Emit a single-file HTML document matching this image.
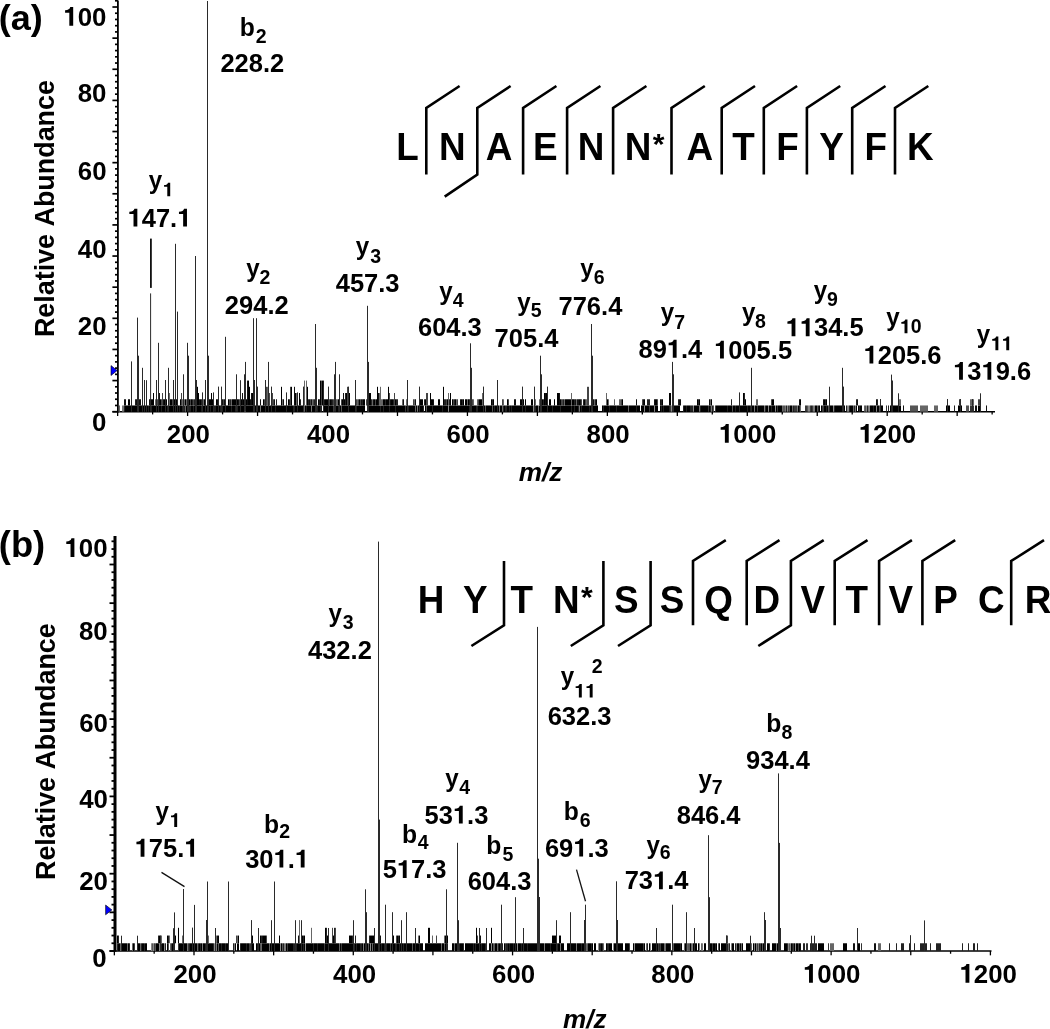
<!DOCTYPE html>
<html><head><meta charset="utf-8"><style>
html,body{margin:0;padding:0;background:#fff;}
body{width:1050px;height:1029px;overflow:hidden;}
svg{display:block;will-change:transform;}
text{font-family:"Liberation Sans",sans-serif;font-weight:bold;fill:#000;font-kerning:none;}
.h{fill:transparent;}
</style></head><body>
<svg width="1050" height="1029" viewBox="0 0 1050 1029">
<defs><path id="one" d="M0.384,0 L0.384,-0.70 L0.27,-0.70 C0.25,-0.62 0.19,-0.585 0.07,-0.58 L0.07,-0.49 L0.234,-0.49 L0.234,0 Z"/></defs>
<rect width="1050" height="1029" fill="#fff"/>
<line x1="117.90" y1="0.50" x2="117.90" y2="412.40" stroke="#000" stroke-width="1.8" stroke-linecap="butt"/>
<line x1="112.40" y1="411.70" x2="117.90" y2="411.70" stroke="#000" stroke-width="1.7" stroke-linecap="butt"/>
<line x1="115.00" y1="405.47" x2="117.90" y2="405.47" stroke="#000" stroke-width="1.7" stroke-linecap="butt"/>
<line x1="115.00" y1="399.25" x2="117.90" y2="399.25" stroke="#000" stroke-width="1.7" stroke-linecap="butt"/>
<line x1="115.00" y1="393.02" x2="117.90" y2="393.02" stroke="#000" stroke-width="1.7" stroke-linecap="butt"/>
<line x1="115.00" y1="386.80" x2="117.90" y2="386.80" stroke="#000" stroke-width="1.7" stroke-linecap="butt"/>
<line x1="112.40" y1="380.57" x2="117.90" y2="380.57" stroke="#000" stroke-width="1.7" stroke-linecap="butt"/>
<line x1="115.00" y1="374.34" x2="117.90" y2="374.34" stroke="#000" stroke-width="1.7" stroke-linecap="butt"/>
<line x1="115.00" y1="368.12" x2="117.90" y2="368.12" stroke="#000" stroke-width="1.7" stroke-linecap="butt"/>
<line x1="115.00" y1="361.89" x2="117.90" y2="361.89" stroke="#000" stroke-width="1.7" stroke-linecap="butt"/>
<line x1="115.00" y1="355.67" x2="117.90" y2="355.67" stroke="#000" stroke-width="1.7" stroke-linecap="butt"/>
<line x1="112.40" y1="349.44" x2="117.90" y2="349.44" stroke="#000" stroke-width="1.7" stroke-linecap="butt"/>
<line x1="115.00" y1="343.21" x2="117.90" y2="343.21" stroke="#000" stroke-width="1.7" stroke-linecap="butt"/>
<line x1="115.00" y1="336.99" x2="117.90" y2="336.99" stroke="#000" stroke-width="1.7" stroke-linecap="butt"/>
<line x1="115.00" y1="330.76" x2="117.90" y2="330.76" stroke="#000" stroke-width="1.7" stroke-linecap="butt"/>
<line x1="115.00" y1="324.54" x2="117.90" y2="324.54" stroke="#000" stroke-width="1.7" stroke-linecap="butt"/>
<line x1="112.40" y1="318.31" x2="117.90" y2="318.31" stroke="#000" stroke-width="1.7" stroke-linecap="butt"/>
<line x1="115.00" y1="312.08" x2="117.90" y2="312.08" stroke="#000" stroke-width="1.7" stroke-linecap="butt"/>
<line x1="115.00" y1="305.86" x2="117.90" y2="305.86" stroke="#000" stroke-width="1.7" stroke-linecap="butt"/>
<line x1="115.00" y1="299.63" x2="117.90" y2="299.63" stroke="#000" stroke-width="1.7" stroke-linecap="butt"/>
<line x1="115.00" y1="293.41" x2="117.90" y2="293.41" stroke="#000" stroke-width="1.7" stroke-linecap="butt"/>
<line x1="112.40" y1="287.18" x2="117.90" y2="287.18" stroke="#000" stroke-width="1.7" stroke-linecap="butt"/>
<line x1="115.00" y1="280.95" x2="117.90" y2="280.95" stroke="#000" stroke-width="1.7" stroke-linecap="butt"/>
<line x1="115.00" y1="274.73" x2="117.90" y2="274.73" stroke="#000" stroke-width="1.7" stroke-linecap="butt"/>
<line x1="115.00" y1="268.50" x2="117.90" y2="268.50" stroke="#000" stroke-width="1.7" stroke-linecap="butt"/>
<line x1="115.00" y1="262.28" x2="117.90" y2="262.28" stroke="#000" stroke-width="1.7" stroke-linecap="butt"/>
<line x1="112.40" y1="256.05" x2="117.90" y2="256.05" stroke="#000" stroke-width="1.7" stroke-linecap="butt"/>
<line x1="115.00" y1="249.82" x2="117.90" y2="249.82" stroke="#000" stroke-width="1.7" stroke-linecap="butt"/>
<line x1="115.00" y1="243.60" x2="117.90" y2="243.60" stroke="#000" stroke-width="1.7" stroke-linecap="butt"/>
<line x1="115.00" y1="237.37" x2="117.90" y2="237.37" stroke="#000" stroke-width="1.7" stroke-linecap="butt"/>
<line x1="115.00" y1="231.15" x2="117.90" y2="231.15" stroke="#000" stroke-width="1.7" stroke-linecap="butt"/>
<line x1="112.40" y1="224.92" x2="117.90" y2="224.92" stroke="#000" stroke-width="1.7" stroke-linecap="butt"/>
<line x1="115.00" y1="218.69" x2="117.90" y2="218.69" stroke="#000" stroke-width="1.7" stroke-linecap="butt"/>
<line x1="115.00" y1="212.47" x2="117.90" y2="212.47" stroke="#000" stroke-width="1.7" stroke-linecap="butt"/>
<line x1="115.00" y1="206.24" x2="117.90" y2="206.24" stroke="#000" stroke-width="1.7" stroke-linecap="butt"/>
<line x1="115.00" y1="200.02" x2="117.90" y2="200.02" stroke="#000" stroke-width="1.7" stroke-linecap="butt"/>
<line x1="112.40" y1="193.79" x2="117.90" y2="193.79" stroke="#000" stroke-width="1.7" stroke-linecap="butt"/>
<line x1="115.00" y1="187.56" x2="117.90" y2="187.56" stroke="#000" stroke-width="1.7" stroke-linecap="butt"/>
<line x1="115.00" y1="181.34" x2="117.90" y2="181.34" stroke="#000" stroke-width="1.7" stroke-linecap="butt"/>
<line x1="115.00" y1="175.11" x2="117.90" y2="175.11" stroke="#000" stroke-width="1.7" stroke-linecap="butt"/>
<line x1="115.00" y1="168.89" x2="117.90" y2="168.89" stroke="#000" stroke-width="1.7" stroke-linecap="butt"/>
<line x1="112.40" y1="162.66" x2="117.90" y2="162.66" stroke="#000" stroke-width="1.7" stroke-linecap="butt"/>
<line x1="115.00" y1="156.43" x2="117.90" y2="156.43" stroke="#000" stroke-width="1.7" stroke-linecap="butt"/>
<line x1="115.00" y1="150.21" x2="117.90" y2="150.21" stroke="#000" stroke-width="1.7" stroke-linecap="butt"/>
<line x1="115.00" y1="143.98" x2="117.90" y2="143.98" stroke="#000" stroke-width="1.7" stroke-linecap="butt"/>
<line x1="115.00" y1="137.76" x2="117.90" y2="137.76" stroke="#000" stroke-width="1.7" stroke-linecap="butt"/>
<line x1="112.40" y1="131.53" x2="117.90" y2="131.53" stroke="#000" stroke-width="1.7" stroke-linecap="butt"/>
<line x1="115.00" y1="125.30" x2="117.90" y2="125.30" stroke="#000" stroke-width="1.7" stroke-linecap="butt"/>
<line x1="115.00" y1="119.08" x2="117.90" y2="119.08" stroke="#000" stroke-width="1.7" stroke-linecap="butt"/>
<line x1="115.00" y1="112.85" x2="117.90" y2="112.85" stroke="#000" stroke-width="1.7" stroke-linecap="butt"/>
<line x1="115.00" y1="106.63" x2="117.90" y2="106.63" stroke="#000" stroke-width="1.7" stroke-linecap="butt"/>
<line x1="112.40" y1="100.40" x2="117.90" y2="100.40" stroke="#000" stroke-width="1.7" stroke-linecap="butt"/>
<line x1="115.00" y1="94.17" x2="117.90" y2="94.17" stroke="#000" stroke-width="1.7" stroke-linecap="butt"/>
<line x1="115.00" y1="87.95" x2="117.90" y2="87.95" stroke="#000" stroke-width="1.7" stroke-linecap="butt"/>
<line x1="115.00" y1="81.72" x2="117.90" y2="81.72" stroke="#000" stroke-width="1.7" stroke-linecap="butt"/>
<line x1="115.00" y1="75.50" x2="117.90" y2="75.50" stroke="#000" stroke-width="1.7" stroke-linecap="butt"/>
<line x1="112.40" y1="69.27" x2="117.90" y2="69.27" stroke="#000" stroke-width="1.7" stroke-linecap="butt"/>
<line x1="115.00" y1="63.04" x2="117.90" y2="63.04" stroke="#000" stroke-width="1.7" stroke-linecap="butt"/>
<line x1="115.00" y1="56.82" x2="117.90" y2="56.82" stroke="#000" stroke-width="1.7" stroke-linecap="butt"/>
<line x1="115.00" y1="50.59" x2="117.90" y2="50.59" stroke="#000" stroke-width="1.7" stroke-linecap="butt"/>
<line x1="115.00" y1="44.37" x2="117.90" y2="44.37" stroke="#000" stroke-width="1.7" stroke-linecap="butt"/>
<line x1="112.40" y1="38.14" x2="117.90" y2="38.14" stroke="#000" stroke-width="1.7" stroke-linecap="butt"/>
<line x1="115.00" y1="31.91" x2="117.90" y2="31.91" stroke="#000" stroke-width="1.7" stroke-linecap="butt"/>
<line x1="115.00" y1="25.69" x2="117.90" y2="25.69" stroke="#000" stroke-width="1.7" stroke-linecap="butt"/>
<line x1="115.00" y1="19.46" x2="117.90" y2="19.46" stroke="#000" stroke-width="1.7" stroke-linecap="butt"/>
<line x1="115.00" y1="13.24" x2="117.90" y2="13.24" stroke="#000" stroke-width="1.7" stroke-linecap="butt"/>
<line x1="112.40" y1="7.01" x2="117.90" y2="7.01" stroke="#000" stroke-width="1.7" stroke-linecap="butt"/>
<line x1="115.00" y1="0.78" x2="117.90" y2="0.78" stroke="#000" stroke-width="1.7" stroke-linecap="butt"/>
<line x1="112.40" y1="411.70" x2="995.00" y2="411.70" stroke="#000" stroke-width="1.4" stroke-linecap="butt"/>
<line x1="117.64" y1="411.70" x2="117.64" y2="416.00" stroke="#000" stroke-width="1.3" stroke-linecap="butt"/>
<line x1="152.62" y1="411.70" x2="152.62" y2="414.40" stroke="#000" stroke-width="1.3" stroke-linecap="butt"/>
<line x1="187.60" y1="411.70" x2="187.60" y2="416.00" stroke="#000" stroke-width="1.3" stroke-linecap="butt"/>
<line x1="222.58" y1="411.70" x2="222.58" y2="414.40" stroke="#000" stroke-width="1.3" stroke-linecap="butt"/>
<line x1="257.56" y1="411.70" x2="257.56" y2="416.00" stroke="#000" stroke-width="1.3" stroke-linecap="butt"/>
<line x1="292.54" y1="411.70" x2="292.54" y2="414.40" stroke="#000" stroke-width="1.3" stroke-linecap="butt"/>
<line x1="327.52" y1="411.70" x2="327.52" y2="416.00" stroke="#000" stroke-width="1.3" stroke-linecap="butt"/>
<line x1="362.50" y1="411.70" x2="362.50" y2="414.40" stroke="#000" stroke-width="1.3" stroke-linecap="butt"/>
<line x1="397.48" y1="411.70" x2="397.48" y2="416.00" stroke="#000" stroke-width="1.3" stroke-linecap="butt"/>
<line x1="432.46" y1="411.70" x2="432.46" y2="414.40" stroke="#000" stroke-width="1.3" stroke-linecap="butt"/>
<line x1="467.44" y1="411.70" x2="467.44" y2="416.00" stroke="#000" stroke-width="1.3" stroke-linecap="butt"/>
<line x1="502.42" y1="411.70" x2="502.42" y2="414.40" stroke="#000" stroke-width="1.3" stroke-linecap="butt"/>
<line x1="537.40" y1="411.70" x2="537.40" y2="416.00" stroke="#000" stroke-width="1.3" stroke-linecap="butt"/>
<line x1="572.38" y1="411.70" x2="572.38" y2="414.40" stroke="#000" stroke-width="1.3" stroke-linecap="butt"/>
<line x1="607.36" y1="411.70" x2="607.36" y2="416.00" stroke="#000" stroke-width="1.3" stroke-linecap="butt"/>
<line x1="642.34" y1="411.70" x2="642.34" y2="414.40" stroke="#000" stroke-width="1.3" stroke-linecap="butt"/>
<line x1="677.32" y1="411.70" x2="677.32" y2="416.00" stroke="#000" stroke-width="1.3" stroke-linecap="butt"/>
<line x1="712.30" y1="411.70" x2="712.30" y2="414.40" stroke="#000" stroke-width="1.3" stroke-linecap="butt"/>
<line x1="747.28" y1="411.70" x2="747.28" y2="416.00" stroke="#000" stroke-width="1.3" stroke-linecap="butt"/>
<line x1="782.26" y1="411.70" x2="782.26" y2="414.40" stroke="#000" stroke-width="1.3" stroke-linecap="butt"/>
<line x1="817.24" y1="411.70" x2="817.24" y2="416.00" stroke="#000" stroke-width="1.3" stroke-linecap="butt"/>
<line x1="852.22" y1="411.70" x2="852.22" y2="414.40" stroke="#000" stroke-width="1.3" stroke-linecap="butt"/>
<line x1="887.20" y1="411.70" x2="887.20" y2="416.00" stroke="#000" stroke-width="1.3" stroke-linecap="butt"/>
<line x1="922.18" y1="411.70" x2="922.18" y2="414.40" stroke="#000" stroke-width="1.3" stroke-linecap="butt"/>
<line x1="957.16" y1="411.70" x2="957.16" y2="416.00" stroke="#000" stroke-width="1.3" stroke-linecap="butt"/>
<line x1="992.14" y1="411.70" x2="992.14" y2="414.40" stroke="#000" stroke-width="1.3" stroke-linecap="butt"/>
<line x1="115.00" y1="536.10" x2="115.00" y2="951.75" stroke="#000" stroke-width="3.0" stroke-linecap="butt"/>
<line x1="109.50" y1="951.00" x2="115.00" y2="951.00" stroke="#000" stroke-width="1.8" stroke-linecap="butt"/>
<line x1="111.50" y1="943.27" x2="115.00" y2="943.27" stroke="#000" stroke-width="1.8" stroke-linecap="butt"/>
<line x1="111.50" y1="935.54" x2="115.00" y2="935.54" stroke="#000" stroke-width="1.8" stroke-linecap="butt"/>
<line x1="111.50" y1="927.81" x2="115.00" y2="927.81" stroke="#000" stroke-width="1.8" stroke-linecap="butt"/>
<line x1="111.50" y1="920.08" x2="115.00" y2="920.08" stroke="#000" stroke-width="1.8" stroke-linecap="butt"/>
<line x1="109.50" y1="912.35" x2="115.00" y2="912.35" stroke="#000" stroke-width="1.8" stroke-linecap="butt"/>
<line x1="111.50" y1="904.62" x2="115.00" y2="904.62" stroke="#000" stroke-width="1.8" stroke-linecap="butt"/>
<line x1="111.50" y1="896.89" x2="115.00" y2="896.89" stroke="#000" stroke-width="1.8" stroke-linecap="butt"/>
<line x1="111.50" y1="889.16" x2="115.00" y2="889.16" stroke="#000" stroke-width="1.8" stroke-linecap="butt"/>
<line x1="111.50" y1="881.43" x2="115.00" y2="881.43" stroke="#000" stroke-width="1.8" stroke-linecap="butt"/>
<line x1="109.50" y1="873.70" x2="115.00" y2="873.70" stroke="#000" stroke-width="1.8" stroke-linecap="butt"/>
<line x1="111.50" y1="865.97" x2="115.00" y2="865.97" stroke="#000" stroke-width="1.8" stroke-linecap="butt"/>
<line x1="111.50" y1="858.24" x2="115.00" y2="858.24" stroke="#000" stroke-width="1.8" stroke-linecap="butt"/>
<line x1="111.50" y1="850.51" x2="115.00" y2="850.51" stroke="#000" stroke-width="1.8" stroke-linecap="butt"/>
<line x1="111.50" y1="842.78" x2="115.00" y2="842.78" stroke="#000" stroke-width="1.8" stroke-linecap="butt"/>
<line x1="109.50" y1="835.05" x2="115.00" y2="835.05" stroke="#000" stroke-width="1.8" stroke-linecap="butt"/>
<line x1="111.50" y1="827.32" x2="115.00" y2="827.32" stroke="#000" stroke-width="1.8" stroke-linecap="butt"/>
<line x1="111.50" y1="819.59" x2="115.00" y2="819.59" stroke="#000" stroke-width="1.8" stroke-linecap="butt"/>
<line x1="111.50" y1="811.86" x2="115.00" y2="811.86" stroke="#000" stroke-width="1.8" stroke-linecap="butt"/>
<line x1="111.50" y1="804.13" x2="115.00" y2="804.13" stroke="#000" stroke-width="1.8" stroke-linecap="butt"/>
<line x1="109.50" y1="796.40" x2="115.00" y2="796.40" stroke="#000" stroke-width="1.8" stroke-linecap="butt"/>
<line x1="111.50" y1="788.67" x2="115.00" y2="788.67" stroke="#000" stroke-width="1.8" stroke-linecap="butt"/>
<line x1="111.50" y1="780.94" x2="115.00" y2="780.94" stroke="#000" stroke-width="1.8" stroke-linecap="butt"/>
<line x1="111.50" y1="773.21" x2="115.00" y2="773.21" stroke="#000" stroke-width="1.8" stroke-linecap="butt"/>
<line x1="111.50" y1="765.48" x2="115.00" y2="765.48" stroke="#000" stroke-width="1.8" stroke-linecap="butt"/>
<line x1="109.50" y1="757.75" x2="115.00" y2="757.75" stroke="#000" stroke-width="1.8" stroke-linecap="butt"/>
<line x1="111.50" y1="750.02" x2="115.00" y2="750.02" stroke="#000" stroke-width="1.8" stroke-linecap="butt"/>
<line x1="111.50" y1="742.29" x2="115.00" y2="742.29" stroke="#000" stroke-width="1.8" stroke-linecap="butt"/>
<line x1="111.50" y1="734.56" x2="115.00" y2="734.56" stroke="#000" stroke-width="1.8" stroke-linecap="butt"/>
<line x1="111.50" y1="726.83" x2="115.00" y2="726.83" stroke="#000" stroke-width="1.8" stroke-linecap="butt"/>
<line x1="109.50" y1="719.10" x2="115.00" y2="719.10" stroke="#000" stroke-width="1.8" stroke-linecap="butt"/>
<line x1="111.50" y1="711.37" x2="115.00" y2="711.37" stroke="#000" stroke-width="1.8" stroke-linecap="butt"/>
<line x1="111.50" y1="703.64" x2="115.00" y2="703.64" stroke="#000" stroke-width="1.8" stroke-linecap="butt"/>
<line x1="111.50" y1="695.91" x2="115.00" y2="695.91" stroke="#000" stroke-width="1.8" stroke-linecap="butt"/>
<line x1="111.50" y1="688.18" x2="115.00" y2="688.18" stroke="#000" stroke-width="1.8" stroke-linecap="butt"/>
<line x1="109.50" y1="680.45" x2="115.00" y2="680.45" stroke="#000" stroke-width="1.8" stroke-linecap="butt"/>
<line x1="111.50" y1="672.72" x2="115.00" y2="672.72" stroke="#000" stroke-width="1.8" stroke-linecap="butt"/>
<line x1="111.50" y1="664.99" x2="115.00" y2="664.99" stroke="#000" stroke-width="1.8" stroke-linecap="butt"/>
<line x1="111.50" y1="657.26" x2="115.00" y2="657.26" stroke="#000" stroke-width="1.8" stroke-linecap="butt"/>
<line x1="111.50" y1="649.53" x2="115.00" y2="649.53" stroke="#000" stroke-width="1.8" stroke-linecap="butt"/>
<line x1="109.50" y1="641.80" x2="115.00" y2="641.80" stroke="#000" stroke-width="1.8" stroke-linecap="butt"/>
<line x1="111.50" y1="634.07" x2="115.00" y2="634.07" stroke="#000" stroke-width="1.8" stroke-linecap="butt"/>
<line x1="111.50" y1="626.34" x2="115.00" y2="626.34" stroke="#000" stroke-width="1.8" stroke-linecap="butt"/>
<line x1="111.50" y1="618.61" x2="115.00" y2="618.61" stroke="#000" stroke-width="1.8" stroke-linecap="butt"/>
<line x1="111.50" y1="610.88" x2="115.00" y2="610.88" stroke="#000" stroke-width="1.8" stroke-linecap="butt"/>
<line x1="109.50" y1="603.15" x2="115.00" y2="603.15" stroke="#000" stroke-width="1.8" stroke-linecap="butt"/>
<line x1="111.50" y1="595.42" x2="115.00" y2="595.42" stroke="#000" stroke-width="1.8" stroke-linecap="butt"/>
<line x1="111.50" y1="587.69" x2="115.00" y2="587.69" stroke="#000" stroke-width="1.8" stroke-linecap="butt"/>
<line x1="111.50" y1="579.96" x2="115.00" y2="579.96" stroke="#000" stroke-width="1.8" stroke-linecap="butt"/>
<line x1="111.50" y1="572.23" x2="115.00" y2="572.23" stroke="#000" stroke-width="1.8" stroke-linecap="butt"/>
<line x1="109.50" y1="564.50" x2="115.00" y2="564.50" stroke="#000" stroke-width="1.8" stroke-linecap="butt"/>
<line x1="111.50" y1="556.77" x2="115.00" y2="556.77" stroke="#000" stroke-width="1.8" stroke-linecap="butt"/>
<line x1="111.50" y1="549.04" x2="115.00" y2="549.04" stroke="#000" stroke-width="1.8" stroke-linecap="butt"/>
<line x1="111.50" y1="541.31" x2="115.00" y2="541.31" stroke="#000" stroke-width="1.8" stroke-linecap="butt"/>
<line x1="109.50" y1="951.00" x2="991.50" y2="951.00" stroke="#000" stroke-width="1.5" stroke-linecap="butt"/>
<line x1="114.36" y1="951.00" x2="114.36" y2="955.35" stroke="#000" stroke-width="1.3" stroke-linecap="butt"/>
<line x1="154.18" y1="951.00" x2="154.18" y2="953.75" stroke="#000" stroke-width="1.3" stroke-linecap="butt"/>
<line x1="194.00" y1="951.00" x2="194.00" y2="955.35" stroke="#000" stroke-width="1.3" stroke-linecap="butt"/>
<line x1="233.82" y1="951.00" x2="233.82" y2="953.75" stroke="#000" stroke-width="1.3" stroke-linecap="butt"/>
<line x1="273.64" y1="951.00" x2="273.64" y2="955.35" stroke="#000" stroke-width="1.3" stroke-linecap="butt"/>
<line x1="313.46" y1="951.00" x2="313.46" y2="953.75" stroke="#000" stroke-width="1.3" stroke-linecap="butt"/>
<line x1="353.28" y1="951.00" x2="353.28" y2="955.35" stroke="#000" stroke-width="1.3" stroke-linecap="butt"/>
<line x1="393.10" y1="951.00" x2="393.10" y2="953.75" stroke="#000" stroke-width="1.3" stroke-linecap="butt"/>
<line x1="432.92" y1="951.00" x2="432.92" y2="955.35" stroke="#000" stroke-width="1.3" stroke-linecap="butt"/>
<line x1="472.74" y1="951.00" x2="472.74" y2="953.75" stroke="#000" stroke-width="1.3" stroke-linecap="butt"/>
<line x1="512.56" y1="951.00" x2="512.56" y2="955.35" stroke="#000" stroke-width="1.3" stroke-linecap="butt"/>
<line x1="552.38" y1="951.00" x2="552.38" y2="953.75" stroke="#000" stroke-width="1.3" stroke-linecap="butt"/>
<line x1="592.20" y1="951.00" x2="592.20" y2="955.35" stroke="#000" stroke-width="1.3" stroke-linecap="butt"/>
<line x1="632.02" y1="951.00" x2="632.02" y2="953.75" stroke="#000" stroke-width="1.3" stroke-linecap="butt"/>
<line x1="671.84" y1="951.00" x2="671.84" y2="955.35" stroke="#000" stroke-width="1.3" stroke-linecap="butt"/>
<line x1="711.66" y1="951.00" x2="711.66" y2="953.75" stroke="#000" stroke-width="1.3" stroke-linecap="butt"/>
<line x1="751.48" y1="951.00" x2="751.48" y2="955.35" stroke="#000" stroke-width="1.3" stroke-linecap="butt"/>
<line x1="791.30" y1="951.00" x2="791.30" y2="953.75" stroke="#000" stroke-width="1.3" stroke-linecap="butt"/>
<line x1="831.12" y1="951.00" x2="831.12" y2="955.35" stroke="#000" stroke-width="1.3" stroke-linecap="butt"/>
<line x1="870.94" y1="951.00" x2="870.94" y2="953.75" stroke="#000" stroke-width="1.3" stroke-linecap="butt"/>
<line x1="910.76" y1="951.00" x2="910.76" y2="955.35" stroke="#000" stroke-width="1.3" stroke-linecap="butt"/>
<line x1="950.58" y1="951.00" x2="950.58" y2="953.75" stroke="#000" stroke-width="1.3" stroke-linecap="butt"/>
<line x1="990.40" y1="951.00" x2="990.40" y2="955.35" stroke="#000" stroke-width="1.3" stroke-linecap="butt"/>
<polygon points="111,365.6 117.2,370.5 111,375.5" fill="#0000ff" stroke="#000" stroke-width="0.6"/>
<polygon points="105.6,905 111.9,909.9 105.6,914.8" fill="#0000ff" stroke="#000" stroke-width="0.6"/>
<rect x="118.00" y="405.47" width="1.00" height="6.23" fill="#3a3a3a"/>
<rect x="119.00" y="405.47" width="1.00" height="6.23" fill="#666"/>
<rect x="122.00" y="405.47" width="1.00" height="6.23" fill="#777"/>
<rect x="123.00" y="405.47" width="1.00" height="6.23" fill="#777"/>
<rect x="124.00" y="405.47" width="1.00" height="6.23" fill="#222"/>
<rect x="125.00" y="405.47" width="1.00" height="6.23" fill="#000"/>
<rect x="126.00" y="405.47" width="1.00" height="6.23" fill="#000"/>
<rect x="127.00" y="405.47" width="1.00" height="6.23" fill="#000"/>
<rect x="128.00" y="405.47" width="1.00" height="6.23" fill="#000"/>
<rect x="129.00" y="405.47" width="1.00" height="6.23" fill="#000"/>
<rect x="130.00" y="405.47" width="1.00" height="6.23" fill="#000"/>
<rect x="131.00" y="405.47" width="1.00" height="6.23" fill="#000"/>
<rect x="132.00" y="405.47" width="1.00" height="6.23" fill="#000"/>
<rect x="133.00" y="405.47" width="1.00" height="6.23" fill="#000"/>
<rect x="134.00" y="405.47" width="1.00" height="6.23" fill="#000"/>
<rect x="135.00" y="405.47" width="1.00" height="6.23" fill="#000"/>
<rect x="136.00" y="405.47" width="1.00" height="6.23" fill="#000"/>
<rect x="137.00" y="405.47" width="1.00" height="6.23" fill="#000"/>
<rect x="138.00" y="405.47" width="1.00" height="6.23" fill="#222"/>
<rect x="139.00" y="405.47" width="1.00" height="6.23" fill="#000"/>
<rect x="140.00" y="405.47" width="1.00" height="6.23" fill="#000"/>
<rect x="141.00" y="405.47" width="1.00" height="6.23" fill="#000"/>
<rect x="142.00" y="405.47" width="1.00" height="6.23" fill="#000"/>
<rect x="143.00" y="405.47" width="1.00" height="6.23" fill="#000"/>
<rect x="144.00" y="405.47" width="1.00" height="6.23" fill="#000"/>
<rect x="145.00" y="405.47" width="1.00" height="6.23" fill="#000"/>
<rect x="146.00" y="405.47" width="1.00" height="6.23" fill="#000"/>
<rect x="147.00" y="405.47" width="1.00" height="6.23" fill="#000"/>
<rect x="148.00" y="405.47" width="1.00" height="6.23" fill="#222"/>
<rect x="149.00" y="405.47" width="1.00" height="6.23" fill="#000"/>
<rect x="150.00" y="405.47" width="1.00" height="6.23" fill="#000"/>
<rect x="151.00" y="405.47" width="1.00" height="6.23" fill="#222"/>
<rect x="152.00" y="405.47" width="1.00" height="6.23" fill="#000"/>
<rect x="153.00" y="405.47" width="1.00" height="6.23" fill="#000"/>
<rect x="154.00" y="405.47" width="1.00" height="6.23" fill="#000"/>
<rect x="155.00" y="405.47" width="1.00" height="6.23" fill="#000"/>
<rect x="156.00" y="405.47" width="1.00" height="6.23" fill="#000"/>
<rect x="157.00" y="405.47" width="1.00" height="6.23" fill="#000"/>
<rect x="158.00" y="405.47" width="1.00" height="6.23" fill="#222"/>
<rect x="159.00" y="405.47" width="1.00" height="6.23" fill="#000"/>
<rect x="160.00" y="405.47" width="1.00" height="6.23" fill="#000"/>
<rect x="161.00" y="405.47" width="1.00" height="6.23" fill="#222"/>
<rect x="162.00" y="405.47" width="1.00" height="6.23" fill="#000"/>
<rect x="163.00" y="405.47" width="1.00" height="6.23" fill="#000"/>
<rect x="164.00" y="405.47" width="1.00" height="6.23" fill="#000"/>
<rect x="165.00" y="405.47" width="1.00" height="6.23" fill="#000"/>
<rect x="166.00" y="405.47" width="1.00" height="6.23" fill="#000"/>
<rect x="167.00" y="405.47" width="1.00" height="6.23" fill="#222"/>
<rect x="168.00" y="405.47" width="1.00" height="6.23" fill="#000"/>
<rect x="169.00" y="405.47" width="1.00" height="6.23" fill="#000"/>
<rect x="170.00" y="405.47" width="1.00" height="6.23" fill="#000"/>
<rect x="171.00" y="405.47" width="1.00" height="6.23" fill="#000"/>
<rect x="172.00" y="405.47" width="1.00" height="6.23" fill="#000"/>
<rect x="173.00" y="405.47" width="1.00" height="6.23" fill="#000"/>
<rect x="174.00" y="405.47" width="1.00" height="6.23" fill="#000"/>
<rect x="175.00" y="405.47" width="1.00" height="6.23" fill="#000"/>
<rect x="176.00" y="405.47" width="1.00" height="6.23" fill="#000"/>
<rect x="177.00" y="405.47" width="1.00" height="6.23" fill="#000"/>
<rect x="178.00" y="405.47" width="1.00" height="6.23" fill="#000"/>
<rect x="179.00" y="405.47" width="1.00" height="6.23" fill="#222"/>
<rect x="180.00" y="405.47" width="1.00" height="6.23" fill="#000"/>
<rect x="181.00" y="405.47" width="1.00" height="6.23" fill="#000"/>
<rect x="182.00" y="405.47" width="1.00" height="6.23" fill="#222"/>
<rect x="183.00" y="405.47" width="1.00" height="6.23" fill="#000"/>
<rect x="184.00" y="405.47" width="1.00" height="6.23" fill="#222"/>
<rect x="185.00" y="405.47" width="1.00" height="6.23" fill="#666"/>
<rect x="186.00" y="405.47" width="1.00" height="6.23" fill="#000"/>
<rect x="187.00" y="405.47" width="1.00" height="6.23" fill="#000"/>
<rect x="188.00" y="405.47" width="1.00" height="6.23" fill="#000"/>
<rect x="189.00" y="405.47" width="1.00" height="6.23" fill="#222"/>
<rect x="190.00" y="405.47" width="1.00" height="6.23" fill="#222"/>
<rect x="191.00" y="405.47" width="1.00" height="6.23" fill="#000"/>
<rect x="192.00" y="405.47" width="1.00" height="6.23" fill="#000"/>
<rect x="193.00" y="405.47" width="1.00" height="6.23" fill="#222"/>
<rect x="194.00" y="405.47" width="1.00" height="6.23" fill="#000"/>
<rect x="195.00" y="405.47" width="1.00" height="6.23" fill="#3a3a3a"/>
<rect x="196.00" y="405.47" width="1.00" height="6.23" fill="#000"/>
<rect x="197.00" y="405.47" width="1.00" height="6.23" fill="#000"/>
<rect x="198.00" y="405.47" width="1.00" height="6.23" fill="#000"/>
<rect x="199.00" y="405.47" width="1.00" height="6.23" fill="#000"/>
<rect x="200.00" y="405.47" width="1.00" height="6.23" fill="#000"/>
<rect x="201.00" y="405.47" width="1.00" height="6.23" fill="#222"/>
<rect x="202.00" y="405.47" width="1.00" height="6.23" fill="#000"/>
<rect x="203.00" y="405.47" width="1.00" height="6.23" fill="#000"/>
<rect x="204.00" y="405.47" width="1.00" height="6.23" fill="#000"/>
<rect x="205.00" y="405.47" width="1.00" height="6.23" fill="#000"/>
<rect x="206.00" y="405.47" width="1.00" height="6.23" fill="#000"/>
<rect x="207.00" y="405.47" width="1.00" height="6.23" fill="#000"/>
<rect x="208.00" y="405.47" width="1.00" height="6.23" fill="#000"/>
<rect x="209.00" y="405.47" width="1.00" height="6.23" fill="#000"/>
<rect x="210.00" y="405.47" width="1.00" height="6.23" fill="#222"/>
<rect x="211.00" y="405.47" width="1.00" height="6.23" fill="#000"/>
<rect x="212.00" y="405.47" width="1.00" height="6.23" fill="#000"/>
<rect x="213.00" y="405.47" width="1.00" height="6.23" fill="#222"/>
<rect x="214.00" y="405.47" width="1.00" height="6.23" fill="#222"/>
<rect x="215.00" y="405.47" width="1.00" height="6.23" fill="#222"/>
<rect x="216.00" y="405.47" width="1.00" height="6.23" fill="#000"/>
<rect x="217.00" y="405.47" width="1.00" height="6.23" fill="#000"/>
<rect x="218.00" y="405.47" width="1.00" height="6.23" fill="#000"/>
<rect x="219.00" y="405.47" width="1.00" height="6.23" fill="#000"/>
<rect x="220.00" y="405.47" width="1.00" height="6.23" fill="#222"/>
<rect x="221.00" y="405.47" width="1.00" height="6.23" fill="#222"/>
<rect x="222.00" y="405.47" width="1.00" height="6.23" fill="#222"/>
<rect x="223.00" y="405.47" width="1.00" height="6.23" fill="#000"/>
<rect x="224.00" y="405.47" width="1.00" height="6.23" fill="#000"/>
<rect x="225.00" y="405.47" width="1.00" height="6.23" fill="#000"/>
<rect x="226.00" y="405.47" width="1.00" height="6.23" fill="#000"/>
<rect x="227.00" y="405.47" width="1.00" height="6.23" fill="#000"/>
<rect x="228.00" y="405.47" width="1.00" height="6.23" fill="#000"/>
<rect x="229.00" y="405.47" width="1.00" height="6.23" fill="#000"/>
<rect x="230.00" y="405.47" width="1.00" height="6.23" fill="#000"/>
<rect x="231.00" y="405.47" width="1.00" height="6.23" fill="#222"/>
<rect x="232.00" y="405.47" width="1.00" height="6.23" fill="#000"/>
<rect x="233.00" y="405.47" width="1.00" height="6.23" fill="#000"/>
<rect x="234.00" y="405.47" width="1.00" height="6.23" fill="#000"/>
<rect x="235.00" y="405.47" width="1.00" height="6.23" fill="#222"/>
<rect x="236.00" y="405.47" width="1.00" height="6.23" fill="#000"/>
<rect x="237.00" y="405.47" width="1.00" height="6.23" fill="#222"/>
<rect x="238.00" y="405.47" width="1.00" height="6.23" fill="#000"/>
<rect x="239.00" y="405.47" width="1.00" height="6.23" fill="#000"/>
<rect x="240.00" y="405.47" width="1.00" height="6.23" fill="#000"/>
<rect x="241.00" y="405.47" width="1.00" height="6.23" fill="#000"/>
<rect x="242.00" y="405.47" width="1.00" height="6.23" fill="#000"/>
<rect x="243.00" y="405.47" width="1.00" height="6.23" fill="#000"/>
<rect x="244.00" y="405.47" width="1.00" height="6.23" fill="#666"/>
<rect x="245.00" y="405.47" width="1.00" height="6.23" fill="#888"/>
<rect x="246.00" y="405.47" width="1.00" height="6.23" fill="#000"/>
<rect x="247.00" y="405.47" width="1.00" height="6.23" fill="#000"/>
<rect x="248.00" y="405.47" width="1.00" height="6.23" fill="#000"/>
<rect x="249.00" y="405.47" width="1.00" height="6.23" fill="#000"/>
<rect x="250.00" y="405.47" width="1.00" height="6.23" fill="#000"/>
<rect x="251.00" y="405.47" width="1.00" height="6.23" fill="#000"/>
<rect x="252.00" y="405.47" width="1.00" height="6.23" fill="#000"/>
<rect x="253.00" y="405.47" width="1.00" height="6.23" fill="#000"/>
<rect x="254.00" y="405.47" width="1.00" height="6.23" fill="#000"/>
<rect x="255.00" y="405.47" width="1.00" height="6.23" fill="#000"/>
<rect x="256.00" y="405.47" width="1.00" height="6.23" fill="#000"/>
<rect x="257.00" y="405.47" width="1.00" height="6.23" fill="#000"/>
<rect x="258.00" y="405.47" width="1.00" height="6.23" fill="#000"/>
<rect x="259.00" y="405.47" width="1.00" height="6.23" fill="#000"/>
<rect x="260.00" y="405.47" width="1.00" height="6.23" fill="#777"/>
<rect x="261.00" y="405.47" width="1.00" height="6.23" fill="#000"/>
<rect x="262.00" y="405.47" width="1.00" height="6.23" fill="#000"/>
<rect x="263.00" y="405.47" width="1.00" height="6.23" fill="#000"/>
<rect x="264.00" y="405.47" width="1.00" height="6.23" fill="#000"/>
<rect x="265.00" y="405.47" width="1.00" height="6.23" fill="#222"/>
<rect x="266.00" y="405.47" width="1.00" height="6.23" fill="#000"/>
<rect x="267.00" y="405.47" width="1.00" height="6.23" fill="#000"/>
<rect x="268.00" y="405.47" width="1.00" height="6.23" fill="#000"/>
<rect x="269.00" y="405.47" width="1.00" height="6.23" fill="#000"/>
<rect x="270.00" y="405.47" width="1.00" height="6.23" fill="#000"/>
<rect x="271.00" y="405.47" width="1.00" height="6.23" fill="#000"/>
<rect x="272.00" y="405.47" width="1.00" height="6.23" fill="#000"/>
<rect x="273.00" y="405.47" width="1.00" height="6.23" fill="#000"/>
<rect x="274.00" y="405.47" width="1.00" height="6.23" fill="#000"/>
<rect x="275.00" y="405.47" width="1.00" height="6.23" fill="#222"/>
<rect x="276.00" y="405.47" width="1.00" height="6.23" fill="#000"/>
<rect x="277.00" y="405.47" width="1.00" height="6.23" fill="#000"/>
<rect x="278.00" y="405.47" width="1.00" height="6.23" fill="#000"/>
<rect x="279.00" y="405.47" width="1.00" height="6.23" fill="#000"/>
<rect x="280.00" y="405.47" width="1.00" height="6.23" fill="#000"/>
<rect x="281.00" y="405.47" width="1.00" height="6.23" fill="#000"/>
<rect x="282.00" y="405.47" width="1.00" height="6.23" fill="#000"/>
<rect x="283.00" y="405.47" width="1.00" height="6.23" fill="#000"/>
<rect x="284.00" y="405.47" width="1.00" height="6.23" fill="#000"/>
<rect x="285.00" y="405.47" width="1.00" height="6.23" fill="#000"/>
<rect x="286.00" y="405.47" width="1.00" height="6.23" fill="#000"/>
<rect x="287.00" y="405.47" width="1.00" height="6.23" fill="#000"/>
<rect x="288.00" y="405.47" width="1.00" height="6.23" fill="#000"/>
<rect x="289.00" y="405.47" width="1.00" height="6.23" fill="#000"/>
<rect x="290.00" y="405.47" width="1.00" height="6.23" fill="#000"/>
<rect x="291.00" y="405.47" width="1.00" height="6.23" fill="#000"/>
<rect x="292.00" y="405.47" width="1.00" height="6.23" fill="#000"/>
<rect x="293.00" y="405.47" width="1.00" height="6.23" fill="#222"/>
<rect x="294.00" y="405.47" width="1.00" height="6.23" fill="#222"/>
<rect x="295.00" y="405.47" width="1.00" height="6.23" fill="#000"/>
<rect x="296.00" y="405.47" width="1.00" height="6.23" fill="#000"/>
<rect x="297.00" y="405.47" width="1.00" height="6.23" fill="#000"/>
<rect x="298.00" y="405.47" width="1.00" height="6.23" fill="#000"/>
<rect x="299.00" y="405.47" width="1.00" height="6.23" fill="#000"/>
<rect x="300.00" y="405.47" width="1.00" height="6.23" fill="#000"/>
<rect x="301.00" y="405.47" width="1.00" height="6.23" fill="#000"/>
<rect x="302.00" y="405.47" width="1.00" height="6.23" fill="#000"/>
<rect x="303.00" y="405.47" width="1.00" height="6.23" fill="#222"/>
<rect x="304.00" y="405.47" width="1.00" height="6.23" fill="#666"/>
<rect x="305.00" y="405.47" width="1.00" height="6.23" fill="#000"/>
<rect x="306.00" y="405.47" width="1.00" height="6.23" fill="#222"/>
<rect x="307.00" y="405.47" width="1.00" height="6.23" fill="#000"/>
<rect x="308.00" y="405.47" width="1.00" height="6.23" fill="#000"/>
<rect x="309.00" y="405.47" width="1.00" height="6.23" fill="#000"/>
<rect x="310.00" y="405.47" width="1.00" height="6.23" fill="#000"/>
<rect x="311.00" y="405.47" width="1.00" height="6.23" fill="#777"/>
<rect x="312.00" y="405.47" width="1.00" height="6.23" fill="#000"/>
<rect x="313.00" y="405.47" width="1.00" height="6.23" fill="#000"/>
<rect x="314.00" y="405.47" width="1.00" height="6.23" fill="#000"/>
<rect x="315.00" y="405.47" width="1.00" height="6.23" fill="#222"/>
<rect x="316.00" y="405.47" width="1.00" height="6.23" fill="#000"/>
<rect x="317.00" y="405.47" width="1.00" height="6.23" fill="#222"/>
<rect x="318.00" y="405.47" width="1.00" height="6.23" fill="#000"/>
<rect x="319.00" y="405.47" width="1.00" height="6.23" fill="#000"/>
<rect x="320.00" y="405.47" width="1.00" height="6.23" fill="#222"/>
<rect x="321.00" y="405.47" width="1.00" height="6.23" fill="#222"/>
<rect x="323.00" y="405.47" width="1.00" height="6.23" fill="#000"/>
<rect x="324.00" y="405.47" width="1.00" height="6.23" fill="#000"/>
<rect x="325.00" y="405.47" width="1.00" height="6.23" fill="#000"/>
<rect x="326.00" y="405.47" width="1.00" height="6.23" fill="#000"/>
<rect x="327.00" y="405.47" width="1.00" height="6.23" fill="#000"/>
<rect x="328.00" y="405.47" width="1.00" height="6.23" fill="#000"/>
<rect x="329.00" y="405.47" width="1.00" height="6.23" fill="#000"/>
<rect x="330.00" y="405.47" width="1.00" height="6.23" fill="#000"/>
<rect x="331.00" y="405.47" width="1.00" height="6.23" fill="#000"/>
<rect x="332.00" y="405.47" width="1.00" height="6.23" fill="#000"/>
<rect x="333.00" y="405.47" width="1.00" height="6.23" fill="#3a3a3a"/>
<rect x="334.00" y="405.47" width="1.00" height="6.23" fill="#000"/>
<rect x="335.00" y="405.47" width="1.00" height="6.23" fill="#000"/>
<rect x="336.00" y="405.47" width="1.00" height="6.23" fill="#000"/>
<rect x="337.00" y="405.47" width="1.00" height="6.23" fill="#000"/>
<rect x="338.00" y="405.47" width="1.00" height="6.23" fill="#222"/>
<rect x="339.00" y="405.47" width="1.00" height="6.23" fill="#000"/>
<rect x="340.00" y="405.47" width="1.00" height="6.23" fill="#000"/>
<rect x="341.00" y="405.47" width="1.00" height="6.23" fill="#555"/>
<rect x="342.00" y="405.47" width="1.00" height="6.23" fill="#000"/>
<rect x="343.00" y="405.47" width="1.00" height="6.23" fill="#000"/>
<rect x="344.00" y="405.47" width="1.00" height="6.23" fill="#000"/>
<rect x="345.00" y="405.47" width="1.00" height="6.23" fill="#000"/>
<rect x="346.00" y="405.47" width="1.00" height="6.23" fill="#000"/>
<rect x="347.00" y="405.47" width="1.00" height="6.23" fill="#000"/>
<rect x="348.00" y="405.47" width="1.00" height="6.23" fill="#222"/>
<rect x="349.00" y="405.47" width="1.00" height="6.23" fill="#000"/>
<rect x="350.00" y="405.47" width="1.00" height="6.23" fill="#000"/>
<rect x="351.00" y="405.47" width="1.00" height="6.23" fill="#000"/>
<rect x="352.00" y="405.47" width="1.00" height="6.23" fill="#000"/>
<rect x="353.00" y="405.47" width="1.00" height="6.23" fill="#000"/>
<rect x="354.00" y="405.47" width="1.00" height="6.23" fill="#000"/>
<rect x="355.00" y="405.47" width="1.00" height="6.23" fill="#000"/>
<rect x="356.00" y="405.47" width="1.00" height="6.23" fill="#222"/>
<rect x="357.00" y="405.47" width="1.00" height="6.23" fill="#000"/>
<rect x="358.00" y="405.47" width="1.00" height="6.23" fill="#000"/>
<rect x="359.00" y="405.47" width="1.00" height="6.23" fill="#000"/>
<rect x="360.00" y="405.47" width="1.00" height="6.23" fill="#000"/>
<rect x="361.00" y="405.47" width="1.00" height="6.23" fill="#000"/>
<rect x="362.00" y="405.47" width="1.00" height="6.23" fill="#000"/>
<rect x="363.00" y="405.47" width="1.00" height="6.23" fill="#000"/>
<rect x="364.00" y="405.47" width="1.00" height="6.23" fill="#000"/>
<rect x="367.00" y="405.47" width="1.00" height="6.23" fill="#222"/>
<rect x="368.00" y="405.47" width="1.00" height="6.23" fill="#777"/>
<rect x="369.00" y="405.47" width="1.00" height="6.23" fill="#000"/>
<rect x="370.00" y="405.47" width="1.00" height="6.23" fill="#000"/>
<rect x="371.00" y="405.47" width="1.00" height="6.23" fill="#000"/>
<rect x="372.00" y="405.47" width="1.00" height="6.23" fill="#000"/>
<rect x="373.00" y="405.47" width="1.00" height="6.23" fill="#000"/>
<rect x="374.00" y="405.47" width="1.00" height="6.23" fill="#000"/>
<rect x="375.00" y="405.47" width="1.00" height="6.23" fill="#000"/>
<rect x="376.00" y="405.47" width="1.00" height="6.23" fill="#000"/>
<rect x="377.00" y="405.47" width="1.00" height="6.23" fill="#000"/>
<rect x="378.00" y="405.47" width="1.00" height="6.23" fill="#000"/>
<rect x="379.00" y="405.47" width="1.00" height="6.23" fill="#000"/>
<rect x="380.00" y="405.47" width="1.00" height="6.23" fill="#222"/>
<rect x="381.00" y="405.47" width="1.00" height="6.23" fill="#000"/>
<rect x="382.00" y="405.47" width="1.00" height="6.23" fill="#000"/>
<rect x="383.00" y="405.47" width="1.00" height="6.23" fill="#222"/>
<rect x="384.00" y="405.47" width="1.00" height="6.23" fill="#000"/>
<rect x="385.00" y="405.47" width="1.00" height="6.23" fill="#000"/>
<rect x="386.00" y="405.47" width="1.00" height="6.23" fill="#000"/>
<rect x="387.00" y="405.47" width="1.00" height="6.23" fill="#000"/>
<rect x="388.00" y="405.47" width="1.00" height="6.23" fill="#000"/>
<rect x="389.00" y="405.47" width="1.00" height="6.23" fill="#222"/>
<rect x="390.00" y="405.47" width="1.00" height="6.23" fill="#000"/>
<rect x="391.00" y="405.47" width="1.00" height="6.23" fill="#000"/>
<rect x="392.00" y="405.47" width="1.00" height="6.23" fill="#000"/>
<rect x="393.00" y="405.47" width="1.00" height="6.23" fill="#000"/>
<rect x="394.00" y="405.47" width="1.00" height="6.23" fill="#000"/>
<rect x="395.00" y="405.47" width="1.00" height="6.23" fill="#222"/>
<rect x="396.00" y="405.47" width="1.00" height="6.23" fill="#000"/>
<rect x="397.00" y="405.47" width="1.00" height="6.23" fill="#000"/>
<rect x="398.00" y="405.47" width="1.00" height="6.23" fill="#000"/>
<rect x="399.00" y="405.47" width="1.00" height="6.23" fill="#000"/>
<rect x="400.00" y="405.47" width="1.00" height="6.23" fill="#000"/>
<rect x="401.00" y="405.47" width="1.00" height="6.23" fill="#000"/>
<rect x="402.00" y="405.47" width="1.00" height="6.23" fill="#000"/>
<rect x="403.00" y="405.47" width="1.00" height="6.23" fill="#000"/>
<rect x="404.00" y="405.47" width="1.00" height="6.23" fill="#000"/>
<rect x="405.00" y="405.47" width="1.00" height="6.23" fill="#3a3a3a"/>
<rect x="406.00" y="405.47" width="1.00" height="6.23" fill="#000"/>
<rect x="407.00" y="405.47" width="1.00" height="6.23" fill="#000"/>
<rect x="408.00" y="405.47" width="1.00" height="6.23" fill="#222"/>
<rect x="409.00" y="405.47" width="1.00" height="6.23" fill="#000"/>
<rect x="410.00" y="405.47" width="1.00" height="6.23" fill="#000"/>
<rect x="411.00" y="405.47" width="1.00" height="6.23" fill="#000"/>
<rect x="412.00" y="405.47" width="1.00" height="6.23" fill="#000"/>
<rect x="413.00" y="405.47" width="1.00" height="6.23" fill="#000"/>
<rect x="414.00" y="405.47" width="1.00" height="6.23" fill="#000"/>
<rect x="415.00" y="405.47" width="1.00" height="6.23" fill="#666"/>
<rect x="416.00" y="405.47" width="1.00" height="6.23" fill="#000"/>
<rect x="417.00" y="405.47" width="1.00" height="6.23" fill="#777"/>
<rect x="418.00" y="405.47" width="1.00" height="6.23" fill="#000"/>
<rect x="419.00" y="405.47" width="1.00" height="6.23" fill="#000"/>
<rect x="420.00" y="405.47" width="1.00" height="6.23" fill="#000"/>
<rect x="421.00" y="405.47" width="1.00" height="6.23" fill="#000"/>
<rect x="422.00" y="405.47" width="1.00" height="6.23" fill="#000"/>
<rect x="423.00" y="405.47" width="1.00" height="6.23" fill="#222"/>
<rect x="425.00" y="405.47" width="1.00" height="6.23" fill="#000"/>
<rect x="426.00" y="405.47" width="1.00" height="6.23" fill="#555"/>
<rect x="427.00" y="405.47" width="1.00" height="6.23" fill="#000"/>
<rect x="428.00" y="405.47" width="1.00" height="6.23" fill="#000"/>
<rect x="429.00" y="405.47" width="1.00" height="6.23" fill="#000"/>
<rect x="430.00" y="405.47" width="1.00" height="6.23" fill="#000"/>
<rect x="431.00" y="405.47" width="1.00" height="6.23" fill="#000"/>
<rect x="432.00" y="405.47" width="1.00" height="6.23" fill="#222"/>
<rect x="433.00" y="405.47" width="1.00" height="6.23" fill="#000"/>
<rect x="434.00" y="405.47" width="1.00" height="6.23" fill="#000"/>
<rect x="435.00" y="405.47" width="1.00" height="6.23" fill="#000"/>
<rect x="436.00" y="405.47" width="1.00" height="6.23" fill="#000"/>
<rect x="437.00" y="405.47" width="1.00" height="6.23" fill="#000"/>
<rect x="438.00" y="405.47" width="1.00" height="6.23" fill="#000"/>
<rect x="439.00" y="405.47" width="1.00" height="6.23" fill="#000"/>
<rect x="440.00" y="405.47" width="1.00" height="6.23" fill="#000"/>
<rect x="441.00" y="405.47" width="1.00" height="6.23" fill="#000"/>
<rect x="442.00" y="405.47" width="1.00" height="6.23" fill="#222"/>
<rect x="443.00" y="405.47" width="1.00" height="6.23" fill="#000"/>
<rect x="444.00" y="405.47" width="1.00" height="6.23" fill="#000"/>
<rect x="445.00" y="405.47" width="1.00" height="6.23" fill="#000"/>
<rect x="446.00" y="405.47" width="1.00" height="6.23" fill="#000"/>
<rect x="447.00" y="405.47" width="1.00" height="6.23" fill="#000"/>
<rect x="448.00" y="405.47" width="1.00" height="6.23" fill="#888"/>
<rect x="449.00" y="405.47" width="1.00" height="6.23" fill="#000"/>
<rect x="450.00" y="405.47" width="1.00" height="6.23" fill="#000"/>
<rect x="451.00" y="405.47" width="1.00" height="6.23" fill="#000"/>
<rect x="452.00" y="405.47" width="1.00" height="6.23" fill="#000"/>
<rect x="453.00" y="405.47" width="1.00" height="6.23" fill="#000"/>
<rect x="454.00" y="405.47" width="1.00" height="6.23" fill="#000"/>
<rect x="455.00" y="405.47" width="1.00" height="6.23" fill="#000"/>
<rect x="456.00" y="405.47" width="1.00" height="6.23" fill="#000"/>
<rect x="457.00" y="405.47" width="1.00" height="6.23" fill="#000"/>
<rect x="458.00" y="405.47" width="1.00" height="6.23" fill="#000"/>
<rect x="459.00" y="405.47" width="1.00" height="6.23" fill="#000"/>
<rect x="460.00" y="405.47" width="1.00" height="6.23" fill="#000"/>
<rect x="461.00" y="405.47" width="1.00" height="6.23" fill="#000"/>
<rect x="462.00" y="405.47" width="1.00" height="6.23" fill="#000"/>
<rect x="463.00" y="405.47" width="1.00" height="6.23" fill="#000"/>
<rect x="464.00" y="405.47" width="1.00" height="6.23" fill="#000"/>
<rect x="465.00" y="405.47" width="1.00" height="6.23" fill="#000"/>
<rect x="466.00" y="405.47" width="1.00" height="6.23" fill="#000"/>
<rect x="467.00" y="405.47" width="1.00" height="6.23" fill="#000"/>
<rect x="468.00" y="405.47" width="1.00" height="6.23" fill="#000"/>
<rect x="469.00" y="405.47" width="1.00" height="6.23" fill="#222"/>
<rect x="470.00" y="405.47" width="1.00" height="6.23" fill="#000"/>
<rect x="471.00" y="405.47" width="1.00" height="6.23" fill="#000"/>
<rect x="472.00" y="405.47" width="1.00" height="6.23" fill="#000"/>
<rect x="473.00" y="405.47" width="1.00" height="6.23" fill="#000"/>
<rect x="474.00" y="405.47" width="1.00" height="6.23" fill="#000"/>
<rect x="475.00" y="405.47" width="1.00" height="6.23" fill="#000"/>
<rect x="476.00" y="405.47" width="1.00" height="6.23" fill="#222"/>
<rect x="477.00" y="405.47" width="1.00" height="6.23" fill="#222"/>
<rect x="478.00" y="405.47" width="1.00" height="6.23" fill="#000"/>
<rect x="479.00" y="405.47" width="1.00" height="6.23" fill="#000"/>
<rect x="480.00" y="405.47" width="1.00" height="6.23" fill="#000"/>
<rect x="481.00" y="405.47" width="1.00" height="6.23" fill="#000"/>
<rect x="482.00" y="405.47" width="1.00" height="6.23" fill="#000"/>
<rect x="483.00" y="405.47" width="1.00" height="6.23" fill="#000"/>
<rect x="484.00" y="405.47" width="1.00" height="6.23" fill="#000"/>
<rect x="485.00" y="405.47" width="1.00" height="6.23" fill="#555"/>
<rect x="486.00" y="405.47" width="1.00" height="6.23" fill="#000"/>
<rect x="487.00" y="405.47" width="1.00" height="6.23" fill="#000"/>
<rect x="488.00" y="405.47" width="1.00" height="6.23" fill="#000"/>
<rect x="489.00" y="405.47" width="1.00" height="6.23" fill="#000"/>
<rect x="490.00" y="405.47" width="1.00" height="6.23" fill="#000"/>
<rect x="491.00" y="405.47" width="1.00" height="6.23" fill="#000"/>
<rect x="492.00" y="405.47" width="1.00" height="6.23" fill="#555"/>
<rect x="493.00" y="405.47" width="1.00" height="6.23" fill="#000"/>
<rect x="494.00" y="405.47" width="1.00" height="6.23" fill="#222"/>
<rect x="495.00" y="405.47" width="1.00" height="6.23" fill="#000"/>
<rect x="496.00" y="405.47" width="1.00" height="6.23" fill="#000"/>
<rect x="497.00" y="405.47" width="1.00" height="6.23" fill="#000"/>
<rect x="498.00" y="405.47" width="1.00" height="6.23" fill="#000"/>
<rect x="499.00" y="405.47" width="1.00" height="6.23" fill="#777"/>
<rect x="500.00" y="405.47" width="1.00" height="6.23" fill="#000"/>
<rect x="501.00" y="405.47" width="1.00" height="6.23" fill="#000"/>
<rect x="502.00" y="405.47" width="1.00" height="6.23" fill="#666"/>
<rect x="503.00" y="405.47" width="1.00" height="6.23" fill="#222"/>
<rect x="504.00" y="405.47" width="1.00" height="6.23" fill="#000"/>
<rect x="505.00" y="405.47" width="1.00" height="6.23" fill="#222"/>
<rect x="506.00" y="405.47" width="1.00" height="6.23" fill="#222"/>
<rect x="507.00" y="405.47" width="1.00" height="6.23" fill="#000"/>
<rect x="508.00" y="405.47" width="1.00" height="6.23" fill="#000"/>
<rect x="509.00" y="405.47" width="1.00" height="6.23" fill="#222"/>
<rect x="510.00" y="405.47" width="1.00" height="6.23" fill="#000"/>
<rect x="511.00" y="405.47" width="1.00" height="6.23" fill="#222"/>
<rect x="512.00" y="405.47" width="1.00" height="6.23" fill="#000"/>
<rect x="513.00" y="405.47" width="1.00" height="6.23" fill="#000"/>
<rect x="514.00" y="405.47" width="1.00" height="6.23" fill="#000"/>
<rect x="515.00" y="405.47" width="1.00" height="6.23" fill="#000"/>
<rect x="516.00" y="405.47" width="1.00" height="6.23" fill="#000"/>
<rect x="517.00" y="405.47" width="1.00" height="6.23" fill="#000"/>
<rect x="518.00" y="405.47" width="1.00" height="6.23" fill="#000"/>
<rect x="519.00" y="405.47" width="1.00" height="6.23" fill="#000"/>
<rect x="520.00" y="405.47" width="1.00" height="6.23" fill="#000"/>
<rect x="521.00" y="405.47" width="1.00" height="6.23" fill="#000"/>
<rect x="522.00" y="405.47" width="1.00" height="6.23" fill="#000"/>
<rect x="523.00" y="405.47" width="1.00" height="6.23" fill="#000"/>
<rect x="524.00" y="405.47" width="1.00" height="6.23" fill="#000"/>
<rect x="525.00" y="405.47" width="1.00" height="6.23" fill="#222"/>
<rect x="526.00" y="405.47" width="1.00" height="6.23" fill="#000"/>
<rect x="527.00" y="405.47" width="1.00" height="6.23" fill="#000"/>
<rect x="528.00" y="405.47" width="1.00" height="6.23" fill="#000"/>
<rect x="529.00" y="405.47" width="1.00" height="6.23" fill="#000"/>
<rect x="530.00" y="405.47" width="1.00" height="6.23" fill="#000"/>
<rect x="531.00" y="405.47" width="1.00" height="6.23" fill="#000"/>
<rect x="532.00" y="405.47" width="1.00" height="6.23" fill="#000"/>
<rect x="533.00" y="405.47" width="1.00" height="6.23" fill="#888"/>
<rect x="534.00" y="405.47" width="1.00" height="6.23" fill="#000"/>
<rect x="535.00" y="405.47" width="1.00" height="6.23" fill="#222"/>
<rect x="536.00" y="405.47" width="1.00" height="6.23" fill="#000"/>
<rect x="537.00" y="405.47" width="1.00" height="6.23" fill="#000"/>
<rect x="538.00" y="405.47" width="1.00" height="6.23" fill="#777"/>
<rect x="539.00" y="405.47" width="1.00" height="6.23" fill="#000"/>
<rect x="540.00" y="405.47" width="1.00" height="6.23" fill="#222"/>
<rect x="541.00" y="405.47" width="1.00" height="6.23" fill="#000"/>
<rect x="542.00" y="405.47" width="1.00" height="6.23" fill="#000"/>
<rect x="543.00" y="405.47" width="1.00" height="6.23" fill="#000"/>
<rect x="544.00" y="405.47" width="1.00" height="6.23" fill="#000"/>
<rect x="545.00" y="405.47" width="1.00" height="6.23" fill="#000"/>
<rect x="546.00" y="405.47" width="1.00" height="6.23" fill="#000"/>
<rect x="547.00" y="405.47" width="1.00" height="6.23" fill="#000"/>
<rect x="548.00" y="405.47" width="1.00" height="6.23" fill="#000"/>
<rect x="549.00" y="405.47" width="1.00" height="6.23" fill="#000"/>
<rect x="550.00" y="405.47" width="1.00" height="6.23" fill="#000"/>
<rect x="551.00" y="405.47" width="1.00" height="6.23" fill="#000"/>
<rect x="552.00" y="405.47" width="1.00" height="6.23" fill="#222"/>
<rect x="553.00" y="405.47" width="1.00" height="6.23" fill="#000"/>
<rect x="554.00" y="405.47" width="1.00" height="6.23" fill="#000"/>
<rect x="555.00" y="405.47" width="1.00" height="6.23" fill="#000"/>
<rect x="556.00" y="405.47" width="1.00" height="6.23" fill="#000"/>
<rect x="557.00" y="405.47" width="1.00" height="6.23" fill="#000"/>
<rect x="558.00" y="405.47" width="1.00" height="6.23" fill="#000"/>
<rect x="559.00" y="405.47" width="1.00" height="6.23" fill="#000"/>
<rect x="560.00" y="405.47" width="1.00" height="6.23" fill="#222"/>
<rect x="561.00" y="405.47" width="1.00" height="6.23" fill="#000"/>
<rect x="562.00" y="405.47" width="1.00" height="6.23" fill="#000"/>
<rect x="563.00" y="405.47" width="1.00" height="6.23" fill="#000"/>
<rect x="564.00" y="405.47" width="1.00" height="6.23" fill="#000"/>
<rect x="565.00" y="405.47" width="1.00" height="6.23" fill="#000"/>
<rect x="566.00" y="405.47" width="1.00" height="6.23" fill="#000"/>
<rect x="567.00" y="405.47" width="1.00" height="6.23" fill="#000"/>
<rect x="568.00" y="405.47" width="1.00" height="6.23" fill="#000"/>
<rect x="569.00" y="405.47" width="1.00" height="6.23" fill="#000"/>
<rect x="570.00" y="405.47" width="1.00" height="6.23" fill="#000"/>
<rect x="571.00" y="405.47" width="1.00" height="6.23" fill="#222"/>
<rect x="572.00" y="405.47" width="1.00" height="6.23" fill="#000"/>
<rect x="573.00" y="405.47" width="1.00" height="6.23" fill="#000"/>
<rect x="574.00" y="405.47" width="1.00" height="6.23" fill="#222"/>
<rect x="575.00" y="405.47" width="1.00" height="6.23" fill="#000"/>
<rect x="576.00" y="405.47" width="1.00" height="6.23" fill="#000"/>
<rect x="577.00" y="405.47" width="1.00" height="6.23" fill="#000"/>
<rect x="578.00" y="405.47" width="1.00" height="6.23" fill="#222"/>
<rect x="579.00" y="405.47" width="1.00" height="6.23" fill="#777"/>
<rect x="580.00" y="405.47" width="1.00" height="6.23" fill="#000"/>
<rect x="581.00" y="405.47" width="1.00" height="6.23" fill="#222"/>
<rect x="582.00" y="405.47" width="1.00" height="6.23" fill="#000"/>
<rect x="583.00" y="405.47" width="1.00" height="6.23" fill="#000"/>
<rect x="584.00" y="405.47" width="1.00" height="6.23" fill="#000"/>
<rect x="585.00" y="405.47" width="1.00" height="6.23" fill="#000"/>
<rect x="586.00" y="405.47" width="1.00" height="6.23" fill="#000"/>
<rect x="587.00" y="405.47" width="1.00" height="6.23" fill="#000"/>
<rect x="588.00" y="405.47" width="1.00" height="6.23" fill="#000"/>
<rect x="589.00" y="405.47" width="1.00" height="6.23" fill="#222"/>
<rect x="590.00" y="405.47" width="1.00" height="6.23" fill="#000"/>
<rect x="591.00" y="405.47" width="1.00" height="6.23" fill="#000"/>
<rect x="592.00" y="405.47" width="1.00" height="6.23" fill="#222"/>
<rect x="593.00" y="405.47" width="1.00" height="6.23" fill="#000"/>
<rect x="594.00" y="405.47" width="1.00" height="6.23" fill="#000"/>
<rect x="595.00" y="405.47" width="1.00" height="6.23" fill="#000"/>
<rect x="596.00" y="405.47" width="1.00" height="6.23" fill="#000"/>
<rect x="597.00" y="405.47" width="1.00" height="6.23" fill="#000"/>
<rect x="602.00" y="405.47" width="1.00" height="6.23" fill="#000"/>
<rect x="603.00" y="405.47" width="1.00" height="6.23" fill="#222"/>
<rect x="604.00" y="405.47" width="1.00" height="6.23" fill="#000"/>
<rect x="605.00" y="405.47" width="1.00" height="6.23" fill="#000"/>
<rect x="606.00" y="405.47" width="1.00" height="6.23" fill="#000"/>
<rect x="607.00" y="405.47" width="1.00" height="6.23" fill="#000"/>
<rect x="608.00" y="405.47" width="1.00" height="6.23" fill="#000"/>
<rect x="609.00" y="405.47" width="1.00" height="6.23" fill="#222"/>
<rect x="610.00" y="405.47" width="1.00" height="6.23" fill="#000"/>
<rect x="611.00" y="405.47" width="1.00" height="6.23" fill="#000"/>
<rect x="612.00" y="405.47" width="1.00" height="6.23" fill="#000"/>
<rect x="613.00" y="405.47" width="1.00" height="6.23" fill="#000"/>
<rect x="614.00" y="405.47" width="1.00" height="6.23" fill="#000"/>
<rect x="615.00" y="405.47" width="1.00" height="6.23" fill="#000"/>
<rect x="616.00" y="405.47" width="1.00" height="6.23" fill="#222"/>
<rect x="617.00" y="405.47" width="1.00" height="6.23" fill="#000"/>
<rect x="618.00" y="405.47" width="1.00" height="6.23" fill="#000"/>
<rect x="619.00" y="405.47" width="1.00" height="6.23" fill="#000"/>
<rect x="620.00" y="405.47" width="1.00" height="6.23" fill="#000"/>
<rect x="621.00" y="405.47" width="1.00" height="6.23" fill="#000"/>
<rect x="622.00" y="405.47" width="1.00" height="6.23" fill="#000"/>
<rect x="623.00" y="405.47" width="1.00" height="6.23" fill="#000"/>
<rect x="624.00" y="405.47" width="1.00" height="6.23" fill="#000"/>
<rect x="625.00" y="405.47" width="1.00" height="6.23" fill="#000"/>
<rect x="626.00" y="405.47" width="1.00" height="6.23" fill="#000"/>
<rect x="627.00" y="405.47" width="1.00" height="6.23" fill="#000"/>
<rect x="628.00" y="405.47" width="1.00" height="6.23" fill="#666"/>
<rect x="629.00" y="405.47" width="1.00" height="6.23" fill="#000"/>
<rect x="630.00" y="405.47" width="1.00" height="6.23" fill="#000"/>
<rect x="631.00" y="405.47" width="1.00" height="6.23" fill="#000"/>
<rect x="632.00" y="405.47" width="1.00" height="6.23" fill="#000"/>
<rect x="633.00" y="405.47" width="1.00" height="6.23" fill="#000"/>
<rect x="634.00" y="405.47" width="1.00" height="6.23" fill="#000"/>
<rect x="635.00" y="405.47" width="1.00" height="6.23" fill="#000"/>
<rect x="636.00" y="405.47" width="1.00" height="6.23" fill="#222"/>
<rect x="637.00" y="405.47" width="1.00" height="6.23" fill="#000"/>
<rect x="638.00" y="405.47" width="1.00" height="6.23" fill="#000"/>
<rect x="639.00" y="405.47" width="1.00" height="6.23" fill="#000"/>
<rect x="641.00" y="405.47" width="1.00" height="6.23" fill="#000"/>
<rect x="642.00" y="405.47" width="1.00" height="6.23" fill="#000"/>
<rect x="643.00" y="405.47" width="1.00" height="6.23" fill="#000"/>
<rect x="644.00" y="405.47" width="1.00" height="6.23" fill="#888"/>
<rect x="645.00" y="405.47" width="1.00" height="6.23" fill="#000"/>
<rect x="646.00" y="405.47" width="1.00" height="6.23" fill="#000"/>
<rect x="647.00" y="405.47" width="1.00" height="6.23" fill="#000"/>
<rect x="648.00" y="405.47" width="1.00" height="6.23" fill="#000"/>
<rect x="649.00" y="405.47" width="1.00" height="6.23" fill="#3a3a3a"/>
<rect x="650.00" y="405.47" width="1.00" height="6.23" fill="#000"/>
<rect x="651.00" y="405.47" width="1.00" height="6.23" fill="#000"/>
<rect x="652.00" y="405.47" width="1.00" height="6.23" fill="#000"/>
<rect x="653.00" y="405.47" width="1.00" height="6.23" fill="#000"/>
<rect x="654.00" y="405.47" width="1.00" height="6.23" fill="#888"/>
<rect x="655.00" y="405.47" width="1.00" height="6.23" fill="#000"/>
<rect x="656.00" y="405.47" width="1.00" height="6.23" fill="#000"/>
<rect x="657.00" y="405.47" width="1.00" height="6.23" fill="#000"/>
<rect x="660.00" y="405.47" width="1.00" height="6.23" fill="#000"/>
<rect x="661.00" y="405.47" width="1.00" height="6.23" fill="#222"/>
<rect x="662.00" y="405.47" width="1.00" height="6.23" fill="#000"/>
<rect x="663.00" y="405.47" width="1.00" height="6.23" fill="#222"/>
<rect x="664.00" y="405.47" width="1.00" height="6.23" fill="#000"/>
<rect x="665.00" y="405.47" width="1.00" height="6.23" fill="#000"/>
<rect x="666.00" y="405.47" width="1.00" height="6.23" fill="#000"/>
<rect x="667.00" y="405.47" width="1.00" height="6.23" fill="#000"/>
<rect x="668.00" y="405.47" width="1.00" height="6.23" fill="#000"/>
<rect x="669.00" y="405.47" width="1.00" height="6.23" fill="#222"/>
<rect x="670.00" y="405.47" width="1.00" height="6.23" fill="#3a3a3a"/>
<rect x="671.00" y="405.47" width="1.00" height="6.23" fill="#888"/>
<rect x="672.00" y="405.47" width="1.00" height="6.23" fill="#000"/>
<rect x="673.00" y="405.47" width="1.00" height="6.23" fill="#000"/>
<rect x="674.00" y="405.47" width="1.00" height="6.23" fill="#000"/>
<rect x="675.00" y="405.47" width="1.00" height="6.23" fill="#000"/>
<rect x="676.00" y="405.47" width="1.00" height="6.23" fill="#000"/>
<rect x="677.00" y="405.47" width="1.00" height="6.23" fill="#000"/>
<rect x="678.00" y="405.47" width="1.00" height="6.23" fill="#000"/>
<rect x="679.00" y="405.47" width="1.00" height="6.23" fill="#000"/>
<rect x="683.00" y="405.47" width="1.00" height="6.23" fill="#222"/>
<rect x="684.00" y="405.47" width="1.00" height="6.23" fill="#000"/>
<rect x="685.00" y="405.47" width="1.00" height="6.23" fill="#000"/>
<rect x="686.00" y="405.47" width="1.00" height="6.23" fill="#222"/>
<rect x="687.00" y="405.47" width="1.00" height="6.23" fill="#000"/>
<rect x="688.00" y="405.47" width="1.00" height="6.23" fill="#000"/>
<rect x="689.00" y="405.47" width="1.00" height="6.23" fill="#000"/>
<rect x="690.00" y="405.47" width="1.00" height="6.23" fill="#222"/>
<rect x="691.00" y="405.47" width="1.00" height="6.23" fill="#222"/>
<rect x="692.00" y="405.47" width="1.00" height="6.23" fill="#222"/>
<rect x="693.00" y="405.47" width="1.00" height="6.23" fill="#888"/>
<rect x="694.00" y="405.47" width="1.00" height="6.23" fill="#000"/>
<rect x="695.00" y="405.47" width="1.00" height="6.23" fill="#000"/>
<rect x="696.00" y="405.47" width="1.00" height="6.23" fill="#000"/>
<rect x="697.00" y="405.47" width="1.00" height="6.23" fill="#000"/>
<rect x="698.00" y="405.47" width="1.00" height="6.23" fill="#000"/>
<rect x="699.00" y="405.47" width="1.00" height="6.23" fill="#777"/>
<rect x="700.00" y="405.47" width="1.00" height="6.23" fill="#222"/>
<rect x="701.00" y="405.47" width="1.00" height="6.23" fill="#000"/>
<rect x="702.00" y="405.47" width="1.00" height="6.23" fill="#000"/>
<rect x="703.00" y="405.47" width="1.00" height="6.23" fill="#000"/>
<rect x="704.00" y="405.47" width="1.00" height="6.23" fill="#000"/>
<rect x="705.00" y="405.47" width="1.00" height="6.23" fill="#000"/>
<rect x="706.00" y="405.47" width="1.00" height="6.23" fill="#000"/>
<rect x="707.00" y="405.47" width="1.00" height="6.23" fill="#000"/>
<rect x="708.00" y="405.47" width="1.00" height="6.23" fill="#3a3a3a"/>
<rect x="709.00" y="405.47" width="1.00" height="6.23" fill="#000"/>
<rect x="710.00" y="405.47" width="1.00" height="6.23" fill="#222"/>
<rect x="711.00" y="405.47" width="1.00" height="6.23" fill="#777"/>
<rect x="712.00" y="405.47" width="1.00" height="6.23" fill="#222"/>
<rect x="713.00" y="405.47" width="1.00" height="6.23" fill="#555"/>
<rect x="715.00" y="405.47" width="1.00" height="6.23" fill="#3a3a3a"/>
<rect x="716.00" y="405.47" width="1.00" height="6.23" fill="#000"/>
<rect x="717.00" y="405.47" width="1.00" height="6.23" fill="#000"/>
<rect x="718.00" y="405.47" width="1.00" height="6.23" fill="#000"/>
<rect x="719.00" y="405.47" width="1.00" height="6.23" fill="#000"/>
<rect x="720.00" y="405.47" width="1.00" height="6.23" fill="#000"/>
<rect x="721.00" y="405.47" width="1.00" height="6.23" fill="#000"/>
<rect x="722.00" y="405.47" width="1.00" height="6.23" fill="#000"/>
<rect x="723.00" y="405.47" width="1.00" height="6.23" fill="#000"/>
<rect x="724.00" y="405.47" width="1.00" height="6.23" fill="#000"/>
<rect x="725.00" y="405.47" width="1.00" height="6.23" fill="#000"/>
<rect x="726.00" y="405.47" width="1.00" height="6.23" fill="#000"/>
<rect x="727.00" y="405.47" width="1.00" height="6.23" fill="#222"/>
<rect x="728.00" y="405.47" width="1.00" height="6.23" fill="#000"/>
<rect x="729.00" y="405.47" width="1.00" height="6.23" fill="#000"/>
<rect x="730.00" y="405.47" width="1.00" height="6.23" fill="#000"/>
<rect x="731.00" y="405.47" width="1.00" height="6.23" fill="#000"/>
<rect x="732.00" y="405.47" width="1.00" height="6.23" fill="#555"/>
<rect x="733.00" y="405.47" width="1.00" height="6.23" fill="#000"/>
<rect x="734.00" y="405.47" width="1.00" height="6.23" fill="#000"/>
<rect x="735.00" y="405.47" width="1.00" height="6.23" fill="#222"/>
<rect x="736.00" y="405.47" width="1.00" height="6.23" fill="#000"/>
<rect x="737.00" y="405.47" width="1.00" height="6.23" fill="#000"/>
<rect x="738.00" y="405.47" width="1.00" height="6.23" fill="#000"/>
<rect x="739.00" y="405.47" width="1.00" height="6.23" fill="#000"/>
<rect x="740.00" y="405.47" width="1.00" height="6.23" fill="#000"/>
<rect x="741.00" y="405.47" width="1.00" height="6.23" fill="#000"/>
<rect x="742.00" y="405.47" width="1.00" height="6.23" fill="#000"/>
<rect x="743.00" y="405.47" width="1.00" height="6.23" fill="#000"/>
<rect x="744.00" y="405.47" width="1.00" height="6.23" fill="#000"/>
<rect x="745.00" y="405.47" width="1.00" height="6.23" fill="#000"/>
<rect x="746.00" y="405.47" width="1.00" height="6.23" fill="#000"/>
<rect x="747.00" y="405.47" width="1.00" height="6.23" fill="#222"/>
<rect x="748.00" y="405.47" width="1.00" height="6.23" fill="#000"/>
<rect x="749.00" y="405.47" width="1.00" height="6.23" fill="#000"/>
<rect x="750.00" y="405.47" width="1.00" height="6.23" fill="#222"/>
<rect x="751.00" y="405.47" width="1.00" height="6.23" fill="#000"/>
<rect x="752.00" y="405.47" width="1.00" height="6.23" fill="#000"/>
<rect x="753.00" y="405.47" width="1.00" height="6.23" fill="#000"/>
<rect x="754.00" y="405.47" width="1.00" height="6.23" fill="#777"/>
<rect x="755.00" y="405.47" width="1.00" height="6.23" fill="#000"/>
<rect x="756.00" y="405.47" width="1.00" height="6.23" fill="#000"/>
<rect x="757.00" y="405.47" width="1.00" height="6.23" fill="#3a3a3a"/>
<rect x="758.00" y="405.47" width="1.00" height="6.23" fill="#000"/>
<rect x="759.00" y="405.47" width="1.00" height="6.23" fill="#000"/>
<rect x="760.00" y="405.47" width="1.00" height="6.23" fill="#000"/>
<rect x="761.00" y="405.47" width="1.00" height="6.23" fill="#000"/>
<rect x="762.00" y="405.47" width="1.00" height="6.23" fill="#000"/>
<rect x="763.00" y="405.47" width="1.00" height="6.23" fill="#000"/>
<rect x="764.00" y="405.47" width="1.00" height="6.23" fill="#777"/>
<rect x="765.00" y="405.47" width="1.00" height="6.23" fill="#222"/>
<rect x="766.00" y="405.47" width="1.00" height="6.23" fill="#000"/>
<rect x="767.00" y="405.47" width="1.00" height="6.23" fill="#000"/>
<rect x="768.00" y="405.47" width="1.00" height="6.23" fill="#888"/>
<rect x="769.00" y="405.47" width="1.00" height="6.23" fill="#000"/>
<rect x="770.00" y="405.47" width="1.00" height="6.23" fill="#000"/>
<rect x="771.00" y="405.47" width="1.00" height="6.23" fill="#222"/>
<rect x="772.00" y="405.47" width="1.00" height="6.23" fill="#000"/>
<rect x="773.00" y="405.47" width="1.00" height="6.23" fill="#000"/>
<rect x="774.00" y="405.47" width="1.00" height="6.23" fill="#000"/>
<rect x="775.00" y="405.47" width="1.00" height="6.23" fill="#888"/>
<rect x="776.00" y="405.47" width="1.00" height="6.23" fill="#000"/>
<rect x="777.00" y="405.47" width="1.00" height="6.23" fill="#3a3a3a"/>
<rect x="778.00" y="405.47" width="1.00" height="6.23" fill="#000"/>
<rect x="779.00" y="405.47" width="1.00" height="6.23" fill="#000"/>
<rect x="780.00" y="405.47" width="1.00" height="6.23" fill="#000"/>
<rect x="781.00" y="405.47" width="1.00" height="6.23" fill="#000"/>
<rect x="782.00" y="405.47" width="1.00" height="6.23" fill="#666"/>
<rect x="783.00" y="405.47" width="1.00" height="6.23" fill="#555"/>
<rect x="784.00" y="405.47" width="1.00" height="6.23" fill="#555"/>
<rect x="785.00" y="405.47" width="1.00" height="6.23" fill="#777"/>
<rect x="786.00" y="405.47" width="1.00" height="6.23" fill="#222"/>
<rect x="787.00" y="405.47" width="1.00" height="6.23" fill="#888"/>
<rect x="788.00" y="405.47" width="1.00" height="6.23" fill="#3a3a3a"/>
<rect x="789.00" y="405.47" width="1.00" height="6.23" fill="#555"/>
<rect x="790.00" y="405.47" width="1.00" height="6.23" fill="#000"/>
<rect x="791.00" y="405.47" width="1.00" height="6.23" fill="#000"/>
<rect x="792.00" y="405.47" width="1.00" height="6.23" fill="#666"/>
<rect x="793.00" y="405.47" width="1.00" height="6.23" fill="#222"/>
<rect x="794.00" y="405.47" width="1.00" height="6.23" fill="#3a3a3a"/>
<rect x="795.00" y="405.47" width="1.00" height="6.23" fill="#3a3a3a"/>
<rect x="796.00" y="405.47" width="1.00" height="6.23" fill="#3a3a3a"/>
<rect x="797.00" y="405.47" width="1.00" height="6.23" fill="#777"/>
<rect x="798.00" y="405.47" width="1.00" height="6.23" fill="#000"/>
<rect x="799.00" y="405.47" width="1.00" height="6.23" fill="#222"/>
<rect x="800.00" y="405.47" width="1.00" height="6.23" fill="#666"/>
<rect x="805.00" y="405.47" width="1.00" height="6.23" fill="#3a3a3a"/>
<rect x="806.00" y="405.47" width="1.00" height="6.23" fill="#3a3a3a"/>
<rect x="807.00" y="405.47" width="1.00" height="6.23" fill="#555"/>
<rect x="808.00" y="405.47" width="1.00" height="6.23" fill="#888"/>
<rect x="809.00" y="405.47" width="1.00" height="6.23" fill="#888"/>
<rect x="810.00" y="405.47" width="1.00" height="6.23" fill="#3a3a3a"/>
<rect x="811.00" y="405.47" width="1.00" height="6.23" fill="#222"/>
<rect x="812.00" y="405.47" width="1.00" height="6.23" fill="#3a3a3a"/>
<rect x="813.00" y="405.47" width="1.00" height="6.23" fill="#777"/>
<rect x="814.00" y="405.47" width="1.00" height="6.23" fill="#777"/>
<rect x="815.00" y="405.47" width="1.00" height="6.23" fill="#000"/>
<rect x="816.00" y="405.47" width="1.00" height="6.23" fill="#000"/>
<rect x="817.00" y="405.47" width="1.00" height="6.23" fill="#555"/>
<rect x="818.00" y="405.47" width="1.00" height="6.23" fill="#222"/>
<rect x="819.00" y="405.47" width="1.00" height="6.23" fill="#000"/>
<rect x="821.00" y="405.47" width="1.00" height="6.23" fill="#000"/>
<rect x="822.00" y="405.47" width="1.00" height="6.23" fill="#3a3a3a"/>
<rect x="823.00" y="405.47" width="1.00" height="6.23" fill="#3a3a3a"/>
<rect x="824.00" y="405.47" width="1.00" height="6.23" fill="#000"/>
<rect x="825.00" y="405.47" width="1.00" height="6.23" fill="#000"/>
<rect x="826.00" y="405.47" width="1.00" height="6.23" fill="#222"/>
<rect x="827.00" y="405.47" width="1.00" height="6.23" fill="#000"/>
<rect x="828.00" y="405.47" width="1.00" height="6.23" fill="#555"/>
<rect x="829.00" y="405.47" width="1.00" height="6.23" fill="#000"/>
<rect x="830.00" y="405.47" width="1.00" height="6.23" fill="#000"/>
<rect x="831.00" y="405.47" width="1.00" height="6.23" fill="#000"/>
<rect x="832.00" y="405.47" width="1.00" height="6.23" fill="#000"/>
<rect x="833.00" y="405.47" width="1.00" height="6.23" fill="#888"/>
<rect x="834.00" y="405.47" width="1.00" height="6.23" fill="#222"/>
<rect x="835.00" y="405.47" width="1.00" height="6.23" fill="#000"/>
<rect x="836.00" y="405.47" width="1.00" height="6.23" fill="#000"/>
<rect x="837.00" y="405.47" width="1.00" height="6.23" fill="#000"/>
<rect x="838.00" y="405.47" width="1.00" height="6.23" fill="#000"/>
<rect x="839.00" y="405.47" width="1.00" height="6.23" fill="#000"/>
<rect x="840.00" y="405.47" width="1.00" height="6.23" fill="#000"/>
<rect x="841.00" y="405.47" width="1.00" height="6.23" fill="#000"/>
<rect x="842.00" y="405.47" width="1.00" height="6.23" fill="#000"/>
<rect x="844.00" y="405.47" width="1.00" height="6.23" fill="#000"/>
<rect x="846.00" y="405.47" width="1.00" height="6.23" fill="#222"/>
<rect x="847.00" y="405.47" width="1.00" height="6.23" fill="#888"/>
<rect x="848.00" y="405.47" width="1.00" height="6.23" fill="#888"/>
<rect x="849.00" y="405.47" width="1.00" height="6.23" fill="#222"/>
<rect x="850.00" y="405.47" width="1.00" height="6.23" fill="#000"/>
<rect x="851.00" y="405.47" width="1.00" height="6.23" fill="#000"/>
<rect x="852.00" y="405.47" width="1.00" height="6.23" fill="#000"/>
<rect x="853.00" y="405.47" width="1.00" height="6.23" fill="#666"/>
<rect x="854.00" y="405.47" width="1.00" height="6.23" fill="#222"/>
<rect x="855.00" y="405.47" width="1.00" height="6.23" fill="#777"/>
<rect x="856.00" y="405.47" width="1.00" height="6.23" fill="#000"/>
<rect x="858.00" y="405.47" width="1.00" height="6.23" fill="#000"/>
<rect x="859.00" y="405.47" width="1.00" height="6.23" fill="#222"/>
<rect x="860.00" y="405.47" width="1.00" height="6.23" fill="#000"/>
<rect x="861.00" y="405.47" width="1.00" height="6.23" fill="#000"/>
<rect x="864.00" y="405.47" width="1.00" height="6.23" fill="#666"/>
<rect x="865.00" y="405.47" width="1.00" height="6.23" fill="#555"/>
<rect x="866.00" y="405.47" width="1.00" height="6.23" fill="#888"/>
<rect x="867.00" y="405.47" width="1.00" height="6.23" fill="#222"/>
<rect x="868.00" y="405.47" width="1.00" height="6.23" fill="#777"/>
<rect x="869.00" y="405.47" width="1.00" height="6.23" fill="#888"/>
<rect x="870.00" y="405.47" width="1.00" height="6.23" fill="#000"/>
<rect x="871.00" y="405.47" width="1.00" height="6.23" fill="#000"/>
<rect x="872.00" y="405.47" width="1.00" height="6.23" fill="#000"/>
<rect x="873.00" y="405.47" width="1.00" height="6.23" fill="#222"/>
<rect x="874.00" y="405.47" width="1.00" height="6.23" fill="#000"/>
<rect x="875.00" y="405.47" width="1.00" height="6.23" fill="#000"/>
<rect x="876.00" y="405.47" width="1.00" height="6.23" fill="#888"/>
<rect x="877.00" y="405.47" width="1.00" height="6.23" fill="#000"/>
<rect x="878.00" y="405.47" width="1.00" height="6.23" fill="#000"/>
<rect x="879.00" y="405.47" width="1.00" height="6.23" fill="#555"/>
<rect x="124.00" y="399.25" width="1.00" height="6.23" fill="#111"/>
<rect x="125.00" y="399.25" width="1.00" height="6.23" fill="#111"/>
<rect x="128.00" y="399.25" width="1.00" height="6.23" fill="#000"/>
<rect x="129.00" y="399.25" width="1.00" height="6.23" fill="#000"/>
<rect x="135.00" y="399.25" width="1.00" height="6.23" fill="#222"/>
<rect x="136.00" y="399.25" width="1.00" height="6.23" fill="#111"/>
<rect x="137.00" y="399.25" width="1.00" height="6.23" fill="#000"/>
<rect x="138.00" y="399.25" width="1.00" height="6.23" fill="#444"/>
<rect x="139.00" y="399.25" width="1.00" height="6.23" fill="#111"/>
<rect x="140.00" y="399.25" width="1.00" height="6.23" fill="#111"/>
<rect x="142.00" y="393.02" width="1.00" height="12.45" fill="#111"/>
<rect x="144.00" y="399.25" width="1.00" height="6.23" fill="#000"/>
<rect x="146.00" y="399.25" width="1.00" height="6.23" fill="#000"/>
<rect x="149.00" y="399.25" width="1.00" height="6.23" fill="#111"/>
<rect x="150.00" y="399.25" width="1.00" height="6.23" fill="#000"/>
<rect x="151.00" y="399.25" width="1.00" height="6.23" fill="#000"/>
<rect x="152.00" y="399.25" width="1.00" height="6.23" fill="#000"/>
<rect x="153.00" y="393.02" width="1.00" height="12.45" fill="#000"/>
<rect x="155.00" y="399.25" width="1.00" height="6.23" fill="#666"/>
<rect x="156.00" y="399.25" width="1.00" height="6.23" fill="#000"/>
<rect x="157.00" y="399.25" width="1.00" height="6.23" fill="#444"/>
<rect x="158.00" y="399.25" width="1.00" height="6.23" fill="#444"/>
<rect x="159.00" y="393.02" width="1.00" height="12.45" fill="#111"/>
<rect x="160.00" y="399.25" width="1.00" height="6.23" fill="#000"/>
<rect x="161.00" y="399.25" width="1.00" height="6.23" fill="#444"/>
<rect x="162.00" y="393.02" width="1.00" height="12.45" fill="#444"/>
<rect x="163.00" y="399.25" width="1.00" height="6.23" fill="#111"/>
<rect x="164.00" y="399.25" width="1.00" height="6.23" fill="#000"/>
<rect x="165.00" y="399.25" width="1.00" height="6.23" fill="#111"/>
<rect x="166.00" y="399.25" width="1.00" height="6.23" fill="#000"/>
<rect x="168.00" y="393.02" width="1.00" height="12.45" fill="#666"/>
<rect x="169.00" y="393.02" width="1.00" height="12.45" fill="#666"/>
<rect x="170.00" y="399.25" width="1.00" height="6.23" fill="#000"/>
<rect x="171.00" y="399.25" width="1.00" height="6.23" fill="#000"/>
<rect x="172.00" y="399.25" width="1.00" height="6.23" fill="#444"/>
<rect x="173.00" y="399.25" width="1.00" height="6.23" fill="#000"/>
<rect x="174.00" y="399.25" width="1.00" height="6.23" fill="#000"/>
<rect x="175.00" y="399.25" width="1.00" height="6.23" fill="#000"/>
<rect x="176.00" y="399.25" width="1.00" height="6.23" fill="#000"/>
<rect x="180.00" y="399.25" width="1.00" height="6.23" fill="#000"/>
<rect x="181.00" y="393.02" width="1.00" height="12.45" fill="#444"/>
<rect x="182.00" y="399.25" width="1.00" height="6.23" fill="#666"/>
<rect x="183.00" y="399.25" width="1.00" height="6.23" fill="#666"/>
<rect x="184.00" y="399.25" width="1.00" height="6.23" fill="#666"/>
<rect x="185.00" y="399.25" width="1.00" height="6.23" fill="#000"/>
<rect x="186.00" y="399.25" width="1.00" height="6.23" fill="#666"/>
<rect x="187.00" y="399.25" width="1.00" height="6.23" fill="#111"/>
<rect x="188.00" y="399.25" width="1.00" height="6.23" fill="#444"/>
<rect x="189.00" y="399.25" width="1.00" height="6.23" fill="#000"/>
<rect x="190.00" y="399.25" width="1.00" height="6.23" fill="#444"/>
<rect x="191.00" y="399.25" width="1.00" height="6.23" fill="#000"/>
<rect x="192.00" y="399.25" width="1.00" height="6.23" fill="#222"/>
<rect x="193.00" y="399.25" width="1.00" height="6.23" fill="#444"/>
<rect x="194.00" y="399.25" width="1.00" height="6.23" fill="#222"/>
<rect x="195.00" y="399.25" width="1.00" height="6.23" fill="#000"/>
<rect x="196.00" y="399.25" width="1.00" height="6.23" fill="#000"/>
<rect x="197.00" y="386.80" width="1.00" height="18.68" fill="#000"/>
<rect x="198.00" y="393.02" width="1.00" height="12.45" fill="#000"/>
<rect x="199.00" y="399.25" width="1.00" height="6.23" fill="#111"/>
<rect x="200.00" y="399.25" width="1.00" height="6.23" fill="#000"/>
<rect x="201.00" y="399.25" width="1.00" height="6.23" fill="#222"/>
<rect x="202.00" y="399.25" width="1.00" height="6.23" fill="#000"/>
<rect x="203.00" y="399.25" width="1.00" height="6.23" fill="#666"/>
<rect x="204.00" y="399.25" width="1.00" height="6.23" fill="#000"/>
<rect x="209.00" y="399.25" width="1.00" height="6.23" fill="#000"/>
<rect x="210.00" y="399.25" width="1.00" height="6.23" fill="#000"/>
<rect x="211.00" y="393.02" width="1.00" height="12.45" fill="#000"/>
<rect x="212.00" y="399.25" width="1.00" height="6.23" fill="#000"/>
<rect x="213.00" y="393.02" width="1.00" height="12.45" fill="#444"/>
<rect x="216.00" y="399.25" width="1.00" height="6.23" fill="#000"/>
<rect x="217.00" y="399.25" width="1.00" height="6.23" fill="#111"/>
<rect x="218.00" y="399.25" width="1.00" height="6.23" fill="#000"/>
<rect x="222.00" y="399.25" width="1.00" height="6.23" fill="#111"/>
<rect x="223.00" y="399.25" width="1.00" height="6.23" fill="#444"/>
<rect x="224.00" y="399.25" width="1.00" height="6.23" fill="#111"/>
<rect x="228.00" y="399.25" width="1.00" height="6.23" fill="#000"/>
<rect x="229.00" y="399.25" width="1.00" height="6.23" fill="#444"/>
<rect x="230.00" y="399.25" width="1.00" height="6.23" fill="#222"/>
<rect x="231.00" y="399.25" width="1.00" height="6.23" fill="#666"/>
<rect x="232.00" y="399.25" width="1.00" height="6.23" fill="#000"/>
<rect x="233.00" y="399.25" width="1.00" height="6.23" fill="#000"/>
<rect x="234.00" y="399.25" width="1.00" height="6.23" fill="#000"/>
<rect x="235.00" y="399.25" width="1.00" height="6.23" fill="#000"/>
<rect x="236.00" y="399.25" width="1.00" height="6.23" fill="#444"/>
<rect x="237.00" y="399.25" width="1.00" height="6.23" fill="#000"/>
<rect x="238.00" y="399.25" width="1.00" height="6.23" fill="#111"/>
<rect x="239.00" y="399.25" width="1.00" height="6.23" fill="#444"/>
<rect x="241.00" y="399.25" width="1.00" height="6.23" fill="#000"/>
<rect x="242.00" y="393.02" width="1.00" height="12.45" fill="#111"/>
<rect x="243.00" y="399.25" width="1.00" height="6.23" fill="#000"/>
<rect x="244.00" y="393.02" width="1.00" height="12.45" fill="#111"/>
<rect x="245.00" y="399.25" width="1.00" height="6.23" fill="#111"/>
<rect x="246.00" y="399.25" width="1.00" height="6.23" fill="#000"/>
<rect x="247.00" y="380.57" width="1.00" height="24.90" fill="#111"/>
<rect x="248.00" y="380.57" width="1.00" height="24.90" fill="#000"/>
<rect x="249.00" y="386.80" width="1.00" height="18.68" fill="#000"/>
<rect x="250.00" y="399.25" width="1.00" height="6.23" fill="#111"/>
<rect x="251.00" y="393.02" width="1.00" height="12.45" fill="#111"/>
<rect x="252.00" y="393.02" width="1.00" height="12.45" fill="#000"/>
<rect x="253.00" y="393.02" width="1.00" height="12.45" fill="#222"/>
<rect x="254.00" y="393.02" width="1.00" height="12.45" fill="#000"/>
<rect x="260.00" y="399.25" width="1.00" height="6.23" fill="#111"/>
<rect x="263.00" y="399.25" width="1.00" height="6.23" fill="#000"/>
<rect x="264.00" y="399.25" width="1.00" height="6.23" fill="#444"/>
<rect x="265.00" y="399.25" width="1.00" height="6.23" fill="#000"/>
<rect x="266.00" y="386.80" width="1.00" height="18.68" fill="#444"/>
<rect x="267.00" y="386.80" width="1.00" height="18.68" fill="#666"/>
<rect x="268.00" y="386.80" width="1.00" height="18.68" fill="#000"/>
<rect x="269.00" y="393.02" width="1.00" height="12.45" fill="#444"/>
<rect x="272.00" y="393.02" width="1.00" height="12.45" fill="#444"/>
<rect x="273.00" y="399.25" width="1.00" height="6.23" fill="#444"/>
<rect x="274.00" y="399.25" width="1.00" height="6.23" fill="#111"/>
<rect x="276.00" y="399.25" width="1.00" height="6.23" fill="#222"/>
<rect x="281.00" y="386.80" width="1.00" height="18.68" fill="#000"/>
<rect x="282.00" y="399.25" width="1.00" height="6.23" fill="#666"/>
<rect x="283.00" y="399.25" width="1.00" height="6.23" fill="#111"/>
<rect x="288.00" y="399.25" width="1.00" height="6.23" fill="#000"/>
<rect x="289.00" y="399.25" width="1.00" height="6.23" fill="#222"/>
<rect x="290.00" y="386.80" width="1.00" height="18.68" fill="#444"/>
<rect x="291.00" y="386.80" width="1.00" height="18.68" fill="#000"/>
<rect x="294.00" y="386.80" width="1.00" height="18.68" fill="#111"/>
<rect x="295.00" y="393.02" width="1.00" height="12.45" fill="#000"/>
<rect x="296.00" y="393.02" width="1.00" height="12.45" fill="#666"/>
<rect x="299.00" y="393.02" width="1.00" height="12.45" fill="#000"/>
<rect x="300.00" y="399.25" width="1.00" height="6.23" fill="#222"/>
<rect x="304.00" y="380.57" width="1.00" height="24.90" fill="#666"/>
<rect x="306.00" y="380.57" width="1.00" height="24.90" fill="#666"/>
<rect x="307.00" y="386.80" width="1.00" height="18.68" fill="#000"/>
<rect x="308.00" y="399.25" width="1.00" height="6.23" fill="#222"/>
<rect x="309.00" y="399.25" width="1.00" height="6.23" fill="#111"/>
<rect x="310.00" y="399.25" width="1.00" height="6.23" fill="#444"/>
<rect x="311.00" y="399.25" width="1.00" height="6.23" fill="#111"/>
<rect x="312.00" y="399.25" width="1.00" height="6.23" fill="#666"/>
<rect x="313.00" y="399.25" width="1.00" height="6.23" fill="#444"/>
<rect x="314.00" y="399.25" width="1.00" height="6.23" fill="#222"/>
<rect x="315.00" y="399.25" width="1.00" height="6.23" fill="#222"/>
<rect x="318.00" y="399.25" width="1.00" height="6.23" fill="#000"/>
<rect x="319.00" y="399.25" width="1.00" height="6.23" fill="#222"/>
<rect x="320.00" y="380.57" width="1.00" height="24.90" fill="#000"/>
<rect x="321.00" y="380.57" width="1.00" height="24.90" fill="#444"/>
<rect x="322.00" y="380.57" width="1.00" height="24.90" fill="#000"/>
<rect x="323.00" y="380.57" width="1.00" height="24.90" fill="#222"/>
<rect x="324.00" y="399.25" width="1.00" height="6.23" fill="#111"/>
<rect x="325.00" y="399.25" width="1.00" height="6.23" fill="#000"/>
<rect x="326.00" y="399.25" width="1.00" height="6.23" fill="#000"/>
<rect x="327.00" y="399.25" width="1.00" height="6.23" fill="#000"/>
<rect x="328.00" y="393.02" width="1.00" height="12.45" fill="#666"/>
<rect x="329.00" y="399.25" width="1.00" height="6.23" fill="#444"/>
<rect x="330.00" y="399.25" width="1.00" height="6.23" fill="#000"/>
<rect x="331.00" y="399.25" width="1.00" height="6.23" fill="#111"/>
<rect x="332.00" y="399.25" width="1.00" height="6.23" fill="#222"/>
<rect x="333.00" y="399.25" width="1.00" height="6.23" fill="#444"/>
<rect x="334.00" y="399.25" width="1.00" height="6.23" fill="#000"/>
<rect x="335.00" y="399.25" width="1.00" height="6.23" fill="#444"/>
<rect x="336.00" y="399.25" width="1.00" height="6.23" fill="#666"/>
<rect x="337.00" y="399.25" width="1.00" height="6.23" fill="#666"/>
<rect x="338.00" y="399.25" width="1.00" height="6.23" fill="#000"/>
<rect x="341.00" y="399.25" width="1.00" height="6.23" fill="#444"/>
<rect x="342.00" y="399.25" width="1.00" height="6.23" fill="#000"/>
<rect x="343.00" y="393.02" width="1.00" height="12.45" fill="#111"/>
<rect x="344.00" y="399.25" width="1.00" height="6.23" fill="#000"/>
<rect x="345.00" y="393.02" width="1.00" height="12.45" fill="#222"/>
<rect x="346.00" y="393.02" width="1.00" height="12.45" fill="#000"/>
<rect x="347.00" y="386.80" width="1.00" height="18.68" fill="#444"/>
<rect x="348.00" y="393.02" width="1.00" height="12.45" fill="#000"/>
<rect x="349.00" y="393.02" width="1.00" height="12.45" fill="#000"/>
<rect x="356.00" y="399.25" width="1.00" height="6.23" fill="#444"/>
<rect x="357.00" y="399.25" width="1.00" height="6.23" fill="#666"/>
<rect x="358.00" y="399.25" width="1.00" height="6.23" fill="#444"/>
<rect x="359.00" y="399.25" width="1.00" height="6.23" fill="#000"/>
<rect x="360.00" y="399.25" width="1.00" height="6.23" fill="#444"/>
<rect x="361.00" y="399.25" width="1.00" height="6.23" fill="#111"/>
<rect x="362.00" y="399.25" width="1.00" height="6.23" fill="#222"/>
<rect x="363.00" y="399.25" width="1.00" height="6.23" fill="#000"/>
<rect x="364.00" y="399.25" width="1.00" height="6.23" fill="#000"/>
<rect x="366.00" y="399.25" width="1.00" height="6.23" fill="#444"/>
<rect x="369.00" y="393.02" width="1.00" height="12.45" fill="#000"/>
<rect x="370.00" y="393.02" width="1.00" height="12.45" fill="#000"/>
<rect x="371.00" y="399.25" width="1.00" height="6.23" fill="#222"/>
<rect x="372.00" y="399.25" width="1.00" height="6.23" fill="#666"/>
<rect x="373.00" y="399.25" width="1.00" height="6.23" fill="#111"/>
<rect x="374.00" y="399.25" width="1.00" height="6.23" fill="#000"/>
<rect x="375.00" y="399.25" width="1.00" height="6.23" fill="#444"/>
<rect x="376.00" y="399.25" width="1.00" height="6.23" fill="#000"/>
<rect x="377.00" y="386.80" width="1.00" height="18.68" fill="#000"/>
<rect x="378.00" y="393.02" width="1.00" height="12.45" fill="#111"/>
<rect x="379.00" y="393.02" width="1.00" height="12.45" fill="#666"/>
<rect x="380.00" y="386.80" width="1.00" height="18.68" fill="#666"/>
<rect x="381.00" y="399.25" width="1.00" height="6.23" fill="#666"/>
<rect x="382.00" y="399.25" width="1.00" height="6.23" fill="#666"/>
<rect x="383.00" y="399.25" width="1.00" height="6.23" fill="#000"/>
<rect x="384.00" y="399.25" width="1.00" height="6.23" fill="#000"/>
<rect x="385.00" y="399.25" width="1.00" height="6.23" fill="#222"/>
<rect x="386.00" y="399.25" width="1.00" height="6.23" fill="#000"/>
<rect x="387.00" y="399.25" width="1.00" height="6.23" fill="#000"/>
<rect x="388.00" y="386.80" width="1.00" height="18.68" fill="#000"/>
<rect x="389.00" y="393.02" width="1.00" height="12.45" fill="#444"/>
<rect x="390.00" y="399.25" width="1.00" height="6.23" fill="#111"/>
<rect x="391.00" y="399.25" width="1.00" height="6.23" fill="#000"/>
<rect x="392.00" y="399.25" width="1.00" height="6.23" fill="#000"/>
<rect x="393.00" y="399.25" width="1.00" height="6.23" fill="#222"/>
<rect x="394.00" y="393.02" width="1.00" height="12.45" fill="#444"/>
<rect x="395.00" y="399.25" width="1.00" height="6.23" fill="#000"/>
<rect x="396.00" y="399.25" width="1.00" height="6.23" fill="#222"/>
<rect x="397.00" y="399.25" width="1.00" height="6.23" fill="#222"/>
<rect x="402.00" y="399.25" width="1.00" height="6.23" fill="#666"/>
<rect x="403.00" y="399.25" width="1.00" height="6.23" fill="#111"/>
<rect x="406.00" y="399.25" width="1.00" height="6.23" fill="#666"/>
<rect x="407.00" y="399.25" width="1.00" height="6.23" fill="#666"/>
<rect x="413.00" y="399.25" width="1.00" height="6.23" fill="#444"/>
<rect x="414.00" y="399.25" width="1.00" height="6.23" fill="#666"/>
<rect x="415.00" y="399.25" width="1.00" height="6.23" fill="#111"/>
<rect x="420.00" y="399.25" width="1.00" height="6.23" fill="#000"/>
<rect x="421.00" y="399.25" width="1.00" height="6.23" fill="#000"/>
<rect x="422.00" y="399.25" width="1.00" height="6.23" fill="#000"/>
<rect x="424.00" y="399.25" width="1.00" height="6.23" fill="#222"/>
<rect x="425.00" y="399.25" width="1.00" height="6.23" fill="#000"/>
<rect x="426.00" y="393.02" width="1.00" height="12.45" fill="#444"/>
<rect x="427.00" y="393.02" width="1.00" height="12.45" fill="#444"/>
<rect x="430.00" y="393.02" width="1.00" height="12.45" fill="#000"/>
<rect x="431.00" y="399.25" width="1.00" height="6.23" fill="#000"/>
<rect x="432.00" y="399.25" width="1.00" height="6.23" fill="#000"/>
<rect x="433.00" y="399.25" width="1.00" height="6.23" fill="#111"/>
<rect x="438.00" y="399.25" width="1.00" height="6.23" fill="#000"/>
<rect x="439.00" y="399.25" width="1.00" height="6.23" fill="#000"/>
<rect x="443.00" y="386.80" width="1.00" height="18.68" fill="#000"/>
<rect x="444.00" y="399.25" width="1.00" height="6.23" fill="#222"/>
<rect x="445.00" y="399.25" width="1.00" height="6.23" fill="#222"/>
<rect x="446.00" y="399.25" width="1.00" height="6.23" fill="#444"/>
<rect x="447.00" y="399.25" width="1.00" height="6.23" fill="#000"/>
<rect x="448.00" y="393.02" width="1.00" height="12.45" fill="#666"/>
<rect x="449.00" y="399.25" width="1.00" height="6.23" fill="#222"/>
<rect x="450.00" y="393.02" width="1.00" height="12.45" fill="#000"/>
<rect x="452.00" y="399.25" width="1.00" height="6.23" fill="#000"/>
<rect x="453.00" y="399.25" width="1.00" height="6.23" fill="#444"/>
<rect x="454.00" y="399.25" width="1.00" height="6.23" fill="#222"/>
<rect x="455.00" y="399.25" width="1.00" height="6.23" fill="#000"/>
<rect x="456.00" y="399.25" width="1.00" height="6.23" fill="#666"/>
<rect x="457.00" y="399.25" width="1.00" height="6.23" fill="#444"/>
<rect x="460.00" y="399.25" width="1.00" height="6.23" fill="#111"/>
<rect x="461.00" y="399.25" width="1.00" height="6.23" fill="#000"/>
<rect x="462.00" y="399.25" width="1.00" height="6.23" fill="#222"/>
<rect x="463.00" y="399.25" width="1.00" height="6.23" fill="#000"/>
<rect x="465.00" y="399.25" width="1.00" height="6.23" fill="#000"/>
<rect x="466.00" y="399.25" width="1.00" height="6.23" fill="#000"/>
<rect x="467.00" y="399.25" width="1.00" height="6.23" fill="#666"/>
<rect x="468.00" y="399.25" width="1.00" height="6.23" fill="#000"/>
<rect x="469.00" y="399.25" width="1.00" height="6.23" fill="#222"/>
<rect x="470.00" y="399.25" width="1.00" height="6.23" fill="#666"/>
<rect x="472.00" y="399.25" width="1.00" height="6.23" fill="#444"/>
<rect x="473.00" y="399.25" width="1.00" height="6.23" fill="#666"/>
<rect x="477.00" y="399.25" width="1.00" height="6.23" fill="#666"/>
<rect x="478.00" y="399.25" width="1.00" height="6.23" fill="#444"/>
<rect x="479.00" y="399.25" width="1.00" height="6.23" fill="#000"/>
<rect x="480.00" y="399.25" width="1.00" height="6.23" fill="#000"/>
<rect x="481.00" y="399.25" width="1.00" height="6.23" fill="#000"/>
<rect x="482.00" y="393.02" width="1.00" height="12.45" fill="#666"/>
<rect x="483.00" y="399.25" width="1.00" height="6.23" fill="#000"/>
<rect x="491.00" y="399.25" width="1.00" height="6.23" fill="#000"/>
<rect x="492.00" y="399.25" width="1.00" height="6.23" fill="#222"/>
<rect x="493.00" y="399.25" width="1.00" height="6.23" fill="#000"/>
<rect x="502.00" y="399.25" width="1.00" height="6.23" fill="#444"/>
<rect x="503.00" y="399.25" width="1.00" height="6.23" fill="#666"/>
<rect x="507.00" y="399.25" width="1.00" height="6.23" fill="#000"/>
<rect x="508.00" y="399.25" width="1.00" height="6.23" fill="#444"/>
<rect x="514.00" y="399.25" width="1.00" height="6.23" fill="#111"/>
<rect x="515.00" y="399.25" width="1.00" height="6.23" fill="#111"/>
<rect x="520.00" y="399.25" width="1.00" height="6.23" fill="#000"/>
<rect x="521.00" y="399.25" width="1.00" height="6.23" fill="#000"/>
<rect x="522.00" y="399.25" width="1.00" height="6.23" fill="#666"/>
<rect x="523.00" y="399.25" width="1.00" height="6.23" fill="#000"/>
<rect x="525.00" y="399.25" width="1.00" height="6.23" fill="#000"/>
<rect x="531.00" y="399.25" width="1.00" height="6.23" fill="#000"/>
<rect x="532.00" y="399.25" width="1.00" height="6.23" fill="#000"/>
<rect x="534.00" y="399.25" width="1.00" height="6.23" fill="#222"/>
<rect x="535.00" y="399.25" width="1.00" height="6.23" fill="#666"/>
<rect x="539.00" y="399.25" width="1.00" height="6.23" fill="#666"/>
<rect x="540.00" y="399.25" width="1.00" height="6.23" fill="#000"/>
<rect x="541.00" y="399.25" width="1.00" height="6.23" fill="#666"/>
<rect x="542.00" y="399.25" width="1.00" height="6.23" fill="#000"/>
<rect x="543.00" y="399.25" width="1.00" height="6.23" fill="#222"/>
<rect x="544.00" y="393.02" width="1.00" height="12.45" fill="#000"/>
<rect x="545.00" y="393.02" width="1.00" height="12.45" fill="#111"/>
<rect x="546.00" y="393.02" width="1.00" height="12.45" fill="#000"/>
<rect x="549.00" y="399.25" width="1.00" height="6.23" fill="#000"/>
<rect x="550.00" y="399.25" width="1.00" height="6.23" fill="#000"/>
<rect x="554.00" y="399.25" width="1.00" height="6.23" fill="#000"/>
<rect x="557.00" y="393.02" width="1.00" height="12.45" fill="#000"/>
<rect x="558.00" y="393.02" width="1.00" height="12.45" fill="#000"/>
<rect x="559.00" y="393.02" width="1.00" height="12.45" fill="#111"/>
<rect x="560.00" y="399.25" width="1.00" height="6.23" fill="#000"/>
<rect x="561.00" y="399.25" width="1.00" height="6.23" fill="#444"/>
<rect x="562.00" y="399.25" width="1.00" height="6.23" fill="#444"/>
<rect x="563.00" y="399.25" width="1.00" height="6.23" fill="#222"/>
<rect x="564.00" y="399.25" width="1.00" height="6.23" fill="#666"/>
<rect x="565.00" y="399.25" width="1.00" height="6.23" fill="#000"/>
<rect x="566.00" y="399.25" width="1.00" height="6.23" fill="#000"/>
<rect x="567.00" y="399.25" width="1.00" height="6.23" fill="#000"/>
<rect x="568.00" y="399.25" width="1.00" height="6.23" fill="#000"/>
<rect x="569.00" y="399.25" width="1.00" height="6.23" fill="#000"/>
<rect x="570.00" y="399.25" width="1.00" height="6.23" fill="#000"/>
<rect x="571.00" y="393.02" width="1.00" height="12.45" fill="#666"/>
<rect x="572.00" y="399.25" width="1.00" height="6.23" fill="#000"/>
<rect x="573.00" y="399.25" width="1.00" height="6.23" fill="#000"/>
<rect x="574.00" y="399.25" width="1.00" height="6.23" fill="#222"/>
<rect x="575.00" y="399.25" width="1.00" height="6.23" fill="#111"/>
<rect x="576.00" y="399.25" width="1.00" height="6.23" fill="#666"/>
<rect x="577.00" y="399.25" width="1.00" height="6.23" fill="#111"/>
<rect x="578.00" y="399.25" width="1.00" height="6.23" fill="#111"/>
<rect x="579.00" y="399.25" width="1.00" height="6.23" fill="#000"/>
<rect x="580.00" y="399.25" width="1.00" height="6.23" fill="#111"/>
<rect x="581.00" y="399.25" width="1.00" height="6.23" fill="#444"/>
<rect x="583.00" y="399.25" width="1.00" height="6.23" fill="#222"/>
<rect x="584.00" y="399.25" width="1.00" height="6.23" fill="#000"/>
<rect x="585.00" y="399.25" width="1.00" height="6.23" fill="#444"/>
<rect x="586.00" y="399.25" width="1.00" height="6.23" fill="#666"/>
<rect x="587.00" y="386.80" width="1.00" height="18.68" fill="#444"/>
<rect x="588.00" y="386.80" width="1.00" height="18.68" fill="#444"/>
<rect x="593.00" y="399.25" width="1.00" height="6.23" fill="#111"/>
<rect x="594.00" y="399.25" width="1.00" height="6.23" fill="#666"/>
<rect x="595.00" y="399.25" width="1.00" height="6.23" fill="#222"/>
<rect x="596.00" y="399.25" width="1.00" height="6.23" fill="#000"/>
<rect x="606.00" y="393.02" width="1.00" height="12.45" fill="#666"/>
<rect x="607.00" y="399.25" width="1.00" height="6.23" fill="#000"/>
<rect x="608.00" y="399.25" width="1.00" height="6.23" fill="#666"/>
<rect x="614.00" y="399.25" width="1.00" height="6.23" fill="#666"/>
<rect x="619.00" y="399.25" width="1.00" height="6.23" fill="#666"/>
<rect x="620.00" y="399.25" width="1.00" height="6.23" fill="#666"/>
<rect x="621.00" y="399.25" width="1.00" height="6.23" fill="#444"/>
<rect x="622.00" y="399.25" width="1.00" height="6.23" fill="#000"/>
<rect x="636.00" y="399.25" width="1.00" height="6.23" fill="#111"/>
<rect x="642.00" y="399.25" width="1.00" height="6.23" fill="#444"/>
<rect x="643.00" y="399.25" width="1.00" height="6.23" fill="#111"/>
<rect x="644.00" y="399.25" width="1.00" height="6.23" fill="#000"/>
<rect x="647.00" y="399.25" width="1.00" height="6.23" fill="#222"/>
<rect x="648.00" y="399.25" width="1.00" height="6.23" fill="#222"/>
<rect x="649.00" y="399.25" width="1.00" height="6.23" fill="#222"/>
<rect x="654.00" y="399.25" width="1.00" height="6.23" fill="#111"/>
<rect x="655.00" y="399.25" width="1.00" height="6.23" fill="#000"/>
<rect x="656.00" y="399.25" width="1.00" height="6.23" fill="#000"/>
<rect x="657.00" y="399.25" width="1.00" height="6.23" fill="#444"/>
<rect x="660.00" y="399.25" width="1.00" height="6.23" fill="#111"/>
<rect x="661.00" y="399.25" width="1.00" height="6.23" fill="#222"/>
<rect x="662.00" y="399.25" width="1.00" height="6.23" fill="#000"/>
<rect x="669.00" y="393.02" width="1.00" height="12.45" fill="#000"/>
<rect x="670.00" y="393.02" width="1.00" height="12.45" fill="#000"/>
<rect x="678.00" y="399.25" width="1.00" height="6.23" fill="#222"/>
<rect x="679.00" y="399.25" width="1.00" height="6.23" fill="#111"/>
<rect x="680.00" y="399.25" width="1.00" height="6.23" fill="#111"/>
<rect x="697.00" y="399.25" width="1.00" height="6.23" fill="#000"/>
<rect x="698.00" y="399.25" width="1.00" height="6.23" fill="#222"/>
<rect x="699.00" y="399.25" width="1.00" height="6.23" fill="#000"/>
<rect x="709.00" y="399.25" width="1.00" height="6.23" fill="#111"/>
<rect x="710.00" y="399.25" width="1.00" height="6.23" fill="#666"/>
<rect x="711.00" y="399.25" width="1.00" height="6.23" fill="#000"/>
<rect x="731.00" y="399.25" width="1.00" height="6.23" fill="#222"/>
<rect x="743.00" y="393.02" width="1.00" height="12.45" fill="#000"/>
<rect x="744.00" y="393.02" width="1.00" height="12.45" fill="#222"/>
<rect x="745.00" y="399.25" width="1.00" height="6.23" fill="#000"/>
<rect x="756.00" y="399.25" width="1.00" height="6.23" fill="#666"/>
<rect x="757.00" y="399.25" width="1.00" height="6.23" fill="#666"/>
<rect x="771.00" y="399.25" width="1.00" height="6.23" fill="#444"/>
<rect x="772.00" y="399.25" width="1.00" height="6.23" fill="#000"/>
<rect x="773.00" y="399.25" width="1.00" height="6.23" fill="#000"/>
<rect x="799.00" y="399.25" width="1.00" height="6.23" fill="#111"/>
<rect x="800.00" y="399.25" width="1.00" height="6.23" fill="#000"/>
<rect x="823.00" y="399.25" width="1.00" height="6.23" fill="#111"/>
<rect x="824.00" y="399.25" width="1.00" height="6.23" fill="#000"/>
<rect x="825.00" y="399.25" width="1.00" height="6.23" fill="#222"/>
<rect x="826.00" y="399.25" width="1.00" height="6.23" fill="#000"/>
<rect x="856.00" y="399.25" width="1.00" height="6.23" fill="#222"/>
<rect x="857.00" y="399.25" width="1.00" height="6.23" fill="#111"/>
<rect x="876.00" y="399.25" width="1.00" height="6.23" fill="#111"/>
<rect x="877.00" y="399.25" width="1.00" height="6.23" fill="#222"/>
<rect x="117.00" y="943.27" width="1.00" height="7.73" fill="#222"/>
<rect x="118.00" y="943.27" width="1.00" height="7.73" fill="#000"/>
<rect x="119.00" y="943.27" width="1.00" height="7.73" fill="#000"/>
<rect x="120.00" y="943.27" width="1.00" height="7.73" fill="#666"/>
<rect x="121.00" y="943.27" width="1.00" height="7.73" fill="#222"/>
<rect x="122.00" y="943.27" width="1.00" height="7.73" fill="#000"/>
<rect x="123.00" y="943.27" width="1.00" height="7.73" fill="#000"/>
<rect x="124.00" y="943.27" width="1.00" height="7.73" fill="#000"/>
<rect x="125.00" y="943.27" width="1.00" height="7.73" fill="#000"/>
<rect x="126.00" y="943.27" width="1.00" height="7.73" fill="#000"/>
<rect x="127.00" y="943.27" width="1.00" height="7.73" fill="#666"/>
<rect x="128.00" y="943.27" width="1.00" height="7.73" fill="#000"/>
<rect x="129.00" y="943.27" width="1.00" height="7.73" fill="#222"/>
<rect x="132.00" y="943.27" width="1.00" height="7.73" fill="#666"/>
<rect x="133.00" y="943.27" width="1.00" height="7.73" fill="#000"/>
<rect x="134.00" y="943.27" width="1.00" height="7.73" fill="#3a3a3a"/>
<rect x="137.00" y="943.27" width="1.00" height="7.73" fill="#3a3a3a"/>
<rect x="138.00" y="943.27" width="1.00" height="7.73" fill="#000"/>
<rect x="139.00" y="943.27" width="1.00" height="7.73" fill="#000"/>
<rect x="140.00" y="943.27" width="1.00" height="7.73" fill="#666"/>
<rect x="141.00" y="943.27" width="1.00" height="7.73" fill="#222"/>
<rect x="142.00" y="943.27" width="1.00" height="7.73" fill="#000"/>
<rect x="143.00" y="943.27" width="1.00" height="7.73" fill="#000"/>
<rect x="144.00" y="943.27" width="1.00" height="7.73" fill="#222"/>
<rect x="145.00" y="943.27" width="1.00" height="7.73" fill="#000"/>
<rect x="146.00" y="943.27" width="1.00" height="7.73" fill="#000"/>
<rect x="151.00" y="943.27" width="1.00" height="7.73" fill="#888"/>
<rect x="152.00" y="943.27" width="1.00" height="7.73" fill="#555"/>
<rect x="153.00" y="943.27" width="1.00" height="7.73" fill="#888"/>
<rect x="154.00" y="943.27" width="1.00" height="7.73" fill="#3a3a3a"/>
<rect x="155.00" y="943.27" width="1.00" height="7.73" fill="#555"/>
<rect x="156.00" y="943.27" width="1.00" height="7.73" fill="#000"/>
<rect x="157.00" y="943.27" width="1.00" height="7.73" fill="#000"/>
<rect x="158.00" y="943.27" width="1.00" height="7.73" fill="#000"/>
<rect x="159.00" y="943.27" width="1.00" height="7.73" fill="#888"/>
<rect x="160.00" y="943.27" width="1.00" height="7.73" fill="#888"/>
<rect x="161.00" y="943.27" width="1.00" height="7.73" fill="#222"/>
<rect x="162.00" y="943.27" width="1.00" height="7.73" fill="#000"/>
<rect x="163.00" y="943.27" width="1.00" height="7.73" fill="#000"/>
<rect x="164.00" y="943.27" width="1.00" height="7.73" fill="#888"/>
<rect x="165.00" y="943.27" width="1.00" height="7.73" fill="#222"/>
<rect x="167.00" y="943.27" width="1.00" height="7.73" fill="#000"/>
<rect x="168.00" y="943.27" width="1.00" height="7.73" fill="#555"/>
<rect x="170.00" y="943.27" width="1.00" height="7.73" fill="#666"/>
<rect x="171.00" y="943.27" width="1.00" height="7.73" fill="#3a3a3a"/>
<rect x="172.00" y="943.27" width="1.00" height="7.73" fill="#000"/>
<rect x="173.00" y="943.27" width="1.00" height="7.73" fill="#222"/>
<rect x="178.00" y="943.27" width="1.00" height="7.73" fill="#3a3a3a"/>
<rect x="179.00" y="943.27" width="1.00" height="7.73" fill="#000"/>
<rect x="180.00" y="943.27" width="1.00" height="7.73" fill="#000"/>
<rect x="181.00" y="943.27" width="1.00" height="7.73" fill="#000"/>
<rect x="182.00" y="943.27" width="1.00" height="7.73" fill="#000"/>
<rect x="183.00" y="943.27" width="1.00" height="7.73" fill="#000"/>
<rect x="184.00" y="943.27" width="1.00" height="7.73" fill="#000"/>
<rect x="185.00" y="943.27" width="1.00" height="7.73" fill="#000"/>
<rect x="186.00" y="943.27" width="1.00" height="7.73" fill="#000"/>
<rect x="187.00" y="943.27" width="1.00" height="7.73" fill="#777"/>
<rect x="188.00" y="943.27" width="1.00" height="7.73" fill="#3a3a3a"/>
<rect x="189.00" y="943.27" width="1.00" height="7.73" fill="#222"/>
<rect x="190.00" y="943.27" width="1.00" height="7.73" fill="#000"/>
<rect x="191.00" y="943.27" width="1.00" height="7.73" fill="#000"/>
<rect x="192.00" y="943.27" width="1.00" height="7.73" fill="#888"/>
<rect x="193.00" y="943.27" width="1.00" height="7.73" fill="#000"/>
<rect x="194.00" y="943.27" width="1.00" height="7.73" fill="#000"/>
<rect x="195.00" y="943.27" width="1.00" height="7.73" fill="#000"/>
<rect x="196.00" y="943.27" width="1.00" height="7.73" fill="#000"/>
<rect x="197.00" y="943.27" width="1.00" height="7.73" fill="#666"/>
<rect x="198.00" y="943.27" width="1.00" height="7.73" fill="#222"/>
<rect x="199.00" y="943.27" width="1.00" height="7.73" fill="#000"/>
<rect x="200.00" y="943.27" width="1.00" height="7.73" fill="#222"/>
<rect x="201.00" y="943.27" width="1.00" height="7.73" fill="#000"/>
<rect x="202.00" y="943.27" width="1.00" height="7.73" fill="#777"/>
<rect x="203.00" y="943.27" width="1.00" height="7.73" fill="#000"/>
<rect x="204.00" y="943.27" width="1.00" height="7.73" fill="#000"/>
<rect x="205.00" y="943.27" width="1.00" height="7.73" fill="#222"/>
<rect x="206.00" y="943.27" width="1.00" height="7.73" fill="#000"/>
<rect x="207.00" y="943.27" width="1.00" height="7.73" fill="#000"/>
<rect x="208.00" y="943.27" width="1.00" height="7.73" fill="#000"/>
<rect x="209.00" y="943.27" width="1.00" height="7.73" fill="#000"/>
<rect x="210.00" y="943.27" width="1.00" height="7.73" fill="#000"/>
<rect x="211.00" y="943.27" width="1.00" height="7.73" fill="#000"/>
<rect x="212.00" y="943.27" width="1.00" height="7.73" fill="#000"/>
<rect x="213.00" y="943.27" width="1.00" height="7.73" fill="#222"/>
<rect x="214.00" y="943.27" width="1.00" height="7.73" fill="#888"/>
<rect x="215.00" y="943.27" width="1.00" height="7.73" fill="#222"/>
<rect x="216.00" y="943.27" width="1.00" height="7.73" fill="#777"/>
<rect x="217.00" y="943.27" width="1.00" height="7.73" fill="#000"/>
<rect x="218.00" y="943.27" width="1.00" height="7.73" fill="#555"/>
<rect x="219.00" y="943.27" width="1.00" height="7.73" fill="#000"/>
<rect x="220.00" y="943.27" width="1.00" height="7.73" fill="#000"/>
<rect x="221.00" y="943.27" width="1.00" height="7.73" fill="#222"/>
<rect x="222.00" y="943.27" width="1.00" height="7.73" fill="#000"/>
<rect x="223.00" y="943.27" width="1.00" height="7.73" fill="#000"/>
<rect x="224.00" y="943.27" width="1.00" height="7.73" fill="#000"/>
<rect x="225.00" y="943.27" width="1.00" height="7.73" fill="#222"/>
<rect x="226.00" y="943.27" width="1.00" height="7.73" fill="#000"/>
<rect x="227.00" y="943.27" width="1.00" height="7.73" fill="#000"/>
<rect x="228.00" y="943.27" width="1.00" height="7.73" fill="#777"/>
<rect x="233.00" y="943.27" width="1.00" height="7.73" fill="#222"/>
<rect x="234.00" y="943.27" width="1.00" height="7.73" fill="#777"/>
<rect x="235.00" y="943.27" width="1.00" height="7.73" fill="#000"/>
<rect x="237.00" y="943.27" width="1.00" height="7.73" fill="#000"/>
<rect x="238.00" y="943.27" width="1.00" height="7.73" fill="#000"/>
<rect x="240.00" y="943.27" width="1.00" height="7.73" fill="#222"/>
<rect x="241.00" y="943.27" width="1.00" height="7.73" fill="#000"/>
<rect x="242.00" y="943.27" width="1.00" height="7.73" fill="#000"/>
<rect x="243.00" y="943.27" width="1.00" height="7.73" fill="#000"/>
<rect x="244.00" y="943.27" width="1.00" height="7.73" fill="#000"/>
<rect x="245.00" y="943.27" width="1.00" height="7.73" fill="#000"/>
<rect x="246.00" y="943.27" width="1.00" height="7.73" fill="#222"/>
<rect x="247.00" y="943.27" width="1.00" height="7.73" fill="#000"/>
<rect x="248.00" y="943.27" width="1.00" height="7.73" fill="#000"/>
<rect x="249.00" y="943.27" width="1.00" height="7.73" fill="#3a3a3a"/>
<rect x="250.00" y="943.27" width="1.00" height="7.73" fill="#3a3a3a"/>
<rect x="251.00" y="943.27" width="1.00" height="7.73" fill="#000"/>
<rect x="252.00" y="943.27" width="1.00" height="7.73" fill="#000"/>
<rect x="253.00" y="943.27" width="1.00" height="7.73" fill="#000"/>
<rect x="256.00" y="943.27" width="1.00" height="7.73" fill="#000"/>
<rect x="257.00" y="943.27" width="1.00" height="7.73" fill="#222"/>
<rect x="258.00" y="943.27" width="1.00" height="7.73" fill="#000"/>
<rect x="259.00" y="943.27" width="1.00" height="7.73" fill="#000"/>
<rect x="260.00" y="943.27" width="1.00" height="7.73" fill="#555"/>
<rect x="261.00" y="943.27" width="1.00" height="7.73" fill="#666"/>
<rect x="262.00" y="943.27" width="1.00" height="7.73" fill="#000"/>
<rect x="263.00" y="943.27" width="1.00" height="7.73" fill="#000"/>
<rect x="264.00" y="943.27" width="1.00" height="7.73" fill="#000"/>
<rect x="265.00" y="943.27" width="1.00" height="7.73" fill="#000"/>
<rect x="266.00" y="943.27" width="1.00" height="7.73" fill="#000"/>
<rect x="267.00" y="943.27" width="1.00" height="7.73" fill="#000"/>
<rect x="268.00" y="943.27" width="1.00" height="7.73" fill="#000"/>
<rect x="269.00" y="943.27" width="1.00" height="7.73" fill="#666"/>
<rect x="270.00" y="943.27" width="1.00" height="7.73" fill="#000"/>
<rect x="271.00" y="943.27" width="1.00" height="7.73" fill="#222"/>
<rect x="272.00" y="943.27" width="1.00" height="7.73" fill="#000"/>
<rect x="273.00" y="943.27" width="1.00" height="7.73" fill="#000"/>
<rect x="274.00" y="943.27" width="1.00" height="7.73" fill="#000"/>
<rect x="275.00" y="943.27" width="1.00" height="7.73" fill="#000"/>
<rect x="276.00" y="943.27" width="1.00" height="7.73" fill="#000"/>
<rect x="277.00" y="943.27" width="1.00" height="7.73" fill="#000"/>
<rect x="278.00" y="943.27" width="1.00" height="7.73" fill="#000"/>
<rect x="279.00" y="943.27" width="1.00" height="7.73" fill="#000"/>
<rect x="280.00" y="943.27" width="1.00" height="7.73" fill="#888"/>
<rect x="281.00" y="943.27" width="1.00" height="7.73" fill="#000"/>
<rect x="282.00" y="943.27" width="1.00" height="7.73" fill="#555"/>
<rect x="283.00" y="943.27" width="1.00" height="7.73" fill="#222"/>
<rect x="284.00" y="943.27" width="1.00" height="7.73" fill="#777"/>
<rect x="285.00" y="943.27" width="1.00" height="7.73" fill="#777"/>
<rect x="286.00" y="943.27" width="1.00" height="7.73" fill="#000"/>
<rect x="287.00" y="943.27" width="1.00" height="7.73" fill="#3a3a3a"/>
<rect x="288.00" y="943.27" width="1.00" height="7.73" fill="#000"/>
<rect x="289.00" y="943.27" width="1.00" height="7.73" fill="#000"/>
<rect x="290.00" y="943.27" width="1.00" height="7.73" fill="#000"/>
<rect x="291.00" y="943.27" width="1.00" height="7.73" fill="#000"/>
<rect x="292.00" y="943.27" width="1.00" height="7.73" fill="#000"/>
<rect x="293.00" y="943.27" width="1.00" height="7.73" fill="#222"/>
<rect x="294.00" y="943.27" width="1.00" height="7.73" fill="#222"/>
<rect x="295.00" y="943.27" width="1.00" height="7.73" fill="#000"/>
<rect x="296.00" y="943.27" width="1.00" height="7.73" fill="#222"/>
<rect x="297.00" y="943.27" width="1.00" height="7.73" fill="#000"/>
<rect x="298.00" y="943.27" width="1.00" height="7.73" fill="#000"/>
<rect x="299.00" y="943.27" width="1.00" height="7.73" fill="#000"/>
<rect x="300.00" y="943.27" width="1.00" height="7.73" fill="#000"/>
<rect x="301.00" y="943.27" width="1.00" height="7.73" fill="#000"/>
<rect x="302.00" y="943.27" width="1.00" height="7.73" fill="#000"/>
<rect x="303.00" y="943.27" width="1.00" height="7.73" fill="#222"/>
<rect x="304.00" y="943.27" width="1.00" height="7.73" fill="#000"/>
<rect x="305.00" y="943.27" width="1.00" height="7.73" fill="#888"/>
<rect x="306.00" y="943.27" width="1.00" height="7.73" fill="#000"/>
<rect x="307.00" y="943.27" width="1.00" height="7.73" fill="#000"/>
<rect x="308.00" y="943.27" width="1.00" height="7.73" fill="#000"/>
<rect x="309.00" y="943.27" width="1.00" height="7.73" fill="#000"/>
<rect x="310.00" y="943.27" width="1.00" height="7.73" fill="#000"/>
<rect x="311.00" y="943.27" width="1.00" height="7.73" fill="#000"/>
<rect x="312.00" y="943.27" width="1.00" height="7.73" fill="#000"/>
<rect x="313.00" y="943.27" width="1.00" height="7.73" fill="#222"/>
<rect x="314.00" y="943.27" width="1.00" height="7.73" fill="#000"/>
<rect x="315.00" y="943.27" width="1.00" height="7.73" fill="#000"/>
<rect x="316.00" y="943.27" width="1.00" height="7.73" fill="#000"/>
<rect x="317.00" y="943.27" width="1.00" height="7.73" fill="#222"/>
<rect x="318.00" y="943.27" width="1.00" height="7.73" fill="#000"/>
<rect x="319.00" y="943.27" width="1.00" height="7.73" fill="#000"/>
<rect x="320.00" y="943.27" width="1.00" height="7.73" fill="#000"/>
<rect x="321.00" y="943.27" width="1.00" height="7.73" fill="#000"/>
<rect x="322.00" y="943.27" width="1.00" height="7.73" fill="#000"/>
<rect x="323.00" y="943.27" width="1.00" height="7.73" fill="#000"/>
<rect x="324.00" y="943.27" width="1.00" height="7.73" fill="#3a3a3a"/>
<rect x="325.00" y="943.27" width="1.00" height="7.73" fill="#000"/>
<rect x="326.00" y="943.27" width="1.00" height="7.73" fill="#000"/>
<rect x="327.00" y="943.27" width="1.00" height="7.73" fill="#000"/>
<rect x="328.00" y="943.27" width="1.00" height="7.73" fill="#888"/>
<rect x="329.00" y="943.27" width="1.00" height="7.73" fill="#000"/>
<rect x="330.00" y="943.27" width="1.00" height="7.73" fill="#000"/>
<rect x="331.00" y="943.27" width="1.00" height="7.73" fill="#000"/>
<rect x="332.00" y="943.27" width="1.00" height="7.73" fill="#000"/>
<rect x="333.00" y="943.27" width="1.00" height="7.73" fill="#000"/>
<rect x="334.00" y="943.27" width="1.00" height="7.73" fill="#000"/>
<rect x="335.00" y="943.27" width="1.00" height="7.73" fill="#000"/>
<rect x="336.00" y="943.27" width="1.00" height="7.73" fill="#000"/>
<rect x="337.00" y="943.27" width="1.00" height="7.73" fill="#000"/>
<rect x="338.00" y="943.27" width="1.00" height="7.73" fill="#000"/>
<rect x="339.00" y="943.27" width="1.00" height="7.73" fill="#666"/>
<rect x="340.00" y="943.27" width="1.00" height="7.73" fill="#000"/>
<rect x="341.00" y="943.27" width="1.00" height="7.73" fill="#3a3a3a"/>
<rect x="342.00" y="943.27" width="1.00" height="7.73" fill="#000"/>
<rect x="343.00" y="943.27" width="1.00" height="7.73" fill="#000"/>
<rect x="344.00" y="943.27" width="1.00" height="7.73" fill="#000"/>
<rect x="345.00" y="943.27" width="1.00" height="7.73" fill="#000"/>
<rect x="346.00" y="943.27" width="1.00" height="7.73" fill="#000"/>
<rect x="347.00" y="943.27" width="1.00" height="7.73" fill="#000"/>
<rect x="348.00" y="943.27" width="1.00" height="7.73" fill="#000"/>
<rect x="349.00" y="943.27" width="1.00" height="7.73" fill="#000"/>
<rect x="350.00" y="943.27" width="1.00" height="7.73" fill="#000"/>
<rect x="351.00" y="943.27" width="1.00" height="7.73" fill="#000"/>
<rect x="352.00" y="943.27" width="1.00" height="7.73" fill="#000"/>
<rect x="353.00" y="943.27" width="1.00" height="7.73" fill="#000"/>
<rect x="354.00" y="943.27" width="1.00" height="7.73" fill="#222"/>
<rect x="355.00" y="943.27" width="1.00" height="7.73" fill="#000"/>
<rect x="356.00" y="943.27" width="1.00" height="7.73" fill="#222"/>
<rect x="357.00" y="943.27" width="1.00" height="7.73" fill="#000"/>
<rect x="358.00" y="943.27" width="1.00" height="7.73" fill="#000"/>
<rect x="359.00" y="943.27" width="1.00" height="7.73" fill="#000"/>
<rect x="360.00" y="943.27" width="1.00" height="7.73" fill="#222"/>
<rect x="361.00" y="943.27" width="1.00" height="7.73" fill="#222"/>
<rect x="362.00" y="943.27" width="1.00" height="7.73" fill="#000"/>
<rect x="363.00" y="943.27" width="1.00" height="7.73" fill="#777"/>
<rect x="364.00" y="943.27" width="1.00" height="7.73" fill="#000"/>
<rect x="365.00" y="943.27" width="1.00" height="7.73" fill="#000"/>
<rect x="366.00" y="943.27" width="1.00" height="7.73" fill="#000"/>
<rect x="367.00" y="943.27" width="1.00" height="7.73" fill="#000"/>
<rect x="368.00" y="943.27" width="1.00" height="7.73" fill="#555"/>
<rect x="369.00" y="943.27" width="1.00" height="7.73" fill="#000"/>
<rect x="370.00" y="943.27" width="1.00" height="7.73" fill="#888"/>
<rect x="371.00" y="943.27" width="1.00" height="7.73" fill="#000"/>
<rect x="372.00" y="943.27" width="1.00" height="7.73" fill="#666"/>
<rect x="373.00" y="943.27" width="1.00" height="7.73" fill="#000"/>
<rect x="374.00" y="943.27" width="1.00" height="7.73" fill="#000"/>
<rect x="375.00" y="943.27" width="1.00" height="7.73" fill="#000"/>
<rect x="376.00" y="943.27" width="1.00" height="7.73" fill="#000"/>
<rect x="377.00" y="943.27" width="1.00" height="7.73" fill="#000"/>
<rect x="378.00" y="943.27" width="1.00" height="7.73" fill="#000"/>
<rect x="379.00" y="943.27" width="1.00" height="7.73" fill="#000"/>
<rect x="380.00" y="943.27" width="1.00" height="7.73" fill="#000"/>
<rect x="381.00" y="943.27" width="1.00" height="7.73" fill="#222"/>
<rect x="382.00" y="943.27" width="1.00" height="7.73" fill="#000"/>
<rect x="383.00" y="943.27" width="1.00" height="7.73" fill="#000"/>
<rect x="384.00" y="943.27" width="1.00" height="7.73" fill="#222"/>
<rect x="385.00" y="943.27" width="1.00" height="7.73" fill="#000"/>
<rect x="386.00" y="943.27" width="1.00" height="7.73" fill="#222"/>
<rect x="387.00" y="943.27" width="1.00" height="7.73" fill="#000"/>
<rect x="388.00" y="943.27" width="1.00" height="7.73" fill="#000"/>
<rect x="389.00" y="943.27" width="1.00" height="7.73" fill="#000"/>
<rect x="390.00" y="943.27" width="1.00" height="7.73" fill="#3a3a3a"/>
<rect x="391.00" y="943.27" width="1.00" height="7.73" fill="#000"/>
<rect x="392.00" y="943.27" width="1.00" height="7.73" fill="#000"/>
<rect x="393.00" y="943.27" width="1.00" height="7.73" fill="#000"/>
<rect x="394.00" y="943.27" width="1.00" height="7.73" fill="#000"/>
<rect x="395.00" y="943.27" width="1.00" height="7.73" fill="#222"/>
<rect x="396.00" y="943.27" width="1.00" height="7.73" fill="#222"/>
<rect x="397.00" y="943.27" width="1.00" height="7.73" fill="#000"/>
<rect x="398.00" y="943.27" width="1.00" height="7.73" fill="#000"/>
<rect x="399.00" y="943.27" width="1.00" height="7.73" fill="#222"/>
<rect x="400.00" y="943.27" width="1.00" height="7.73" fill="#000"/>
<rect x="401.00" y="943.27" width="1.00" height="7.73" fill="#222"/>
<rect x="402.00" y="943.27" width="1.00" height="7.73" fill="#000"/>
<rect x="403.00" y="943.27" width="1.00" height="7.73" fill="#222"/>
<rect x="404.00" y="943.27" width="1.00" height="7.73" fill="#000"/>
<rect x="405.00" y="943.27" width="1.00" height="7.73" fill="#000"/>
<rect x="406.00" y="943.27" width="1.00" height="7.73" fill="#000"/>
<rect x="407.00" y="943.27" width="1.00" height="7.73" fill="#000"/>
<rect x="408.00" y="943.27" width="1.00" height="7.73" fill="#000"/>
<rect x="409.00" y="943.27" width="1.00" height="7.73" fill="#000"/>
<rect x="410.00" y="943.27" width="1.00" height="7.73" fill="#000"/>
<rect x="411.00" y="943.27" width="1.00" height="7.73" fill="#000"/>
<rect x="412.00" y="943.27" width="1.00" height="7.73" fill="#555"/>
<rect x="413.00" y="943.27" width="1.00" height="7.73" fill="#000"/>
<rect x="414.00" y="943.27" width="1.00" height="7.73" fill="#000"/>
<rect x="415.00" y="943.27" width="1.00" height="7.73" fill="#000"/>
<rect x="416.00" y="943.27" width="1.00" height="7.73" fill="#000"/>
<rect x="417.00" y="943.27" width="1.00" height="7.73" fill="#000"/>
<rect x="418.00" y="943.27" width="1.00" height="7.73" fill="#000"/>
<rect x="419.00" y="943.27" width="1.00" height="7.73" fill="#222"/>
<rect x="420.00" y="943.27" width="1.00" height="7.73" fill="#000"/>
<rect x="421.00" y="943.27" width="1.00" height="7.73" fill="#000"/>
<rect x="422.00" y="943.27" width="1.00" height="7.73" fill="#000"/>
<rect x="425.00" y="943.27" width="1.00" height="7.73" fill="#000"/>
<rect x="426.00" y="943.27" width="1.00" height="7.73" fill="#000"/>
<rect x="427.00" y="943.27" width="1.00" height="7.73" fill="#000"/>
<rect x="428.00" y="943.27" width="1.00" height="7.73" fill="#000"/>
<rect x="429.00" y="943.27" width="1.00" height="7.73" fill="#000"/>
<rect x="430.00" y="943.27" width="1.00" height="7.73" fill="#000"/>
<rect x="431.00" y="943.27" width="1.00" height="7.73" fill="#000"/>
<rect x="432.00" y="943.27" width="1.00" height="7.73" fill="#000"/>
<rect x="433.00" y="943.27" width="1.00" height="7.73" fill="#000"/>
<rect x="434.00" y="943.27" width="1.00" height="7.73" fill="#000"/>
<rect x="435.00" y="943.27" width="1.00" height="7.73" fill="#000"/>
<rect x="436.00" y="943.27" width="1.00" height="7.73" fill="#000"/>
<rect x="437.00" y="943.27" width="1.00" height="7.73" fill="#000"/>
<rect x="438.00" y="943.27" width="1.00" height="7.73" fill="#000"/>
<rect x="439.00" y="943.27" width="1.00" height="7.73" fill="#000"/>
<rect x="440.00" y="943.27" width="1.00" height="7.73" fill="#000"/>
<rect x="441.00" y="943.27" width="1.00" height="7.73" fill="#666"/>
<rect x="442.00" y="943.27" width="1.00" height="7.73" fill="#000"/>
<rect x="443.00" y="943.27" width="1.00" height="7.73" fill="#000"/>
<rect x="444.00" y="943.27" width="1.00" height="7.73" fill="#555"/>
<rect x="445.00" y="943.27" width="1.00" height="7.73" fill="#000"/>
<rect x="446.00" y="943.27" width="1.00" height="7.73" fill="#000"/>
<rect x="447.00" y="943.27" width="1.00" height="7.73" fill="#222"/>
<rect x="452.00" y="943.27" width="1.00" height="7.73" fill="#000"/>
<rect x="453.00" y="943.27" width="1.00" height="7.73" fill="#000"/>
<rect x="454.00" y="943.27" width="1.00" height="7.73" fill="#666"/>
<rect x="455.00" y="943.27" width="1.00" height="7.73" fill="#000"/>
<rect x="456.00" y="943.27" width="1.00" height="7.73" fill="#000"/>
<rect x="457.00" y="943.27" width="1.00" height="7.73" fill="#666"/>
<rect x="458.00" y="943.27" width="1.00" height="7.73" fill="#222"/>
<rect x="459.00" y="943.27" width="1.00" height="7.73" fill="#222"/>
<rect x="460.00" y="943.27" width="1.00" height="7.73" fill="#000"/>
<rect x="461.00" y="943.27" width="1.00" height="7.73" fill="#000"/>
<rect x="462.00" y="943.27" width="1.00" height="7.73" fill="#000"/>
<rect x="463.00" y="943.27" width="1.00" height="7.73" fill="#222"/>
<rect x="465.00" y="943.27" width="1.00" height="7.73" fill="#000"/>
<rect x="466.00" y="943.27" width="1.00" height="7.73" fill="#000"/>
<rect x="467.00" y="943.27" width="1.00" height="7.73" fill="#000"/>
<rect x="468.00" y="943.27" width="1.00" height="7.73" fill="#000"/>
<rect x="469.00" y="943.27" width="1.00" height="7.73" fill="#000"/>
<rect x="470.00" y="943.27" width="1.00" height="7.73" fill="#000"/>
<rect x="471.00" y="943.27" width="1.00" height="7.73" fill="#000"/>
<rect x="472.00" y="943.27" width="1.00" height="7.73" fill="#000"/>
<rect x="473.00" y="943.27" width="1.00" height="7.73" fill="#222"/>
<rect x="474.00" y="943.27" width="1.00" height="7.73" fill="#000"/>
<rect x="475.00" y="943.27" width="1.00" height="7.73" fill="#222"/>
<rect x="476.00" y="943.27" width="1.00" height="7.73" fill="#000"/>
<rect x="477.00" y="943.27" width="1.00" height="7.73" fill="#000"/>
<rect x="478.00" y="943.27" width="1.00" height="7.73" fill="#000"/>
<rect x="479.00" y="943.27" width="1.00" height="7.73" fill="#000"/>
<rect x="480.00" y="943.27" width="1.00" height="7.73" fill="#000"/>
<rect x="481.00" y="943.27" width="1.00" height="7.73" fill="#222"/>
<rect x="482.00" y="943.27" width="1.00" height="7.73" fill="#000"/>
<rect x="483.00" y="943.27" width="1.00" height="7.73" fill="#000"/>
<rect x="484.00" y="943.27" width="1.00" height="7.73" fill="#000"/>
<rect x="485.00" y="943.27" width="1.00" height="7.73" fill="#222"/>
<rect x="489.00" y="943.27" width="1.00" height="7.73" fill="#000"/>
<rect x="490.00" y="943.27" width="1.00" height="7.73" fill="#000"/>
<rect x="491.00" y="943.27" width="1.00" height="7.73" fill="#888"/>
<rect x="492.00" y="943.27" width="1.00" height="7.73" fill="#000"/>
<rect x="493.00" y="943.27" width="1.00" height="7.73" fill="#555"/>
<rect x="494.00" y="943.27" width="1.00" height="7.73" fill="#555"/>
<rect x="495.00" y="943.27" width="1.00" height="7.73" fill="#000"/>
<rect x="496.00" y="943.27" width="1.00" height="7.73" fill="#000"/>
<rect x="497.00" y="943.27" width="1.00" height="7.73" fill="#666"/>
<rect x="498.00" y="943.27" width="1.00" height="7.73" fill="#222"/>
<rect x="499.00" y="943.27" width="1.00" height="7.73" fill="#000"/>
<rect x="500.00" y="943.27" width="1.00" height="7.73" fill="#222"/>
<rect x="501.00" y="943.27" width="1.00" height="7.73" fill="#000"/>
<rect x="502.00" y="943.27" width="1.00" height="7.73" fill="#222"/>
<rect x="504.00" y="943.27" width="1.00" height="7.73" fill="#000"/>
<rect x="505.00" y="943.27" width="1.00" height="7.73" fill="#3a3a3a"/>
<rect x="506.00" y="943.27" width="1.00" height="7.73" fill="#222"/>
<rect x="507.00" y="943.27" width="1.00" height="7.73" fill="#222"/>
<rect x="508.00" y="943.27" width="1.00" height="7.73" fill="#000"/>
<rect x="509.00" y="943.27" width="1.00" height="7.73" fill="#222"/>
<rect x="510.00" y="943.27" width="1.00" height="7.73" fill="#000"/>
<rect x="511.00" y="943.27" width="1.00" height="7.73" fill="#000"/>
<rect x="512.00" y="943.27" width="1.00" height="7.73" fill="#000"/>
<rect x="513.00" y="943.27" width="1.00" height="7.73" fill="#222"/>
<rect x="514.00" y="943.27" width="1.00" height="7.73" fill="#000"/>
<rect x="515.00" y="943.27" width="1.00" height="7.73" fill="#000"/>
<rect x="516.00" y="943.27" width="1.00" height="7.73" fill="#000"/>
<rect x="517.00" y="943.27" width="1.00" height="7.73" fill="#888"/>
<rect x="518.00" y="943.27" width="1.00" height="7.73" fill="#000"/>
<rect x="519.00" y="943.27" width="1.00" height="7.73" fill="#000"/>
<rect x="520.00" y="943.27" width="1.00" height="7.73" fill="#000"/>
<rect x="521.00" y="943.27" width="1.00" height="7.73" fill="#222"/>
<rect x="522.00" y="943.27" width="1.00" height="7.73" fill="#000"/>
<rect x="523.00" y="943.27" width="1.00" height="7.73" fill="#000"/>
<rect x="524.00" y="943.27" width="1.00" height="7.73" fill="#000"/>
<rect x="525.00" y="943.27" width="1.00" height="7.73" fill="#000"/>
<rect x="526.00" y="943.27" width="1.00" height="7.73" fill="#000"/>
<rect x="527.00" y="943.27" width="1.00" height="7.73" fill="#222"/>
<rect x="528.00" y="943.27" width="1.00" height="7.73" fill="#000"/>
<rect x="529.00" y="943.27" width="1.00" height="7.73" fill="#000"/>
<rect x="530.00" y="943.27" width="1.00" height="7.73" fill="#000"/>
<rect x="531.00" y="943.27" width="1.00" height="7.73" fill="#000"/>
<rect x="532.00" y="943.27" width="1.00" height="7.73" fill="#000"/>
<rect x="533.00" y="943.27" width="1.00" height="7.73" fill="#000"/>
<rect x="534.00" y="943.27" width="1.00" height="7.73" fill="#000"/>
<rect x="535.00" y="943.27" width="1.00" height="7.73" fill="#000"/>
<rect x="536.00" y="943.27" width="1.00" height="7.73" fill="#000"/>
<rect x="537.00" y="943.27" width="1.00" height="7.73" fill="#000"/>
<rect x="538.00" y="943.27" width="1.00" height="7.73" fill="#000"/>
<rect x="539.00" y="943.27" width="1.00" height="7.73" fill="#000"/>
<rect x="540.00" y="943.27" width="1.00" height="7.73" fill="#000"/>
<rect x="541.00" y="943.27" width="1.00" height="7.73" fill="#000"/>
<rect x="542.00" y="943.27" width="1.00" height="7.73" fill="#000"/>
<rect x="543.00" y="943.27" width="1.00" height="7.73" fill="#000"/>
<rect x="544.00" y="943.27" width="1.00" height="7.73" fill="#777"/>
<rect x="545.00" y="943.27" width="1.00" height="7.73" fill="#000"/>
<rect x="546.00" y="943.27" width="1.00" height="7.73" fill="#000"/>
<rect x="547.00" y="943.27" width="1.00" height="7.73" fill="#000"/>
<rect x="548.00" y="943.27" width="1.00" height="7.73" fill="#000"/>
<rect x="549.00" y="943.27" width="1.00" height="7.73" fill="#000"/>
<rect x="550.00" y="943.27" width="1.00" height="7.73" fill="#222"/>
<rect x="551.00" y="943.27" width="1.00" height="7.73" fill="#000"/>
<rect x="552.00" y="943.27" width="1.00" height="7.73" fill="#000"/>
<rect x="553.00" y="943.27" width="1.00" height="7.73" fill="#000"/>
<rect x="554.00" y="943.27" width="1.00" height="7.73" fill="#000"/>
<rect x="555.00" y="943.27" width="1.00" height="7.73" fill="#000"/>
<rect x="556.00" y="943.27" width="1.00" height="7.73" fill="#222"/>
<rect x="557.00" y="943.27" width="1.00" height="7.73" fill="#222"/>
<rect x="558.00" y="943.27" width="1.00" height="7.73" fill="#000"/>
<rect x="559.00" y="943.27" width="1.00" height="7.73" fill="#000"/>
<rect x="560.00" y="943.27" width="1.00" height="7.73" fill="#777"/>
<rect x="561.00" y="943.27" width="1.00" height="7.73" fill="#000"/>
<rect x="562.00" y="943.27" width="1.00" height="7.73" fill="#000"/>
<rect x="563.00" y="943.27" width="1.00" height="7.73" fill="#000"/>
<rect x="567.00" y="943.27" width="1.00" height="7.73" fill="#000"/>
<rect x="568.00" y="943.27" width="1.00" height="7.73" fill="#000"/>
<rect x="569.00" y="943.27" width="1.00" height="7.73" fill="#000"/>
<rect x="570.00" y="943.27" width="1.00" height="7.73" fill="#000"/>
<rect x="571.00" y="943.27" width="1.00" height="7.73" fill="#000"/>
<rect x="572.00" y="943.27" width="1.00" height="7.73" fill="#000"/>
<rect x="573.00" y="943.27" width="1.00" height="7.73" fill="#000"/>
<rect x="574.00" y="943.27" width="1.00" height="7.73" fill="#000"/>
<rect x="575.00" y="943.27" width="1.00" height="7.73" fill="#000"/>
<rect x="576.00" y="943.27" width="1.00" height="7.73" fill="#777"/>
<rect x="577.00" y="943.27" width="1.00" height="7.73" fill="#000"/>
<rect x="578.00" y="943.27" width="1.00" height="7.73" fill="#000"/>
<rect x="579.00" y="943.27" width="1.00" height="7.73" fill="#000"/>
<rect x="580.00" y="943.27" width="1.00" height="7.73" fill="#000"/>
<rect x="581.00" y="943.27" width="1.00" height="7.73" fill="#222"/>
<rect x="582.00" y="943.27" width="1.00" height="7.73" fill="#000"/>
<rect x="583.00" y="943.27" width="1.00" height="7.73" fill="#000"/>
<rect x="584.00" y="943.27" width="1.00" height="7.73" fill="#000"/>
<rect x="585.00" y="943.27" width="1.00" height="7.73" fill="#000"/>
<rect x="586.00" y="943.27" width="1.00" height="7.73" fill="#666"/>
<rect x="587.00" y="943.27" width="1.00" height="7.73" fill="#555"/>
<rect x="588.00" y="943.27" width="1.00" height="7.73" fill="#000"/>
<rect x="589.00" y="943.27" width="1.00" height="7.73" fill="#000"/>
<rect x="590.00" y="943.27" width="1.00" height="7.73" fill="#000"/>
<rect x="591.00" y="943.27" width="1.00" height="7.73" fill="#222"/>
<rect x="592.00" y="943.27" width="1.00" height="7.73" fill="#000"/>
<rect x="594.00" y="943.27" width="1.00" height="7.73" fill="#000"/>
<rect x="595.00" y="943.27" width="1.00" height="7.73" fill="#000"/>
<rect x="598.00" y="943.27" width="1.00" height="7.73" fill="#888"/>
<rect x="599.00" y="943.27" width="1.00" height="7.73" fill="#222"/>
<rect x="600.00" y="943.27" width="1.00" height="7.73" fill="#222"/>
<rect x="601.00" y="943.27" width="1.00" height="7.73" fill="#000"/>
<rect x="602.00" y="943.27" width="1.00" height="7.73" fill="#222"/>
<rect x="603.00" y="943.27" width="1.00" height="7.73" fill="#666"/>
<rect x="606.00" y="943.27" width="1.00" height="7.73" fill="#000"/>
<rect x="607.00" y="943.27" width="1.00" height="7.73" fill="#222"/>
<rect x="608.00" y="943.27" width="1.00" height="7.73" fill="#222"/>
<rect x="609.00" y="943.27" width="1.00" height="7.73" fill="#000"/>
<rect x="610.00" y="943.27" width="1.00" height="7.73" fill="#000"/>
<rect x="611.00" y="943.27" width="1.00" height="7.73" fill="#000"/>
<rect x="613.00" y="943.27" width="1.00" height="7.73" fill="#888"/>
<rect x="614.00" y="943.27" width="1.00" height="7.73" fill="#000"/>
<rect x="615.00" y="943.27" width="1.00" height="7.73" fill="#000"/>
<rect x="616.00" y="943.27" width="1.00" height="7.73" fill="#888"/>
<rect x="617.00" y="943.27" width="1.00" height="7.73" fill="#000"/>
<rect x="618.00" y="943.27" width="1.00" height="7.73" fill="#000"/>
<rect x="619.00" y="943.27" width="1.00" height="7.73" fill="#000"/>
<rect x="620.00" y="943.27" width="1.00" height="7.73" fill="#000"/>
<rect x="621.00" y="943.27" width="1.00" height="7.73" fill="#000"/>
<rect x="622.00" y="943.27" width="1.00" height="7.73" fill="#000"/>
<rect x="625.00" y="943.27" width="1.00" height="7.73" fill="#000"/>
<rect x="626.00" y="943.27" width="1.00" height="7.73" fill="#000"/>
<rect x="627.00" y="943.27" width="1.00" height="7.73" fill="#000"/>
<rect x="628.00" y="943.27" width="1.00" height="7.73" fill="#000"/>
<rect x="629.00" y="943.27" width="1.00" height="7.73" fill="#3a3a3a"/>
<rect x="633.00" y="943.27" width="1.00" height="7.73" fill="#000"/>
<rect x="634.00" y="943.27" width="1.00" height="7.73" fill="#888"/>
<rect x="635.00" y="943.27" width="1.00" height="7.73" fill="#000"/>
<rect x="636.00" y="943.27" width="1.00" height="7.73" fill="#000"/>
<rect x="637.00" y="943.27" width="1.00" height="7.73" fill="#000"/>
<rect x="638.00" y="943.27" width="1.00" height="7.73" fill="#000"/>
<rect x="639.00" y="943.27" width="1.00" height="7.73" fill="#000"/>
<rect x="640.00" y="943.27" width="1.00" height="7.73" fill="#000"/>
<rect x="641.00" y="943.27" width="1.00" height="7.73" fill="#000"/>
<rect x="642.00" y="943.27" width="1.00" height="7.73" fill="#000"/>
<rect x="643.00" y="943.27" width="1.00" height="7.73" fill="#3a3a3a"/>
<rect x="644.00" y="943.27" width="1.00" height="7.73" fill="#000"/>
<rect x="646.00" y="943.27" width="1.00" height="7.73" fill="#666"/>
<rect x="647.00" y="943.27" width="1.00" height="7.73" fill="#222"/>
<rect x="649.00" y="943.27" width="1.00" height="7.73" fill="#000"/>
<rect x="650.00" y="943.27" width="1.00" height="7.73" fill="#888"/>
<rect x="652.00" y="943.27" width="1.00" height="7.73" fill="#000"/>
<rect x="653.00" y="943.27" width="1.00" height="7.73" fill="#000"/>
<rect x="654.00" y="943.27" width="1.00" height="7.73" fill="#000"/>
<rect x="655.00" y="943.27" width="1.00" height="7.73" fill="#000"/>
<rect x="656.00" y="943.27" width="1.00" height="7.73" fill="#000"/>
<rect x="657.00" y="943.27" width="1.00" height="7.73" fill="#000"/>
<rect x="658.00" y="943.27" width="1.00" height="7.73" fill="#3a3a3a"/>
<rect x="659.00" y="943.27" width="1.00" height="7.73" fill="#222"/>
<rect x="660.00" y="943.27" width="1.00" height="7.73" fill="#3a3a3a"/>
<rect x="661.00" y="943.27" width="1.00" height="7.73" fill="#000"/>
<rect x="662.00" y="943.27" width="1.00" height="7.73" fill="#000"/>
<rect x="663.00" y="943.27" width="1.00" height="7.73" fill="#000"/>
<rect x="664.00" y="943.27" width="1.00" height="7.73" fill="#666"/>
<rect x="665.00" y="943.27" width="1.00" height="7.73" fill="#666"/>
<rect x="666.00" y="943.27" width="1.00" height="7.73" fill="#000"/>
<rect x="667.00" y="943.27" width="1.00" height="7.73" fill="#000"/>
<rect x="668.00" y="943.27" width="1.00" height="7.73" fill="#000"/>
<rect x="669.00" y="943.27" width="1.00" height="7.73" fill="#000"/>
<rect x="670.00" y="943.27" width="1.00" height="7.73" fill="#222"/>
<rect x="672.00" y="943.27" width="1.00" height="7.73" fill="#000"/>
<rect x="673.00" y="943.27" width="1.00" height="7.73" fill="#555"/>
<rect x="674.00" y="943.27" width="1.00" height="7.73" fill="#000"/>
<rect x="675.00" y="943.27" width="1.00" height="7.73" fill="#000"/>
<rect x="676.00" y="943.27" width="1.00" height="7.73" fill="#000"/>
<rect x="677.00" y="943.27" width="1.00" height="7.73" fill="#000"/>
<rect x="678.00" y="943.27" width="1.00" height="7.73" fill="#000"/>
<rect x="679.00" y="943.27" width="1.00" height="7.73" fill="#000"/>
<rect x="680.00" y="943.27" width="1.00" height="7.73" fill="#222"/>
<rect x="681.00" y="943.27" width="1.00" height="7.73" fill="#000"/>
<rect x="684.00" y="943.27" width="1.00" height="7.73" fill="#666"/>
<rect x="685.00" y="943.27" width="1.00" height="7.73" fill="#000"/>
<rect x="686.00" y="943.27" width="1.00" height="7.73" fill="#000"/>
<rect x="687.00" y="943.27" width="1.00" height="7.73" fill="#666"/>
<rect x="688.00" y="943.27" width="1.00" height="7.73" fill="#555"/>
<rect x="689.00" y="943.27" width="1.00" height="7.73" fill="#555"/>
<rect x="690.00" y="943.27" width="1.00" height="7.73" fill="#000"/>
<rect x="691.00" y="943.27" width="1.00" height="7.73" fill="#666"/>
<rect x="692.00" y="943.27" width="1.00" height="7.73" fill="#777"/>
<rect x="693.00" y="943.27" width="1.00" height="7.73" fill="#000"/>
<rect x="694.00" y="943.27" width="1.00" height="7.73" fill="#000"/>
<rect x="695.00" y="943.27" width="1.00" height="7.73" fill="#000"/>
<rect x="696.00" y="943.27" width="1.00" height="7.73" fill="#000"/>
<rect x="698.00" y="943.27" width="1.00" height="7.73" fill="#000"/>
<rect x="699.00" y="943.27" width="1.00" height="7.73" fill="#777"/>
<rect x="701.00" y="943.27" width="1.00" height="7.73" fill="#666"/>
<rect x="702.00" y="943.27" width="1.00" height="7.73" fill="#777"/>
<rect x="704.00" y="943.27" width="1.00" height="7.73" fill="#000"/>
<rect x="705.00" y="943.27" width="1.00" height="7.73" fill="#000"/>
<rect x="708.00" y="943.27" width="1.00" height="7.73" fill="#000"/>
<rect x="709.00" y="943.27" width="1.00" height="7.73" fill="#000"/>
<rect x="710.00" y="943.27" width="1.00" height="7.73" fill="#000"/>
<rect x="711.00" y="943.27" width="1.00" height="7.73" fill="#000"/>
<rect x="712.00" y="943.27" width="1.00" height="7.73" fill="#3a3a3a"/>
<rect x="713.00" y="943.27" width="1.00" height="7.73" fill="#000"/>
<rect x="714.00" y="943.27" width="1.00" height="7.73" fill="#000"/>
<rect x="715.00" y="943.27" width="1.00" height="7.73" fill="#222"/>
<rect x="716.00" y="943.27" width="1.00" height="7.73" fill="#000"/>
<rect x="718.00" y="943.27" width="1.00" height="7.73" fill="#555"/>
<rect x="719.00" y="943.27" width="1.00" height="7.73" fill="#000"/>
<rect x="721.00" y="943.27" width="1.00" height="7.73" fill="#000"/>
<rect x="722.00" y="943.27" width="1.00" height="7.73" fill="#000"/>
<rect x="723.00" y="943.27" width="1.00" height="7.73" fill="#000"/>
<rect x="724.00" y="943.27" width="1.00" height="7.73" fill="#000"/>
<rect x="725.00" y="943.27" width="1.00" height="7.73" fill="#000"/>
<rect x="726.00" y="943.27" width="1.00" height="7.73" fill="#222"/>
<rect x="727.00" y="943.27" width="1.00" height="7.73" fill="#222"/>
<rect x="728.00" y="943.27" width="1.00" height="7.73" fill="#666"/>
<rect x="729.00" y="943.27" width="1.00" height="7.73" fill="#222"/>
<rect x="731.00" y="943.27" width="1.00" height="7.73" fill="#777"/>
<rect x="732.00" y="943.27" width="1.00" height="7.73" fill="#000"/>
<rect x="733.00" y="943.27" width="1.00" height="7.73" fill="#000"/>
<rect x="735.00" y="943.27" width="1.00" height="7.73" fill="#222"/>
<rect x="736.00" y="943.27" width="1.00" height="7.73" fill="#777"/>
<rect x="737.00" y="943.27" width="1.00" height="7.73" fill="#000"/>
<rect x="738.00" y="943.27" width="1.00" height="7.73" fill="#000"/>
<rect x="739.00" y="943.27" width="1.00" height="7.73" fill="#555"/>
<rect x="740.00" y="943.27" width="1.00" height="7.73" fill="#000"/>
<rect x="741.00" y="943.27" width="1.00" height="7.73" fill="#666"/>
<rect x="742.00" y="943.27" width="1.00" height="7.73" fill="#000"/>
<rect x="746.00" y="943.27" width="1.00" height="7.73" fill="#000"/>
<rect x="747.00" y="943.27" width="1.00" height="7.73" fill="#000"/>
<rect x="748.00" y="943.27" width="1.00" height="7.73" fill="#000"/>
<rect x="749.00" y="943.27" width="1.00" height="7.73" fill="#000"/>
<rect x="750.00" y="943.27" width="1.00" height="7.73" fill="#888"/>
<rect x="751.00" y="943.27" width="1.00" height="7.73" fill="#666"/>
<rect x="753.00" y="943.27" width="1.00" height="7.73" fill="#000"/>
<rect x="754.00" y="943.27" width="1.00" height="7.73" fill="#777"/>
<rect x="755.00" y="943.27" width="1.00" height="7.73" fill="#000"/>
<rect x="756.00" y="943.27" width="1.00" height="7.73" fill="#777"/>
<rect x="757.00" y="943.27" width="1.00" height="7.73" fill="#3a3a3a"/>
<rect x="758.00" y="943.27" width="1.00" height="7.73" fill="#777"/>
<rect x="759.00" y="943.27" width="1.00" height="7.73" fill="#222"/>
<rect x="760.00" y="943.27" width="1.00" height="7.73" fill="#3a3a3a"/>
<rect x="761.00" y="943.27" width="1.00" height="7.73" fill="#000"/>
<rect x="762.00" y="943.27" width="1.00" height="7.73" fill="#555"/>
<rect x="763.00" y="943.27" width="1.00" height="7.73" fill="#000"/>
<rect x="764.00" y="943.27" width="1.00" height="7.73" fill="#000"/>
<rect x="767.00" y="943.27" width="1.00" height="7.73" fill="#000"/>
<rect x="768.00" y="943.27" width="1.00" height="7.73" fill="#000"/>
<rect x="769.00" y="943.27" width="1.00" height="7.73" fill="#222"/>
<rect x="772.00" y="943.27" width="1.00" height="7.73" fill="#000"/>
<rect x="773.00" y="943.27" width="1.00" height="7.73" fill="#000"/>
<rect x="774.00" y="943.27" width="1.00" height="7.73" fill="#000"/>
<rect x="775.00" y="943.27" width="1.00" height="7.73" fill="#000"/>
<rect x="776.00" y="943.27" width="1.00" height="7.73" fill="#777"/>
<rect x="777.00" y="943.27" width="1.00" height="7.73" fill="#000"/>
<rect x="784.00" y="943.27" width="1.00" height="7.73" fill="#000"/>
<rect x="785.00" y="943.27" width="1.00" height="7.73" fill="#000"/>
<rect x="786.00" y="943.27" width="1.00" height="7.73" fill="#000"/>
<rect x="787.00" y="943.27" width="1.00" height="7.73" fill="#222"/>
<rect x="788.00" y="943.27" width="1.00" height="7.73" fill="#888"/>
<rect x="789.00" y="943.27" width="1.00" height="7.73" fill="#555"/>
<rect x="790.00" y="943.27" width="1.00" height="7.73" fill="#888"/>
<rect x="791.00" y="943.27" width="1.00" height="7.73" fill="#000"/>
<rect x="792.00" y="943.27" width="1.00" height="7.73" fill="#222"/>
<rect x="793.00" y="943.27" width="1.00" height="7.73" fill="#3a3a3a"/>
<rect x="794.00" y="943.27" width="1.00" height="7.73" fill="#000"/>
<rect x="795.00" y="943.27" width="1.00" height="7.73" fill="#888"/>
<rect x="796.00" y="943.27" width="1.00" height="7.73" fill="#000"/>
<rect x="797.00" y="943.27" width="1.00" height="7.73" fill="#000"/>
<rect x="798.00" y="943.27" width="1.00" height="7.73" fill="#3a3a3a"/>
<rect x="799.00" y="943.27" width="1.00" height="7.73" fill="#000"/>
<rect x="117.00" y="935.54" width="1.00" height="7.73" fill="#000"/>
<rect x="118.00" y="935.54" width="1.00" height="7.73" fill="#222"/>
<rect x="158.00" y="935.54" width="1.00" height="7.73" fill="#222"/>
<rect x="159.00" y="935.54" width="1.00" height="7.73" fill="#000"/>
<rect x="160.00" y="935.54" width="1.00" height="7.73" fill="#222"/>
<rect x="161.00" y="935.54" width="1.00" height="7.73" fill="#666"/>
<rect x="167.00" y="935.54" width="1.00" height="7.73" fill="#000"/>
<rect x="168.00" y="935.54" width="1.00" height="7.73" fill="#222"/>
<rect x="169.00" y="935.54" width="1.00" height="7.73" fill="#666"/>
<rect x="174.00" y="935.54" width="1.00" height="7.73" fill="#222"/>
<rect x="175.00" y="935.54" width="1.00" height="7.73" fill="#000"/>
<rect x="178.00" y="927.81" width="1.00" height="15.46" fill="#000"/>
<rect x="182.00" y="935.54" width="1.00" height="7.73" fill="#666"/>
<rect x="183.00" y="935.54" width="1.00" height="7.73" fill="#111"/>
<rect x="206.00" y="935.54" width="1.00" height="7.73" fill="#000"/>
<rect x="207.00" y="935.54" width="1.00" height="7.73" fill="#444"/>
<rect x="208.00" y="935.54" width="1.00" height="7.73" fill="#666"/>
<rect x="216.00" y="935.54" width="1.00" height="7.73" fill="#666"/>
<rect x="217.00" y="935.54" width="1.00" height="7.73" fill="#111"/>
<rect x="218.00" y="935.54" width="1.00" height="7.73" fill="#000"/>
<rect x="236.00" y="935.54" width="1.00" height="7.73" fill="#444"/>
<rect x="237.00" y="935.54" width="1.00" height="7.73" fill="#666"/>
<rect x="238.00" y="935.54" width="1.00" height="7.73" fill="#000"/>
<rect x="251.00" y="935.54" width="1.00" height="7.73" fill="#111"/>
<rect x="252.00" y="935.54" width="1.00" height="7.73" fill="#000"/>
<rect x="260.00" y="935.54" width="1.00" height="7.73" fill="#000"/>
<rect x="261.00" y="935.54" width="1.00" height="7.73" fill="#222"/>
<rect x="262.00" y="935.54" width="1.00" height="7.73" fill="#111"/>
<rect x="263.00" y="935.54" width="1.00" height="7.73" fill="#000"/>
<rect x="264.00" y="935.54" width="1.00" height="7.73" fill="#000"/>
<rect x="265.00" y="935.54" width="1.00" height="7.73" fill="#000"/>
<rect x="266.00" y="935.54" width="1.00" height="7.73" fill="#444"/>
<rect x="274.00" y="935.54" width="1.00" height="7.73" fill="#000"/>
<rect x="279.00" y="935.54" width="1.00" height="7.73" fill="#000"/>
<rect x="298.00" y="935.54" width="1.00" height="7.73" fill="#111"/>
<rect x="299.00" y="920.08" width="1.00" height="23.19" fill="#666"/>
<rect x="301.00" y="935.54" width="1.00" height="7.73" fill="#666"/>
<rect x="302.00" y="935.54" width="1.00" height="7.73" fill="#000"/>
<rect x="303.00" y="935.54" width="1.00" height="7.73" fill="#222"/>
<rect x="304.00" y="935.54" width="1.00" height="7.73" fill="#000"/>
<rect x="311.00" y="927.81" width="1.00" height="15.46" fill="#666"/>
<rect x="325.00" y="927.81" width="1.00" height="15.46" fill="#000"/>
<rect x="326.00" y="927.81" width="1.00" height="15.46" fill="#222"/>
<rect x="327.00" y="935.54" width="1.00" height="7.73" fill="#000"/>
<rect x="332.00" y="927.81" width="1.00" height="15.46" fill="#444"/>
<rect x="333.00" y="935.54" width="1.00" height="7.73" fill="#000"/>
<rect x="334.00" y="927.81" width="1.00" height="15.46" fill="#222"/>
<rect x="335.00" y="927.81" width="1.00" height="15.46" fill="#444"/>
<rect x="349.00" y="935.54" width="1.00" height="7.73" fill="#000"/>
<rect x="350.00" y="935.54" width="1.00" height="7.73" fill="#000"/>
<rect x="351.00" y="935.54" width="1.00" height="7.73" fill="#000"/>
<rect x="352.00" y="935.54" width="1.00" height="7.73" fill="#222"/>
<rect x="355.00" y="935.54" width="1.00" height="7.73" fill="#222"/>
<rect x="369.00" y="935.54" width="1.00" height="7.73" fill="#222"/>
<rect x="370.00" y="935.54" width="1.00" height="7.73" fill="#000"/>
<rect x="371.00" y="935.54" width="1.00" height="7.73" fill="#000"/>
<rect x="372.00" y="935.54" width="1.00" height="7.73" fill="#000"/>
<rect x="373.00" y="935.54" width="1.00" height="7.73" fill="#000"/>
<rect x="374.00" y="935.54" width="1.00" height="7.73" fill="#222"/>
<rect x="378.00" y="935.54" width="1.00" height="7.73" fill="#000"/>
<rect x="379.00" y="935.54" width="1.00" height="7.73" fill="#666"/>
<rect x="380.00" y="935.54" width="1.00" height="7.73" fill="#111"/>
<rect x="393.00" y="935.54" width="1.00" height="7.73" fill="#000"/>
<rect x="396.00" y="935.54" width="1.00" height="7.73" fill="#444"/>
<rect x="397.00" y="935.54" width="1.00" height="7.73" fill="#000"/>
<rect x="398.00" y="935.54" width="1.00" height="7.73" fill="#222"/>
<rect x="399.00" y="935.54" width="1.00" height="7.73" fill="#000"/>
<rect x="418.00" y="935.54" width="1.00" height="7.73" fill="#666"/>
<rect x="419.00" y="935.54" width="1.00" height="7.73" fill="#000"/>
<rect x="428.00" y="927.81" width="1.00" height="15.46" fill="#000"/>
<rect x="429.00" y="927.81" width="1.00" height="15.46" fill="#000"/>
<rect x="432.00" y="935.54" width="1.00" height="7.73" fill="#666"/>
<rect x="436.00" y="935.54" width="1.00" height="7.73" fill="#444"/>
<rect x="444.00" y="935.54" width="1.00" height="7.73" fill="#666"/>
<rect x="445.00" y="935.54" width="1.00" height="7.73" fill="#000"/>
<rect x="446.00" y="935.54" width="1.00" height="7.73" fill="#444"/>
<rect x="447.00" y="935.54" width="1.00" height="7.73" fill="#000"/>
<rect x="476.00" y="927.81" width="1.00" height="15.46" fill="#000"/>
<rect x="477.00" y="935.54" width="1.00" height="7.73" fill="#444"/>
<rect x="479.00" y="935.54" width="1.00" height="7.73" fill="#000"/>
<rect x="480.00" y="935.54" width="1.00" height="7.73" fill="#111"/>
<rect x="491.00" y="927.81" width="1.00" height="15.46" fill="#000"/>
<rect x="552.00" y="935.54" width="1.00" height="7.73" fill="#000"/>
<rect x="553.00" y="935.54" width="1.00" height="7.73" fill="#000"/>
<rect x="554.00" y="935.54" width="1.00" height="7.73" fill="#000"/>
<rect x="555.00" y="935.54" width="1.00" height="7.73" fill="#000"/>
<rect x="559.00" y="935.54" width="1.00" height="7.73" fill="#000"/>
<rect x="560.00" y="935.54" width="1.00" height="7.73" fill="#000"/>
<rect x="726.00" y="935.54" width="1.00" height="7.73" fill="#000"/>
<rect x="727.00" y="935.54" width="1.00" height="7.73" fill="#444"/>
<rect x="880.00" y="405.47" width="3.00" height="6.23" fill="#000"/>
<rect x="886.00" y="405.47" width="1.00" height="6.23" fill="#333"/>
<rect x="888.00" y="405.47" width="1.00" height="6.23" fill="#222"/>
<rect x="890.00" y="405.47" width="11.00" height="6.23" fill="#000"/>
<rect x="903.00" y="405.47" width="1.00" height="6.23" fill="#111"/>
<rect x="910.00" y="405.47" width="8.00" height="6.23" fill="#555"/>
<rect x="920.00" y="405.47" width="8.00" height="6.23" fill="#666"/>
<rect x="934.00" y="405.47" width="4.00" height="6.23" fill="#666"/>
<rect x="946.00" y="405.47" width="4.00" height="6.23" fill="#000"/>
<rect x="954.00" y="405.47" width="1.00" height="6.23" fill="#222"/>
<rect x="958.00" y="405.47" width="4.00" height="6.23" fill="#000"/>
<rect x="966.00" y="405.47" width="3.00" height="6.23" fill="#555"/>
<rect x="970.00" y="405.47" width="4.00" height="6.23" fill="#333"/>
<rect x="975.00" y="405.47" width="2.00" height="6.23" fill="#111"/>
<rect x="978.00" y="405.47" width="3.00" height="6.23" fill="#000"/>
<rect x="986.00" y="405.47" width="1.00" height="6.23" fill="#111"/>
<rect x="880.00" y="399.25" width="1.00" height="6.23" fill="#222"/>
<rect x="947.00" y="399.25" width="1.00" height="6.23" fill="#333"/>
<rect x="959.00" y="399.25" width="2.00" height="6.23" fill="#333"/>
<rect x="970.00" y="399.25" width="4.00" height="6.23" fill="#666"/>
<rect x="978.00" y="399.25" width="2.00" height="6.23" fill="#444"/>
<rect x="898.00" y="399.25" width="3.00" height="6.23" fill="#666"/>
<rect x="800.00" y="943.27" width="1.00" height="7.73" fill="#111"/>
<rect x="803.00" y="943.27" width="2.00" height="7.73" fill="#222"/>
<rect x="806.00" y="943.27" width="2.00" height="7.73" fill="#333"/>
<rect x="810.00" y="943.27" width="7.00" height="7.73" fill="#222"/>
<rect x="818.00" y="943.27" width="6.00" height="7.73" fill="#000"/>
<rect x="828.00" y="943.27" width="1.00" height="7.73" fill="#333"/>
<rect x="830.00" y="943.27" width="4.00" height="7.73" fill="#666"/>
<rect x="843.00" y="943.27" width="4.00" height="7.73" fill="#000"/>
<rect x="853.00" y="943.27" width="2.00" height="7.73" fill="#111"/>
<rect x="857.00" y="943.27" width="3.00" height="7.73" fill="#000"/>
<rect x="861.00" y="943.27" width="1.00" height="7.73" fill="#333"/>
<rect x="874.00" y="943.27" width="2.00" height="7.73" fill="#111"/>
<rect x="878.00" y="943.27" width="3.00" height="7.73" fill="#666"/>
<rect x="889.00" y="943.27" width="1.00" height="7.73" fill="#222"/>
<rect x="896.00" y="943.27" width="1.00" height="7.73" fill="#222"/>
<rect x="901.00" y="943.27" width="1.00" height="7.73" fill="#222"/>
<rect x="902.00" y="943.27" width="1.00" height="7.73" fill="#222"/>
<rect x="903.00" y="943.27" width="1.00" height="7.73" fill="#222"/>
<rect x="909.00" y="943.27" width="1.00" height="7.73" fill="#222"/>
<rect x="910.00" y="943.27" width="1.00" height="7.73" fill="#222"/>
<rect x="914.00" y="943.27" width="1.00" height="7.73" fill="#222"/>
<rect x="920.00" y="943.27" width="1.00" height="7.73" fill="#222"/>
<rect x="921.00" y="943.27" width="1.00" height="7.73" fill="#222"/>
<rect x="922.00" y="943.27" width="1.00" height="7.73" fill="#222"/>
<rect x="923.00" y="943.27" width="1.00" height="7.73" fill="#222"/>
<rect x="924.00" y="943.27" width="1.00" height="7.73" fill="#222"/>
<rect x="925.00" y="943.27" width="1.00" height="7.73" fill="#222"/>
<rect x="926.00" y="943.27" width="1.00" height="7.73" fill="#222"/>
<rect x="930.00" y="943.27" width="1.00" height="7.73" fill="#222"/>
<rect x="936.00" y="943.27" width="1.00" height="7.73" fill="#222"/>
<rect x="937.00" y="943.27" width="1.00" height="7.73" fill="#222"/>
<rect x="938.00" y="943.27" width="1.00" height="7.73" fill="#222"/>
<rect x="939.00" y="943.27" width="1.00" height="7.73" fill="#222"/>
<rect x="940.00" y="943.27" width="1.00" height="7.73" fill="#222"/>
<rect x="962.00" y="943.27" width="1.00" height="7.73" fill="#222"/>
<rect x="968.00" y="943.27" width="1.00" height="7.73" fill="#222"/>
<rect x="973.00" y="943.27" width="1.00" height="7.73" fill="#222"/>
<rect x="974.00" y="943.27" width="1.00" height="7.73" fill="#222"/>
<rect x="977.00" y="943.27" width="1.00" height="7.73" fill="#222"/>
<line x1="207.50" y1="1.00" x2="207.50" y2="411.70" stroke="#2a2a2a" stroke-width="1.0" stroke-linecap="butt"/>
<line x1="208.50" y1="355.70" x2="208.50" y2="411.70" stroke="#2a2a2a" stroke-width="1.0" stroke-linecap="butt"/>
<line x1="175.50" y1="243.80" x2="175.50" y2="411.70" stroke="#2a2a2a" stroke-width="1.0" stroke-linecap="butt"/>
<line x1="195.50" y1="256.00" x2="195.50" y2="411.70" stroke="#2a2a2a" stroke-width="1.0" stroke-linecap="butt"/>
<line x1="137.50" y1="317.60" x2="137.50" y2="411.70" stroke="#2a2a2a" stroke-width="1.0" stroke-linecap="butt"/>
<line x1="138.50" y1="355.70" x2="138.50" y2="411.70" stroke="#2a2a2a" stroke-width="1.0" stroke-linecap="butt"/>
<line x1="131.50" y1="361.40" x2="131.50" y2="411.70" stroke="#2a2a2a" stroke-width="1.0" stroke-linecap="butt"/>
<line x1="142.50" y1="367.80" x2="142.50" y2="411.70" stroke="#2a2a2a" stroke-width="1.0" stroke-linecap="butt"/>
<line x1="146.50" y1="380.20" x2="146.50" y2="411.70" stroke="#2a2a2a" stroke-width="1.0" stroke-linecap="butt"/>
<line x1="144.50" y1="380.00" x2="144.50" y2="411.70" stroke="#2a2a2a" stroke-width="1.0" stroke-linecap="butt"/>
<line x1="156.50" y1="380.00" x2="156.50" y2="411.70" stroke="#2a2a2a" stroke-width="1.0" stroke-linecap="butt"/>
<line x1="158.50" y1="342.80" x2="158.50" y2="411.70" stroke="#2a2a2a" stroke-width="1.0" stroke-linecap="butt"/>
<line x1="165.50" y1="380.00" x2="165.50" y2="411.70" stroke="#2a2a2a" stroke-width="1.0" stroke-linecap="butt"/>
<line x1="168.50" y1="367.80" x2="168.50" y2="411.70" stroke="#2a2a2a" stroke-width="1.0" stroke-linecap="butt"/>
<line x1="173.50" y1="380.00" x2="173.50" y2="411.70" stroke="#2a2a2a" stroke-width="1.0" stroke-linecap="butt"/>
<line x1="177.50" y1="311.60" x2="177.50" y2="411.70" stroke="#2a2a2a" stroke-width="1.0" stroke-linecap="butt"/>
<line x1="183.50" y1="374.30" x2="183.50" y2="411.70" stroke="#2a2a2a" stroke-width="1.0" stroke-linecap="butt"/>
<line x1="187.50" y1="342.80" x2="187.50" y2="411.70" stroke="#2a2a2a" stroke-width="1.0" stroke-linecap="butt"/>
<line x1="188.50" y1="355.70" x2="188.50" y2="411.70" stroke="#2a2a2a" stroke-width="1.0" stroke-linecap="butt"/>
<line x1="196.50" y1="380.00" x2="196.50" y2="411.70" stroke="#2a2a2a" stroke-width="1.0" stroke-linecap="butt"/>
<line x1="205.50" y1="380.00" x2="205.50" y2="411.70" stroke="#2a2a2a" stroke-width="1.0" stroke-linecap="butt"/>
<line x1="202.50" y1="392.40" x2="202.50" y2="411.70" stroke="#2a2a2a" stroke-width="1.0" stroke-linecap="butt"/>
<line x1="213.50" y1="392.40" x2="213.50" y2="411.70" stroke="#2a2a2a" stroke-width="1.0" stroke-linecap="butt"/>
<line x1="218.50" y1="386.60" x2="218.50" y2="411.70" stroke="#2a2a2a" stroke-width="1.0" stroke-linecap="butt"/>
<line x1="221.50" y1="386.60" x2="221.50" y2="411.70" stroke="#2a2a2a" stroke-width="1.0" stroke-linecap="butt"/>
<line x1="225.50" y1="336.80" x2="225.50" y2="411.70" stroke="#2a2a2a" stroke-width="1.0" stroke-linecap="butt"/>
<line x1="253.50" y1="318.20" x2="253.50" y2="411.70" stroke="#2a2a2a" stroke-width="1.0" stroke-linecap="butt"/>
<line x1="256.50" y1="318.20" x2="256.50" y2="411.70" stroke="#2a2a2a" stroke-width="1.0" stroke-linecap="butt"/>
<line x1="245.50" y1="361.90" x2="245.50" y2="411.70" stroke="#2a2a2a" stroke-width="1.0" stroke-linecap="butt"/>
<line x1="236.50" y1="374.30" x2="236.50" y2="411.70" stroke="#2a2a2a" stroke-width="1.0" stroke-linecap="butt"/>
<line x1="240.50" y1="380.20" x2="240.50" y2="411.70" stroke="#2a2a2a" stroke-width="1.0" stroke-linecap="butt"/>
<line x1="244.50" y1="374.30" x2="244.50" y2="411.70" stroke="#2a2a2a" stroke-width="1.0" stroke-linecap="butt"/>
<line x1="268.50" y1="361.90" x2="268.50" y2="411.70" stroke="#2a2a2a" stroke-width="1.0" stroke-linecap="butt"/>
<line x1="265.50" y1="380.00" x2="265.50" y2="411.70" stroke="#2a2a2a" stroke-width="1.0" stroke-linecap="butt"/>
<line x1="271.50" y1="386.60" x2="271.50" y2="411.70" stroke="#2a2a2a" stroke-width="1.0" stroke-linecap="butt"/>
<line x1="254.50" y1="380.00" x2="254.50" y2="411.70" stroke="#2a2a2a" stroke-width="1.0" stroke-linecap="butt"/>
<line x1="257.50" y1="386.60" x2="257.50" y2="411.70" stroke="#2a2a2a" stroke-width="1.0" stroke-linecap="butt"/>
<line x1="286.50" y1="392.40" x2="286.50" y2="411.70" stroke="#2a2a2a" stroke-width="1.0" stroke-linecap="butt"/>
<line x1="297.50" y1="392.40" x2="297.50" y2="411.70" stroke="#2a2a2a" stroke-width="1.0" stroke-linecap="butt"/>
<line x1="303.50" y1="386.60" x2="303.50" y2="411.70" stroke="#2a2a2a" stroke-width="1.0" stroke-linecap="butt"/>
<line x1="315.50" y1="324.00" x2="315.50" y2="411.70" stroke="#2a2a2a" stroke-width="1.0" stroke-linecap="butt"/>
<line x1="316.50" y1="367.80" x2="316.50" y2="411.70" stroke="#2a2a2a" stroke-width="1.0" stroke-linecap="butt"/>
<line x1="323.50" y1="386.60" x2="323.50" y2="411.70" stroke="#2a2a2a" stroke-width="1.0" stroke-linecap="butt"/>
<line x1="328.50" y1="386.60" x2="328.50" y2="411.70" stroke="#2a2a2a" stroke-width="1.0" stroke-linecap="butt"/>
<line x1="335.50" y1="361.90" x2="335.50" y2="411.70" stroke="#2a2a2a" stroke-width="1.0" stroke-linecap="butt"/>
<line x1="339.50" y1="374.30" x2="339.50" y2="411.70" stroke="#2a2a2a" stroke-width="1.0" stroke-linecap="butt"/>
<line x1="334.50" y1="374.30" x2="334.50" y2="411.70" stroke="#2a2a2a" stroke-width="1.0" stroke-linecap="butt"/>
<line x1="348.50" y1="386.60" x2="348.50" y2="411.70" stroke="#2a2a2a" stroke-width="1.0" stroke-linecap="butt"/>
<line x1="367.50" y1="305.80" x2="367.50" y2="411.70" stroke="#2a2a2a" stroke-width="1.0" stroke-linecap="butt"/>
<line x1="368.50" y1="361.90" x2="368.50" y2="411.70" stroke="#2a2a2a" stroke-width="1.0" stroke-linecap="butt"/>
<line x1="355.50" y1="380.00" x2="355.50" y2="411.70" stroke="#2a2a2a" stroke-width="1.0" stroke-linecap="butt"/>
<line x1="407.50" y1="380.00" x2="407.50" y2="411.70" stroke="#2a2a2a" stroke-width="1.0" stroke-linecap="butt"/>
<line x1="419.50" y1="386.60" x2="419.50" y2="411.70" stroke="#2a2a2a" stroke-width="1.0" stroke-linecap="butt"/>
<line x1="470.50" y1="343.30" x2="470.50" y2="411.70" stroke="#2a2a2a" stroke-width="1.0" stroke-linecap="butt"/>
<line x1="471.50" y1="367.80" x2="471.50" y2="411.70" stroke="#2a2a2a" stroke-width="1.0" stroke-linecap="butt"/>
<line x1="497.50" y1="380.00" x2="497.50" y2="411.70" stroke="#2a2a2a" stroke-width="1.0" stroke-linecap="butt"/>
<line x1="483.50" y1="386.60" x2="483.50" y2="411.70" stroke="#2a2a2a" stroke-width="1.0" stroke-linecap="butt"/>
<line x1="540.50" y1="355.70" x2="540.50" y2="411.70" stroke="#2a2a2a" stroke-width="1.0" stroke-linecap="butt"/>
<line x1="541.50" y1="374.30" x2="541.50" y2="411.70" stroke="#2a2a2a" stroke-width="1.0" stroke-linecap="butt"/>
<line x1="522.50" y1="386.60" x2="522.50" y2="411.70" stroke="#2a2a2a" stroke-width="1.0" stroke-linecap="butt"/>
<line x1="534.50" y1="386.60" x2="534.50" y2="411.70" stroke="#2a2a2a" stroke-width="1.0" stroke-linecap="butt"/>
<line x1="547.50" y1="386.60" x2="547.50" y2="411.70" stroke="#2a2a2a" stroke-width="1.0" stroke-linecap="butt"/>
<line x1="591.50" y1="324.00" x2="591.50" y2="411.70" stroke="#2a2a2a" stroke-width="1.0" stroke-linecap="butt"/>
<line x1="592.50" y1="355.70" x2="592.50" y2="411.70" stroke="#2a2a2a" stroke-width="1.0" stroke-linecap="butt"/>
<line x1="672.50" y1="361.90" x2="672.50" y2="411.70" stroke="#2a2a2a" stroke-width="1.0" stroke-linecap="butt"/>
<line x1="673.50" y1="374.30" x2="673.50" y2="411.70" stroke="#2a2a2a" stroke-width="1.0" stroke-linecap="butt"/>
<line x1="751.50" y1="367.80" x2="751.50" y2="411.70" stroke="#2a2a2a" stroke-width="1.0" stroke-linecap="butt"/>
<line x1="739.50" y1="392.40" x2="739.50" y2="411.70" stroke="#2a2a2a" stroke-width="1.0" stroke-linecap="butt"/>
<line x1="842.50" y1="367.80" x2="842.50" y2="411.70" stroke="#2a2a2a" stroke-width="1.0" stroke-linecap="butt"/>
<line x1="843.50" y1="386.60" x2="843.50" y2="411.70" stroke="#2a2a2a" stroke-width="1.0" stroke-linecap="butt"/>
<line x1="829.50" y1="386.70" x2="829.50" y2="411.70" stroke="#2a2a2a" stroke-width="1.0" stroke-linecap="butt"/>
<line x1="891.50" y1="374.60" x2="891.50" y2="411.70" stroke="#2a2a2a" stroke-width="1.0" stroke-linecap="butt"/>
<line x1="892.50" y1="380.50" x2="892.50" y2="411.70" stroke="#2a2a2a" stroke-width="1.0" stroke-linecap="butt"/>
<line x1="898.50" y1="393.30" x2="898.50" y2="411.70" stroke="#2a2a2a" stroke-width="1.0" stroke-linecap="butt"/>
<line x1="880.50" y1="399.00" x2="880.50" y2="411.70" stroke="#2a2a2a" stroke-width="1.0" stroke-linecap="butt"/>
<line x1="980.50" y1="393.30" x2="980.50" y2="411.70" stroke="#2a2a2a" stroke-width="1.0" stroke-linecap="butt"/>
<line x1="947.50" y1="399.00" x2="947.50" y2="411.70" stroke="#2a2a2a" stroke-width="1.0" stroke-linecap="butt"/>
<line x1="960.50" y1="399.00" x2="960.50" y2="411.70" stroke="#2a2a2a" stroke-width="1.0" stroke-linecap="butt"/>
<line x1="972.50" y1="399.00" x2="972.50" y2="411.70" stroke="#2a2a2a" stroke-width="1.0" stroke-linecap="butt"/>
<rect x="150.00" y="238.60" width="1.80" height="49.30" fill="#111"/>
<line x1="150.60" y1="293.40" x2="150.60" y2="411.70" stroke="#2a2a2a" stroke-width="1.0" stroke-linecap="butt"/>
<line x1="378.50" y1="541.60" x2="378.50" y2="951.00" stroke="#2a2a2a" stroke-width="1.0" stroke-linecap="butt"/>
<line x1="379.50" y1="819.60" x2="379.50" y2="951.00" stroke="#2a2a2a" stroke-width="1.0" stroke-linecap="butt"/>
<line x1="537.50" y1="626.90" x2="537.50" y2="951.00" stroke="#2a2a2a" stroke-width="1.0" stroke-linecap="butt"/>
<line x1="538.50" y1="858.70" x2="538.50" y2="951.00" stroke="#2a2a2a" stroke-width="1.0" stroke-linecap="butt"/>
<line x1="539.50" y1="897.00" x2="539.50" y2="951.00" stroke="#2a2a2a" stroke-width="1.0" stroke-linecap="butt"/>
<line x1="778.50" y1="773.40" x2="778.50" y2="951.00" stroke="#2a2a2a" stroke-width="1.0" stroke-linecap="butt"/>
<line x1="779.50" y1="842.90" x2="779.50" y2="951.00" stroke="#2a2a2a" stroke-width="1.0" stroke-linecap="butt"/>
<line x1="780.50" y1="928.00" x2="780.50" y2="951.00" stroke="#2a2a2a" stroke-width="1.0" stroke-linecap="butt"/>
<line x1="708.50" y1="835.20" x2="708.50" y2="951.00" stroke="#2a2a2a" stroke-width="1.0" stroke-linecap="butt"/>
<line x1="709.50" y1="897.20" x2="709.50" y2="951.00" stroke="#2a2a2a" stroke-width="1.0" stroke-linecap="butt"/>
<line x1="457.50" y1="842.80" x2="457.50" y2="951.00" stroke="#2a2a2a" stroke-width="1.0" stroke-linecap="butt"/>
<line x1="458.50" y1="920.20" x2="458.50" y2="951.00" stroke="#2a2a2a" stroke-width="1.0" stroke-linecap="butt"/>
<line x1="274.50" y1="881.50" x2="274.50" y2="951.00" stroke="#2a2a2a" stroke-width="1.0" stroke-linecap="butt"/>
<line x1="207.50" y1="881.50" x2="207.50" y2="951.00" stroke="#2a2a2a" stroke-width="1.0" stroke-linecap="butt"/>
<line x1="228.50" y1="881.50" x2="228.50" y2="951.00" stroke="#2a2a2a" stroke-width="1.0" stroke-linecap="butt"/>
<line x1="616.50" y1="881.30" x2="616.50" y2="951.00" stroke="#2a2a2a" stroke-width="1.0" stroke-linecap="butt"/>
<line x1="617.50" y1="920.00" x2="617.50" y2="951.00" stroke="#2a2a2a" stroke-width="1.0" stroke-linecap="butt"/>
<line x1="183.50" y1="889.00" x2="183.50" y2="951.00" stroke="#2a2a2a" stroke-width="1.0" stroke-linecap="butt"/>
<line x1="365.50" y1="889.30" x2="365.50" y2="951.00" stroke="#2a2a2a" stroke-width="1.0" stroke-linecap="butt"/>
<line x1="366.50" y1="912.20" x2="366.50" y2="951.00" stroke="#2a2a2a" stroke-width="1.0" stroke-linecap="butt"/>
<line x1="446.50" y1="889.30" x2="446.50" y2="951.00" stroke="#2a2a2a" stroke-width="1.0" stroke-linecap="butt"/>
<line x1="515.50" y1="897.20" x2="515.50" y2="951.00" stroke="#2a2a2a" stroke-width="1.0" stroke-linecap="butt"/>
<line x1="501.50" y1="904.70" x2="501.50" y2="951.00" stroke="#2a2a2a" stroke-width="1.0" stroke-linecap="butt"/>
<line x1="385.50" y1="904.70" x2="385.50" y2="951.00" stroke="#2a2a2a" stroke-width="1.0" stroke-linecap="butt"/>
<line x1="194.50" y1="904.90" x2="194.50" y2="951.00" stroke="#2a2a2a" stroke-width="1.0" stroke-linecap="butt"/>
<line x1="585.50" y1="904.70" x2="585.50" y2="951.00" stroke="#2a2a2a" stroke-width="1.0" stroke-linecap="butt"/>
<line x1="584.50" y1="920.00" x2="584.50" y2="951.00" stroke="#2a2a2a" stroke-width="1.0" stroke-linecap="butt"/>
<line x1="672.50" y1="904.70" x2="672.50" y2="951.00" stroke="#2a2a2a" stroke-width="1.0" stroke-linecap="butt"/>
<line x1="174.50" y1="912.40" x2="174.50" y2="951.00" stroke="#2a2a2a" stroke-width="1.0" stroke-linecap="butt"/>
<line x1="392.50" y1="912.20" x2="392.50" y2="951.00" stroke="#2a2a2a" stroke-width="1.0" stroke-linecap="butt"/>
<line x1="406.50" y1="912.20" x2="406.50" y2="951.00" stroke="#2a2a2a" stroke-width="1.0" stroke-linecap="butt"/>
<line x1="570.50" y1="912.20" x2="570.50" y2="951.00" stroke="#2a2a2a" stroke-width="1.0" stroke-linecap="butt"/>
<line x1="686.50" y1="912.20" x2="686.50" y2="951.00" stroke="#2a2a2a" stroke-width="1.0" stroke-linecap="butt"/>
<line x1="764.50" y1="912.20" x2="764.50" y2="951.00" stroke="#2a2a2a" stroke-width="1.0" stroke-linecap="butt"/>
<line x1="765.50" y1="920.00" x2="765.50" y2="951.00" stroke="#2a2a2a" stroke-width="1.0" stroke-linecap="butt"/>
<line x1="924.50" y1="920.40" x2="924.50" y2="951.00" stroke="#2a2a2a" stroke-width="1.0" stroke-linecap="butt"/>
<line x1="353.50" y1="920.20" x2="353.50" y2="951.00" stroke="#2a2a2a" stroke-width="1.0" stroke-linecap="butt"/>
<line x1="401.50" y1="920.20" x2="401.50" y2="951.00" stroke="#2a2a2a" stroke-width="1.0" stroke-linecap="butt"/>
<line x1="251.50" y1="920.10" x2="251.50" y2="951.00" stroke="#2a2a2a" stroke-width="1.0" stroke-linecap="butt"/>
<line x1="556.50" y1="920.20" x2="556.50" y2="951.00" stroke="#2a2a2a" stroke-width="1.0" stroke-linecap="butt"/>
<line x1="173.50" y1="928.20" x2="173.50" y2="951.00" stroke="#2a2a2a" stroke-width="1.0" stroke-linecap="butt"/>
<line x1="192.50" y1="927.60" x2="192.50" y2="951.00" stroke="#2a2a2a" stroke-width="1.0" stroke-linecap="butt"/>
<line x1="206.50" y1="920.00" x2="206.50" y2="951.00" stroke="#2a2a2a" stroke-width="1.0" stroke-linecap="butt"/>
<line x1="857.50" y1="928.00" x2="857.50" y2="951.00" stroke="#2a2a2a" stroke-width="1.0" stroke-linecap="butt"/>
<line x1="415.50" y1="928.00" x2="415.50" y2="951.00" stroke="#2a2a2a" stroke-width="1.0" stroke-linecap="butt"/>
<line x1="374.50" y1="928.00" x2="374.50" y2="951.00" stroke="#2a2a2a" stroke-width="1.0" stroke-linecap="butt"/>
<line x1="479.50" y1="928.00" x2="479.50" y2="951.00" stroke="#2a2a2a" stroke-width="1.0" stroke-linecap="butt"/>
<line x1="486.50" y1="928.00" x2="486.50" y2="951.00" stroke="#2a2a2a" stroke-width="1.0" stroke-linecap="butt"/>
<line x1="523.50" y1="928.00" x2="523.50" y2="951.00" stroke="#2a2a2a" stroke-width="1.0" stroke-linecap="butt"/>
<line x1="656.50" y1="928.00" x2="656.50" y2="951.00" stroke="#2a2a2a" stroke-width="1.0" stroke-linecap="butt"/>
<line x1="271.50" y1="920.20" x2="271.50" y2="951.00" stroke="#2a2a2a" stroke-width="1.0" stroke-linecap="butt"/>
<line x1="295.50" y1="920.20" x2="295.50" y2="951.00" stroke="#2a2a2a" stroke-width="1.0" stroke-linecap="butt"/>
<line x1="301.50" y1="920.20" x2="301.50" y2="951.00" stroke="#2a2a2a" stroke-width="1.0" stroke-linecap="butt"/>
<line x1="258.50" y1="928.00" x2="258.50" y2="951.00" stroke="#2a2a2a" stroke-width="1.0" stroke-linecap="butt"/>
<line x1="215.50" y1="928.00" x2="215.50" y2="951.00" stroke="#2a2a2a" stroke-width="1.0" stroke-linecap="butt"/>
<line x1="328.50" y1="928.00" x2="328.50" y2="951.00" stroke="#2a2a2a" stroke-width="1.0" stroke-linecap="butt"/>
<line x1="910.50" y1="935.20" x2="910.50" y2="951.00" stroke="#2a2a2a" stroke-width="1.0" stroke-linecap="butt"/>
<line x1="811.50" y1="935.70" x2="811.50" y2="951.00" stroke="#2a2a2a" stroke-width="1.0" stroke-linecap="butt"/>
<line x1="814.50" y1="935.70" x2="814.50" y2="951.00" stroke="#2a2a2a" stroke-width="1.0" stroke-linecap="butt"/>
<line x1="694.50" y1="928.00" x2="694.50" y2="951.00" stroke="#2a2a2a" stroke-width="1.0" stroke-linecap="butt"/>
<line x1="121.50" y1="935.70" x2="121.50" y2="951.00" stroke="#2a2a2a" stroke-width="1.0" stroke-linecap="butt"/>
<line x1="137.50" y1="935.70" x2="137.50" y2="951.00" stroke="#2a2a2a" stroke-width="1.0" stroke-linecap="butt"/>
<line x1="160.50" y1="935.70" x2="160.50" y2="951.00" stroke="#2a2a2a" stroke-width="1.0" stroke-linecap="butt"/>
<line x1="726.50" y1="935.70" x2="726.50" y2="951.00" stroke="#2a2a2a" stroke-width="1.0" stroke-linecap="butt"/>
<line x1="750.50" y1="935.70" x2="750.50" y2="951.00" stroke="#2a2a2a" stroke-width="1.0" stroke-linecap="butt"/>
<line x1="161.50" y1="872.40" x2="184.50" y2="886.60" stroke="#111" stroke-width="1.3" stroke-linecap="butt"/>
<line x1="576.50" y1="869.60" x2="585.50" y2="901.20" stroke="#111" stroke-width="1.3" stroke-linecap="butt"/>
<text transform="translate(396.23,159.60) scale(0.9700,1)" font-size="38.00" >L</text>
<text transform="translate(438.90,159.60) scale(0.9700,1)" font-size="38.00" >N</text>
<text transform="translate(485.87,159.60) scale(0.9700,1)" font-size="38.00" >A</text>
<text transform="translate(532.89,159.60) scale(0.9700,1)" font-size="38.00" >E</text>
<text transform="translate(577.70,159.60) scale(0.9700,1)" font-size="38.00" >N</text>
<text transform="translate(686.57,159.60) scale(0.9700,1)" font-size="38.00" >A</text>
<text transform="translate(732.23,159.60) scale(0.9700,1)" font-size="38.00" >T</text>
<text transform="translate(776.18,159.60) scale(0.9700,1)" font-size="38.00" >F</text>
<text transform="translate(819.19,159.60) scale(0.9700,1)" font-size="38.00" >Y</text>
<text transform="translate(864.58,159.60) scale(0.9700,1)" font-size="38.00" >F</text>
<text transform="translate(906.98,159.60) scale(0.9700,1)" font-size="38.00" >K</text>
<text transform="translate(624.65,159.60) scale(0.9700,1)" font-size="38.00" >N</text>
<text transform="translate(652.81,154.31) scale(1.0003,1)" font-size="30.10" >*</text>
<text transform="translate(552.90,612.50) scale(0.9700,1)" font-size="38.00" >N</text>
<text transform="translate(580.91,607.49) scale(0.9914,1)" font-size="30.37" >*</text>
<text transform="translate(417.75,612.50) scale(0.9700,1)" font-size="38.00" >H</text>
<text transform="translate(462.94,612.50) scale(0.9700,1)" font-size="38.00" >Y</text>
<text transform="translate(510.43,612.50) scale(0.9700,1)" font-size="38.00" >T</text>
<text transform="translate(614.00,612.50) scale(0.9700,1)" font-size="38.00" >S</text>
<text transform="translate(659.75,612.50) scale(0.9700,1)" font-size="38.00" >S</text>
<text transform="translate(704.23,612.50) scale(0.9700,1)" font-size="38.00" >Q</text>
<text transform="translate(753.38,612.50) scale(0.9700,1)" font-size="38.00" >D</text>
<text transform="translate(800.56,612.50) scale(0.9700,1)" font-size="38.00" >V</text>
<text transform="translate(845.38,612.50) scale(0.9700,1)" font-size="38.00" >T</text>
<text transform="translate(888.51,612.50) scale(0.9700,1)" font-size="38.00" >V</text>
<text transform="translate(933.15,612.50) scale(0.9700,1)" font-size="38.00" >P</text>
<text transform="translate(977.94,612.50) scale(0.9700,1)" font-size="38.00" >C</text>
<text transform="translate(1024.84,612.50) scale(0.9700,1)" font-size="38.00" >R</text>
<polyline points="459.60,86.00 426.30,108.00 426.30,174.60" fill="none" stroke="#000" stroke-width="2.6" stroke-linejoin="miter" stroke-linecap="butt"/>
<polyline points="510.60,86.00 477.30,108.00 477.30,174.60 444.70,196.70" fill="none" stroke="#000" stroke-width="2.6" stroke-linejoin="miter" stroke-linecap="butt"/>
<polyline points="556.40,86.00 523.10,108.00 523.10,174.60" fill="none" stroke="#000" stroke-width="2.6" stroke-linejoin="miter" stroke-linecap="butt"/>
<polyline points="600.40,86.00 567.10,108.00 567.10,174.60" fill="none" stroke="#000" stroke-width="2.6" stroke-linejoin="miter" stroke-linecap="butt"/>
<polyline points="646.40,86.00 613.10,108.00 613.10,174.60" fill="none" stroke="#000" stroke-width="2.6" stroke-linejoin="miter" stroke-linecap="butt"/>
<polyline points="704.80,86.00 671.50,108.00 671.50,174.60" fill="none" stroke="#000" stroke-width="2.6" stroke-linejoin="miter" stroke-linecap="butt"/>
<polyline points="755.00,86.00 721.70,108.00 721.70,174.60" fill="none" stroke="#000" stroke-width="2.6" stroke-linejoin="miter" stroke-linecap="butt"/>
<polyline points="797.10,86.00 763.80,108.00 763.80,174.60" fill="none" stroke="#000" stroke-width="2.6" stroke-linejoin="miter" stroke-linecap="butt"/>
<polyline points="840.20,86.00 806.90,108.00 806.90,174.60" fill="none" stroke="#000" stroke-width="2.6" stroke-linejoin="miter" stroke-linecap="butt"/>
<polyline points="885.50,86.00 852.20,108.00 852.20,174.60" fill="none" stroke="#000" stroke-width="2.6" stroke-linejoin="miter" stroke-linecap="butt"/>
<polyline points="928.30,86.00 895.00,108.00 895.00,174.60" fill="none" stroke="#000" stroke-width="2.6" stroke-linejoin="miter" stroke-linecap="butt"/>
<polyline points="504.00,561.00 504.00,625.30 471.40,646.00" fill="none" stroke="#000" stroke-width="2.6" stroke-linejoin="miter" stroke-linecap="butt"/>
<polyline points="603.40,561.00 603.40,625.30 570.80,646.00" fill="none" stroke="#000" stroke-width="2.6" stroke-linejoin="miter" stroke-linecap="butt"/>
<polyline points="650.60,561.00 650.60,625.30 618.00,646.00" fill="none" stroke="#000" stroke-width="2.6" stroke-linejoin="miter" stroke-linecap="butt"/>
<polyline points="725.80,540.20 693.00,561.00 693.00,625.30" fill="none" stroke="#000" stroke-width="2.6" stroke-linejoin="miter" stroke-linecap="butt"/>
<polyline points="779.50,540.20 746.70,561.00 746.70,625.30" fill="none" stroke="#000" stroke-width="2.6" stroke-linejoin="miter" stroke-linecap="butt"/>
<polyline points="867.50,540.20 834.70,561.00 834.70,625.30" fill="none" stroke="#000" stroke-width="2.6" stroke-linejoin="miter" stroke-linecap="butt"/>
<polyline points="911.90,540.20 879.10,561.00 879.10,625.30" fill="none" stroke="#000" stroke-width="2.6" stroke-linejoin="miter" stroke-linecap="butt"/>
<polyline points="955.20,540.20 922.40,561.00 922.40,625.30" fill="none" stroke="#000" stroke-width="2.6" stroke-linejoin="miter" stroke-linecap="butt"/>
<polyline points="1044.00,540.20 1011.20,561.00 1011.20,625.30" fill="none" stroke="#000" stroke-width="2.6" stroke-linejoin="miter" stroke-linecap="butt"/>
<polyline points="823.70,540.20 790.90,561.00 790.90,625.30 758.30,646.00" fill="none" stroke="#000" stroke-width="2.6" stroke-linejoin="miter" stroke-linecap="butt"/>
<text transform="translate(-1.19,30.44) scale(1.0014,1)" font-size="35.94" >(a)</text>
<text transform="translate(-1.21,556.94) scale(0.9851,1)" font-size="36.90" >(b)</text>
<use href="#one" transform="translate(63.28,25.74) scale(25.819,26.700)"/>
<text transform="translate(63.28,25.74) scale(0.9670,1)" font-size="26.70" ><tspan class="h">1</tspan>00</text>
<text transform="translate(77.74,102.34) scale(0.9670,1)" font-size="26.70" >80</text>
<text transform="translate(77.84,180.14) scale(0.9670,1)" font-size="26.70" >60</text>
<text transform="translate(77.84,258.04) scale(0.9670,1)" font-size="26.70" >40</text>
<text transform="translate(77.84,335.24) scale(0.9670,1)" font-size="26.70" >20</text>
<text transform="translate(92.10,430.64) scale(0.9670,1)" font-size="26.70" >0</text>
<use href="#one" transform="translate(64.48,557.04) scale(25.819,26.700)"/>
<text transform="translate(64.48,557.04) scale(0.9670,1)" font-size="26.70" ><tspan class="h">1</tspan>00</text>
<text transform="translate(78.94,639.84) scale(0.9670,1)" font-size="26.70" >80</text>
<text transform="translate(79.14,731.84) scale(0.9670,1)" font-size="26.70" >60</text>
<text transform="translate(79.14,808.24) scale(0.9670,1)" font-size="26.70" >40</text>
<text transform="translate(79.14,890.04) scale(0.9670,1)" font-size="26.70" >20</text>
<text transform="translate(92.30,966.64) scale(0.9670,1)" font-size="26.70" >0</text>
<text transform="translate(166.79,442.74) scale(0.9670,1)" font-size="26.70" >200</text>
<text transform="translate(173.49,982.74) scale(0.9670,1)" font-size="26.70" >200</text>
<text transform="translate(306.97,442.74) scale(0.9670,1)" font-size="26.70" >400</text>
<text transform="translate(333.03,982.74) scale(0.9670,1)" font-size="26.70" >400</text>
<text transform="translate(446.61,442.74) scale(0.9670,1)" font-size="26.70" >600</text>
<text transform="translate(492.03,982.74) scale(0.9670,1)" font-size="26.70" >600</text>
<text transform="translate(586.59,442.74) scale(0.9670,1)" font-size="26.70" >800</text>
<text transform="translate(651.37,982.74) scale(0.9670,1)" font-size="26.70" >800</text>
<use href="#one" transform="translate(718.84,442.74) scale(25.819,26.700)"/>
<text transform="translate(718.84,442.74) scale(0.9670,1)" font-size="26.70" ><tspan class="h">1</tspan>000</text>
<use href="#one" transform="translate(802.98,982.74) scale(25.819,26.700)"/>
<text transform="translate(802.98,982.74) scale(0.9670,1)" font-size="26.70" ><tspan class="h">1</tspan>000</text>
<use href="#one" transform="translate(858.76,442.74) scale(25.819,26.700)"/>
<text transform="translate(858.76,442.74) scale(0.9670,1)" font-size="26.70" ><tspan class="h">1</tspan>200</text>
<use href="#one" transform="translate(959.46,982.74) scale(25.819,26.700)"/>
<text transform="translate(959.46,982.74) scale(0.9670,1)" font-size="26.70" ><tspan class="h">1</tspan>200</text>
<text transform="translate(518.75,480.60) scale(1.0501,1)" font-size="24.98" font-style="italic" >m/z</text>
<text transform="translate(562.95,1027.50) scale(1.0453,1)" font-size="24.98" font-style="italic" >m/z</text>
<text transform="translate(54.13,337.10) rotate(-90) scale(0.9732,1)" font-size="27.64">Relative Abundance</text>
<text transform="translate(54.53,880.00) rotate(-90) scale(0.9672,1)" font-size="27.78">Relative Abundance</text>
<text transform="translate(239.65,35.74) scale(0.9500,1)" font-size="26.00" >b</text>
<text x="255.83" y="42.60" font-size="19.50" >2</text>
<text x="220.41" y="72.15" font-size="25.50" >228.2</text>
<text transform="translate(148.80,188.84) scale(0.9300,1)" font-size="26.00" >y</text>
<use href="#one" transform="translate(162.72,196.30) scale(19.500,19.500)"/>
<use href="#one" transform="translate(127.55,226.50) scale(25.500,25.500)"/>
<use href="#one" transform="translate(177.18,226.50) scale(25.500,25.500)"/>
<text x="127.55" y="226.50" font-size="25.50" ><tspan class="h">1</tspan>47.<tspan class="h">1</tspan></text>
<text transform="translate(246.15,277.44) scale(0.9300,1)" font-size="26.00" >y</text>
<text x="259.48" y="284.30" font-size="19.50" >2</text>
<text x="224.86" y="314.05" font-size="25.50" >294.2</text>
<text transform="translate(355.75,255.14) scale(0.9300,1)" font-size="26.00" >y</text>
<text x="370.16" y="262.88" font-size="19.50" >3</text>
<text x="335.71" y="292.21" font-size="25.50" >457.3</text>
<text transform="translate(439.25,299.74) scale(0.9300,1)" font-size="26.00" >y</text>
<text x="452.78" y="306.60" font-size="19.50" >4</text>
<text x="417.99" y="336.31" font-size="25.50" >604.3</text>
<text transform="translate(517.30,310.84) scale(0.9300,1)" font-size="26.00" >y</text>
<text x="530.65" y="316.81" font-size="19.50" >5</text>
<text x="494.61" y="347.15" font-size="25.50" >705.4</text>
<text transform="translate(580.15,277.34) scale(0.9300,1)" font-size="26.00" >y</text>
<text x="593.87" y="283.71" font-size="19.50" >6</text>
<text x="558.51" y="314.65" font-size="25.50" >776.4</text>
<text transform="translate(660.85,321.34) scale(0.9300,1)" font-size="26.00" >y</text>
<text x="674.19" y="328.60" font-size="19.50" >7</text>
<use href="#one" transform="translate(666.82,357.65) scale(25.500,25.500)"/>
<text x="638.46" y="357.65" font-size="25.50" >89<tspan class="h">1</tspan>.4</text>
<text transform="translate(741.95,321.44) scale(0.9300,1)" font-size="26.00" >y</text>
<text x="755.12" y="328.11" font-size="19.50" >8</text>
<use href="#one" transform="translate(714.07,358.55) scale(25.500,25.500)"/>
<text x="714.07" y="358.55" font-size="25.50" ><tspan class="h">1</tspan>005.5</text>
<text transform="translate(813.75,299.14) scale(0.9300,1)" font-size="26.00" >y</text>
<text x="826.90" y="306.11" font-size="19.50" >9</text>
<use href="#one" transform="translate(785.62,336.21) scale(25.500,25.500)"/>
<use href="#one" transform="translate(799.80,336.21) scale(25.500,25.500)"/>
<text x="785.62" y="336.21" font-size="25.50" ><tspan class="h">1</tspan><tspan class="h">1</tspan>34.5</text>
<text transform="translate(886.25,325.94) scale(0.9300,1)" font-size="26.00" >y</text>
<use href="#one" transform="translate(899.97,333.21) scale(19.500,19.500)"/>
<text x="899.97" y="333.21" font-size="19.50" ><tspan class="h">1</tspan>0</text>
<use href="#one" transform="translate(863.52,363.55) scale(25.500,25.500)"/>
<text x="863.52" y="363.55" font-size="25.50" ><tspan class="h">1</tspan>205.6</text>
<text transform="translate(976.75,343.14) scale(0.9300,1)" font-size="26.00" >y</text>
<use href="#one" transform="translate(990.85,350.20) scale(19.500,19.500)"/>
<use href="#one" transform="translate(1001.70,350.20) scale(19.500,19.500)"/>
<use href="#one" transform="translate(953.12,379.81) scale(25.500,25.500)"/>
<use href="#one" transform="translate(981.48,379.81) scale(25.500,25.500)"/>
<text x="953.12" y="379.81" font-size="25.50" ><tspan class="h">1</tspan>3<tspan class="h">1</tspan>9.6</text>
<text transform="translate(155.55,819.64) scale(0.9300,1)" font-size="26.00" >y</text>
<use href="#one" transform="translate(169.67,826.90) scale(19.500,19.500)"/>
<use href="#one" transform="translate(134.65,856.65) scale(25.500,25.500)"/>
<use href="#one" transform="translate(184.28,856.65) scale(25.500,25.500)"/>
<text x="134.65" y="856.65" font-size="25.50" ><tspan class="h">1</tspan>75.<tspan class="h">1</tspan></text>
<text transform="translate(263.90,833.04) scale(0.9500,1)" font-size="26.00" >b</text>
<text x="279.28" y="837.80" font-size="19.50" >2</text>
<use href="#one" transform="translate(273.51,867.51) scale(25.500,25.500)"/>
<use href="#one" transform="translate(294.78,867.51) scale(25.500,25.500)"/>
<text x="245.15" y="867.51" font-size="25.50" >30<tspan class="h">1</tspan>.<tspan class="h">1</tspan></text>
<text transform="translate(328.55,621.74) scale(0.9300,1)" font-size="26.00" >y</text>
<text x="342.66" y="629.18" font-size="19.50" >3</text>
<text x="308.01" y="658.71" font-size="25.50" >432.2</text>
<text transform="translate(401.90,842.94) scale(0.9500,1)" font-size="26.00" >b</text>
<text x="417.68" y="849.00" font-size="19.50" >4</text>
<use href="#one" transform="translate(396.84,878.01) scale(25.500,25.500)"/>
<text x="382.66" y="878.01" font-size="25.50" >5<tspan class="h">1</tspan>7.3</text>
<text transform="translate(445.20,786.64) scale(0.9300,1)" font-size="26.00" >y</text>
<text x="459.28" y="793.90" font-size="19.50" >4</text>
<use href="#one" transform="translate(452.93,823.61) scale(25.500,25.500)"/>
<text x="424.56" y="823.61" font-size="25.50" >53<tspan class="h">1</tspan>.3</text>
<text transform="translate(486.15,854.24) scale(0.9500,1)" font-size="26.00" >b</text>
<text x="502.50" y="860.81" font-size="19.50" >5</text>
<text x="467.64" y="890.11" font-size="25.50" >604.3</text>
<text transform="translate(560.65,685.44) scale(0.9300,1)" font-size="26.00" >y</text>
<use href="#one" transform="translate(574.30,697.60) scale(19.500,19.500)"/>
<use href="#one" transform="translate(585.15,697.60) scale(19.500,19.500)"/>
<text x="547.69" y="724.71" font-size="25.50" >632.3</text>
<text transform="translate(563.85,819.94) scale(0.9500,1)" font-size="26.00" >b</text>
<text x="579.77" y="827.11" font-size="19.50" >6</text>
<use href="#one" transform="translate(573.30,856.61) scale(25.500,25.500)"/>
<text x="544.94" y="856.61" font-size="25.50" >69<tspan class="h">1</tspan>.3</text>
<text transform="translate(646.55,853.64) scale(0.9300,1)" font-size="26.00" >y</text>
<text x="659.67" y="859.31" font-size="19.50" >6</text>
<use href="#one" transform="translate(653.03,889.31) scale(25.500,25.500)"/>
<text x="624.66" y="889.31" font-size="25.50" >73<tspan class="h">1</tspan>.4</text>
<text transform="translate(698.45,787.64) scale(0.9300,1)" font-size="26.00" >y</text>
<text x="711.84" y="793.70" font-size="19.50" >7</text>
<text x="676.71" y="823.65" font-size="25.50" >846.4</text>
<text transform="translate(766.25,732.04) scale(0.9500,1)" font-size="26.00" >b</text>
<text x="781.52" y="738.61" font-size="19.50" >8</text>
<text x="746.07" y="768.71" font-size="25.50" >934.4</text>
<text x="591.78" y="673.20" font-size="19.50" >2</text>
</svg>
</body></html>
